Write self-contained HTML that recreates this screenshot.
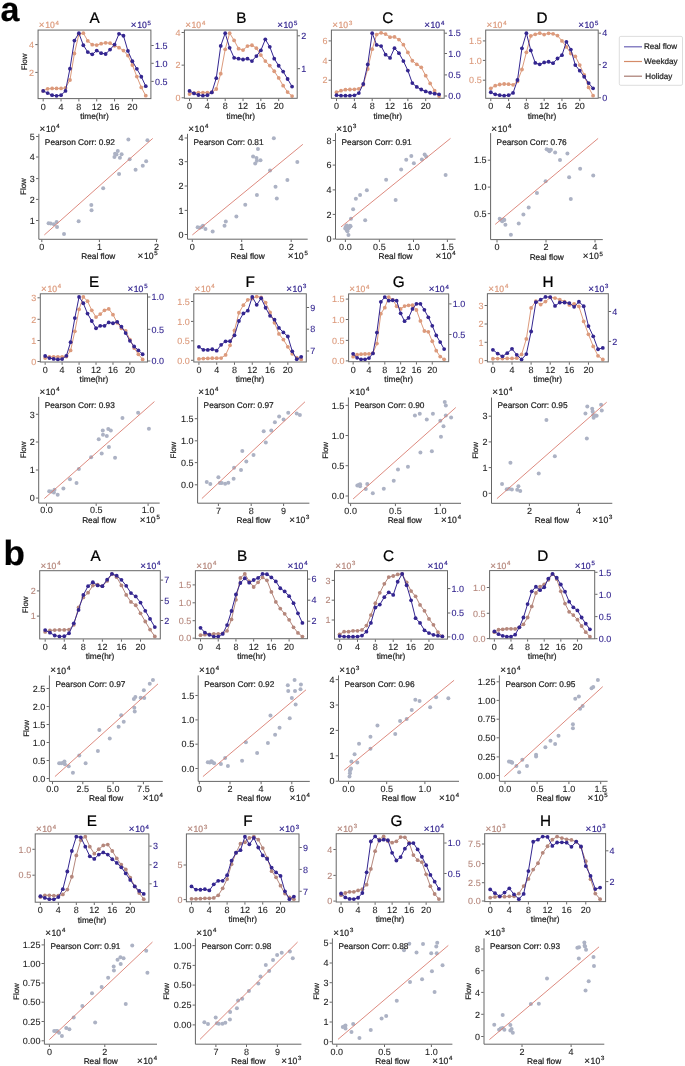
<!DOCTYPE html>
<html><head><meta charset="utf-8"><title>Figure</title><style>
html,body{margin:0;padding:0;background:#fff;}
svg{display:block;font-family:"Liberation Sans", sans-serif;will-change:transform;text-rendering:geometricPrecision;filter:blur(0.25px);}
text{stroke:currentColor;stroke-width:0.22px;}
text.t{stroke-width:0.1px;}
</style></head><body>
<svg width="685" height="1066" viewBox="0 0 685 1066">
<rect width="685" height="1066" fill="#fff"/>
<g clip-path="none">
<polyline points="43.20,90.88 47.66,88.81 52.12,88.46 56.58,88.46 61.04,88.46 65.50,87.95 69.96,80.02 74.42,53.49 78.88,34.20 83.34,33.17 87.80,40.92 92.26,44.71 96.71,45.05 101.17,43.68 105.63,42.81 110.09,43.16 114.55,45.74 119.01,47.64 123.47,50.57 127.93,55.56 132.39,65.04 136.85,76.58 141.31,87.43 145.77,95.70" fill="none" stroke="#dc9a7c" stroke-width="1.0" stroke-linejoin="round"/>
<circle cx="43.20" cy="90.88" r="1.9" fill="#dc9a7c"/><circle cx="47.66" cy="88.81" r="1.9" fill="#dc9a7c"/><circle cx="52.12" cy="88.46" r="1.9" fill="#dc9a7c"/><circle cx="56.58" cy="88.46" r="1.9" fill="#dc9a7c"/><circle cx="61.04" cy="88.46" r="1.9" fill="#dc9a7c"/><circle cx="65.50" cy="87.95" r="1.9" fill="#dc9a7c"/><circle cx="69.96" cy="80.02" r="1.9" fill="#dc9a7c"/><circle cx="74.42" cy="53.49" r="1.9" fill="#dc9a7c"/><circle cx="78.88" cy="34.20" r="1.9" fill="#dc9a7c"/><circle cx="83.34" cy="33.17" r="1.9" fill="#dc9a7c"/><circle cx="87.80" cy="40.92" r="1.9" fill="#dc9a7c"/><circle cx="92.26" cy="44.71" r="1.9" fill="#dc9a7c"/><circle cx="96.71" cy="45.05" r="1.9" fill="#dc9a7c"/><circle cx="101.17" cy="43.68" r="1.9" fill="#dc9a7c"/><circle cx="105.63" cy="42.81" r="1.9" fill="#dc9a7c"/><circle cx="110.09" cy="43.16" r="1.9" fill="#dc9a7c"/><circle cx="114.55" cy="45.74" r="1.9" fill="#dc9a7c"/><circle cx="119.01" cy="47.64" r="1.9" fill="#dc9a7c"/><circle cx="123.47" cy="50.57" r="1.9" fill="#dc9a7c"/><circle cx="127.93" cy="55.56" r="1.9" fill="#dc9a7c"/><circle cx="132.39" cy="65.04" r="1.9" fill="#dc9a7c"/><circle cx="136.85" cy="76.58" r="1.9" fill="#dc9a7c"/><circle cx="141.31" cy="87.43" r="1.9" fill="#dc9a7c"/><circle cx="145.77" cy="95.70" r="1.9" fill="#dc9a7c"/>
<polyline points="43.20,90.88 47.66,93.12 52.12,95.18 56.58,95.87 61.04,95.18 65.50,90.88 69.96,68.65 74.42,40.58 78.88,33.17 83.34,45.23 87.80,52.12 92.26,54.36 96.71,50.57 101.17,53.15 105.63,54.01 110.09,49.53 114.55,44.54 119.01,33.86 123.47,35.75 127.93,50.91 132.39,61.25 136.85,68.83 141.31,76.75 145.77,86.22" fill="none" stroke="#342690" stroke-width="1.0" stroke-linejoin="round"/>
<circle cx="43.20" cy="90.88" r="1.9" fill="#342690"/><circle cx="47.66" cy="93.12" r="1.9" fill="#342690"/><circle cx="52.12" cy="95.18" r="1.9" fill="#342690"/><circle cx="56.58" cy="95.87" r="1.9" fill="#342690"/><circle cx="61.04" cy="95.18" r="1.9" fill="#342690"/><circle cx="65.50" cy="90.88" r="1.9" fill="#342690"/><circle cx="69.96" cy="68.65" r="1.9" fill="#342690"/><circle cx="74.42" cy="40.58" r="1.9" fill="#342690"/><circle cx="78.88" cy="33.17" r="1.9" fill="#342690"/><circle cx="83.34" cy="45.23" r="1.9" fill="#342690"/><circle cx="87.80" cy="52.12" r="1.9" fill="#342690"/><circle cx="92.26" cy="54.36" r="1.9" fill="#342690"/><circle cx="96.71" cy="50.57" r="1.9" fill="#342690"/><circle cx="101.17" cy="53.15" r="1.9" fill="#342690"/><circle cx="105.63" cy="54.01" r="1.9" fill="#342690"/><circle cx="110.09" cy="49.53" r="1.9" fill="#342690"/><circle cx="114.55" cy="44.54" r="1.9" fill="#342690"/><circle cx="119.01" cy="33.86" r="1.9" fill="#342690"/><circle cx="123.47" cy="35.75" r="1.9" fill="#342690"/><circle cx="127.93" cy="50.91" r="1.9" fill="#342690"/><circle cx="132.39" cy="61.25" r="1.9" fill="#342690"/><circle cx="136.85" cy="68.83" r="1.9" fill="#342690"/><circle cx="141.31" cy="76.75" r="1.9" fill="#342690"/><circle cx="145.77" cy="86.22" r="1.9" fill="#342690"/>
</g>
<rect x="38.07" y="30.07" width="112.83" height="68.53" fill="none" stroke="#666" stroke-width="1.0"/>
<line x1="43.20" y1="99.10" x2="43.20" y2="101.40" stroke="#333" stroke-width="0.75"/>
<text class="t" x="43.22" y="109.60" font-size="9.0" letter-spacing="0.05" text-anchor="middle" fill="#1f1f1f" color="#1f1f1f">0</text>
<line x1="61.04" y1="99.10" x2="61.04" y2="101.40" stroke="#333" stroke-width="0.75"/>
<text class="t" x="61.06" y="109.60" font-size="9.0" letter-spacing="0.05" text-anchor="middle" fill="#1f1f1f" color="#1f1f1f">4</text>
<line x1="78.88" y1="99.10" x2="78.88" y2="101.40" stroke="#333" stroke-width="0.75"/>
<text class="t" x="78.90" y="109.60" font-size="9.0" letter-spacing="0.05" text-anchor="middle" fill="#1f1f1f" color="#1f1f1f">8</text>
<line x1="96.71" y1="99.10" x2="96.71" y2="101.40" stroke="#333" stroke-width="0.75"/>
<text class="t" x="96.74" y="109.60" font-size="9.0" letter-spacing="0.05" text-anchor="middle" fill="#1f1f1f" color="#1f1f1f">12</text>
<line x1="114.55" y1="99.10" x2="114.55" y2="101.40" stroke="#333" stroke-width="0.75"/>
<text class="t" x="114.58" y="109.60" font-size="9.0" letter-spacing="0.05" text-anchor="middle" fill="#1f1f1f" color="#1f1f1f">16</text>
<line x1="132.39" y1="99.10" x2="132.39" y2="101.40" stroke="#333" stroke-width="0.75"/>
<text class="t" x="132.42" y="109.60" font-size="9.0" letter-spacing="0.05" text-anchor="middle" fill="#1f1f1f" color="#1f1f1f">20</text>
<text x="94.48" y="118.90" font-size="8.3" text-anchor="middle" fill="#1f1f1f" color="#1f1f1f">time(hr)</text>
<line x1="35.27" y1="44.60" x2="37.57" y2="44.60" stroke="#333" stroke-width="0.75"/>
<text class="t" x="34.12" y="47.80" font-size="9.0" letter-spacing="0.05" text-anchor="end" fill="#dc9a7c" color="#dc9a7c">4</text>
<line x1="35.27" y1="72.40" x2="37.57" y2="72.40" stroke="#333" stroke-width="0.75"/>
<text class="t" x="34.12" y="75.60" font-size="9.0" letter-spacing="0.05" text-anchor="end" fill="#dc9a7c" color="#dc9a7c">2</text>
<line x1="151.40" y1="45.50" x2="153.70" y2="45.50" stroke="#333" stroke-width="0.75"/>
<text class="t" x="154.90" y="48.70" font-size="9.0" letter-spacing="0.05" text-anchor="start" fill="#342690" color="#342690">1.5</text>
<line x1="151.40" y1="63.30" x2="153.70" y2="63.30" stroke="#333" stroke-width="0.75"/>
<text class="t" x="154.90" y="66.50" font-size="9.0" letter-spacing="0.05" text-anchor="start" fill="#342690" color="#342690">1.0</text>
<line x1="151.40" y1="81.40" x2="153.70" y2="81.40" stroke="#333" stroke-width="0.75"/>
<text class="t" x="154.90" y="84.60" font-size="9.0" letter-spacing="0.05" text-anchor="start" fill="#342690" color="#342690">0.5</text>
<g fill="#dc9a7c" color="#dc9a7c"><text x="41.67" y="28.17" font-size="9.8" text-anchor="middle">×</text><text x="45.17" y="28.27" font-size="9.0" textLength="9.6" lengthAdjust="spacingAndGlyphs">10</text><text x="55.57" y="24.67" font-size="6.0">4</text></g>
<g fill="#342690" color="#342690"><text x="133.70" y="28.17" font-size="9.8" text-anchor="middle">×</text><text x="137.20" y="28.27" font-size="9.0" textLength="9.6" lengthAdjust="spacingAndGlyphs">10</text><text x="147.60" y="24.67" font-size="6.0">5</text></g>
<text x="94.50" y="22.70" font-size="15.3" text-anchor="middle" fill="#000" color="#000">A</text>
<text x="0" y="0" font-size="7.9" text-anchor="middle" fill="#1f1f1f" color="#1f1f1f" transform="translate(26.70,61.90) rotate(-90)">Flow</text>
<g clip-path="none">
<polyline points="189.53,93.98 193.99,93.12 198.44,92.77 202.90,92.60 207.36,92.60 211.82,92.25 216.28,88.98 220.74,73.65 225.20,49.36 229.65,33.17 234.11,40.40 238.57,48.67 243.03,50.05 247.49,46.09 251.95,45.23 256.40,48.15 260.86,55.05 265.32,61.07 269.78,65.55 274.24,71.24 278.70,77.96 283.16,85.71 287.61,92.08 292.07,96.04" fill="none" stroke="#dc9a7c" stroke-width="1.0" stroke-linejoin="round"/>
<circle cx="189.53" cy="93.98" r="1.9" fill="#dc9a7c"/><circle cx="193.99" cy="93.12" r="1.9" fill="#dc9a7c"/><circle cx="198.44" cy="92.77" r="1.9" fill="#dc9a7c"/><circle cx="202.90" cy="92.60" r="1.9" fill="#dc9a7c"/><circle cx="207.36" cy="92.60" r="1.9" fill="#dc9a7c"/><circle cx="211.82" cy="92.25" r="1.9" fill="#dc9a7c"/><circle cx="216.28" cy="88.98" r="1.9" fill="#dc9a7c"/><circle cx="220.74" cy="73.65" r="1.9" fill="#dc9a7c"/><circle cx="225.20" cy="49.36" r="1.9" fill="#dc9a7c"/><circle cx="229.65" cy="33.17" r="1.9" fill="#dc9a7c"/><circle cx="234.11" cy="40.40" r="1.9" fill="#dc9a7c"/><circle cx="238.57" cy="48.67" r="1.9" fill="#dc9a7c"/><circle cx="243.03" cy="50.05" r="1.9" fill="#dc9a7c"/><circle cx="247.49" cy="46.09" r="1.9" fill="#dc9a7c"/><circle cx="251.95" cy="45.23" r="1.9" fill="#dc9a7c"/><circle cx="256.40" cy="48.15" r="1.9" fill="#dc9a7c"/><circle cx="260.86" cy="55.05" r="1.9" fill="#dc9a7c"/><circle cx="265.32" cy="61.07" r="1.9" fill="#dc9a7c"/><circle cx="269.78" cy="65.55" r="1.9" fill="#dc9a7c"/><circle cx="274.24" cy="71.24" r="1.9" fill="#dc9a7c"/><circle cx="278.70" cy="77.96" r="1.9" fill="#dc9a7c"/><circle cx="283.16" cy="85.71" r="1.9" fill="#dc9a7c"/><circle cx="287.61" cy="92.08" r="1.9" fill="#dc9a7c"/><circle cx="292.07" cy="96.04" r="1.9" fill="#dc9a7c"/>
<polyline points="189.53,90.88 193.99,93.46 198.44,95.01 202.90,95.70 207.36,95.18 211.82,92.43 216.28,78.13 220.74,45.92 225.20,33.17 229.65,47.81 234.11,57.80 238.57,58.66 243.03,59.52 247.49,58.66 251.95,61.07 256.40,56.08 260.86,50.39 265.32,39.37 269.78,46.78 274.24,58.66 278.70,65.73 283.16,71.58 287.61,78.99 292.07,86.57" fill="none" stroke="#342690" stroke-width="1.0" stroke-linejoin="round"/>
<circle cx="189.53" cy="90.88" r="1.9" fill="#342690"/><circle cx="193.99" cy="93.46" r="1.9" fill="#342690"/><circle cx="198.44" cy="95.01" r="1.9" fill="#342690"/><circle cx="202.90" cy="95.70" r="1.9" fill="#342690"/><circle cx="207.36" cy="95.18" r="1.9" fill="#342690"/><circle cx="211.82" cy="92.43" r="1.9" fill="#342690"/><circle cx="216.28" cy="78.13" r="1.9" fill="#342690"/><circle cx="220.74" cy="45.92" r="1.9" fill="#342690"/><circle cx="225.20" cy="33.17" r="1.9" fill="#342690"/><circle cx="229.65" cy="47.81" r="1.9" fill="#342690"/><circle cx="234.11" cy="57.80" r="1.9" fill="#342690"/><circle cx="238.57" cy="58.66" r="1.9" fill="#342690"/><circle cx="243.03" cy="59.52" r="1.9" fill="#342690"/><circle cx="247.49" cy="58.66" r="1.9" fill="#342690"/><circle cx="251.95" cy="61.07" r="1.9" fill="#342690"/><circle cx="256.40" cy="56.08" r="1.9" fill="#342690"/><circle cx="260.86" cy="50.39" r="1.9" fill="#342690"/><circle cx="265.32" cy="39.37" r="1.9" fill="#342690"/><circle cx="269.78" cy="46.78" r="1.9" fill="#342690"/><circle cx="274.24" cy="58.66" r="1.9" fill="#342690"/><circle cx="278.70" cy="65.73" r="1.9" fill="#342690"/><circle cx="283.16" cy="71.58" r="1.9" fill="#342690"/><circle cx="287.61" cy="78.99" r="1.9" fill="#342690"/><circle cx="292.07" cy="86.57" r="1.9" fill="#342690"/>
</g>
<rect x="184.40" y="30.07" width="112.80" height="68.23" fill="none" stroke="#666" stroke-width="1.0"/>
<line x1="189.53" y1="98.80" x2="189.53" y2="101.10" stroke="#333" stroke-width="0.75"/>
<text class="t" x="189.55" y="109.30" font-size="9.0" letter-spacing="0.05" text-anchor="middle" fill="#1f1f1f" color="#1f1f1f">0</text>
<line x1="207.36" y1="98.80" x2="207.36" y2="101.10" stroke="#333" stroke-width="0.75"/>
<text class="t" x="207.39" y="109.30" font-size="9.0" letter-spacing="0.05" text-anchor="middle" fill="#1f1f1f" color="#1f1f1f">4</text>
<line x1="225.20" y1="98.80" x2="225.20" y2="101.10" stroke="#333" stroke-width="0.75"/>
<text class="t" x="225.22" y="109.30" font-size="9.0" letter-spacing="0.05" text-anchor="middle" fill="#1f1f1f" color="#1f1f1f">8</text>
<line x1="243.03" y1="98.80" x2="243.03" y2="101.10" stroke="#333" stroke-width="0.75"/>
<text class="t" x="243.05" y="109.30" font-size="9.0" letter-spacing="0.05" text-anchor="middle" fill="#1f1f1f" color="#1f1f1f">12</text>
<line x1="260.86" y1="98.80" x2="260.86" y2="101.10" stroke="#333" stroke-width="0.75"/>
<text class="t" x="260.89" y="109.30" font-size="9.0" letter-spacing="0.05" text-anchor="middle" fill="#1f1f1f" color="#1f1f1f">16</text>
<line x1="278.70" y1="98.80" x2="278.70" y2="101.10" stroke="#333" stroke-width="0.75"/>
<text class="t" x="278.72" y="109.30" font-size="9.0" letter-spacing="0.05" text-anchor="middle" fill="#1f1f1f" color="#1f1f1f">20</text>
<text x="240.80" y="118.60" font-size="8.3" text-anchor="middle" fill="#1f1f1f" color="#1f1f1f">time(hr)</text>
<line x1="181.60" y1="32.50" x2="183.90" y2="32.50" stroke="#333" stroke-width="0.75"/>
<text class="t" x="180.45" y="35.70" font-size="9.0" letter-spacing="0.05" text-anchor="end" fill="#dc9a7c" color="#dc9a7c">4</text>
<line x1="181.60" y1="65.15" x2="183.90" y2="65.15" stroke="#333" stroke-width="0.75"/>
<text class="t" x="180.45" y="68.35" font-size="9.0" letter-spacing="0.05" text-anchor="end" fill="#dc9a7c" color="#dc9a7c">2</text>
<line x1="181.60" y1="97.80" x2="183.90" y2="97.80" stroke="#333" stroke-width="0.75"/>
<text class="t" x="180.45" y="101.00" font-size="9.0" letter-spacing="0.05" text-anchor="end" fill="#dc9a7c" color="#dc9a7c">0</text>
<line x1="297.70" y1="35.80" x2="300.00" y2="35.80" stroke="#333" stroke-width="0.75"/>
<text class="t" x="301.20" y="39.00" font-size="9.0" letter-spacing="0.05" text-anchor="start" fill="#342690" color="#342690">2</text>
<line x1="297.70" y1="68.70" x2="300.00" y2="68.70" stroke="#333" stroke-width="0.75"/>
<text class="t" x="301.20" y="71.90" font-size="9.0" letter-spacing="0.05" text-anchor="start" fill="#342690" color="#342690">1</text>
<g fill="#dc9a7c" color="#dc9a7c"><text x="188.00" y="28.17" font-size="9.8" text-anchor="middle">×</text><text x="191.50" y="28.27" font-size="9.0" textLength="9.6" lengthAdjust="spacingAndGlyphs">10</text><text x="201.90" y="24.67" font-size="6.0">4</text></g>
<g fill="#342690" color="#342690"><text x="280.00" y="28.17" font-size="9.8" text-anchor="middle">×</text><text x="283.50" y="28.27" font-size="9.0" textLength="9.6" lengthAdjust="spacingAndGlyphs">10</text><text x="293.90" y="24.67" font-size="6.0">5</text></g>
<text x="241.40" y="22.70" font-size="15.3" text-anchor="middle" fill="#000" color="#000">B</text>
<g clip-path="none">
<polyline points="336.53,92.25 340.99,90.70 345.44,89.67 349.90,89.50 354.36,89.33 358.82,88.81 363.28,84.85 367.74,69.00 372.20,49.19 376.65,34.55 381.11,32.82 385.57,34.03 390.03,37.13 394.49,36.96 398.95,39.54 403.40,44.71 407.86,52.46 412.32,60.73 416.78,64.35 421.24,67.28 425.70,75.72 430.16,83.47 434.61,90.70 439.07,96.04" fill="none" stroke="#dc9a7c" stroke-width="1.0" stroke-linejoin="round"/>
<circle cx="336.53" cy="92.25" r="1.9" fill="#dc9a7c"/><circle cx="340.99" cy="90.70" r="1.9" fill="#dc9a7c"/><circle cx="345.44" cy="89.67" r="1.9" fill="#dc9a7c"/><circle cx="349.90" cy="89.50" r="1.9" fill="#dc9a7c"/><circle cx="354.36" cy="89.33" r="1.9" fill="#dc9a7c"/><circle cx="358.82" cy="88.81" r="1.9" fill="#dc9a7c"/><circle cx="363.28" cy="84.85" r="1.9" fill="#dc9a7c"/><circle cx="367.74" cy="69.00" r="1.9" fill="#dc9a7c"/><circle cx="372.20" cy="49.19" r="1.9" fill="#dc9a7c"/><circle cx="376.65" cy="34.55" r="1.9" fill="#dc9a7c"/><circle cx="381.11" cy="32.82" r="1.9" fill="#dc9a7c"/><circle cx="385.57" cy="34.03" r="1.9" fill="#dc9a7c"/><circle cx="390.03" cy="37.13" r="1.9" fill="#dc9a7c"/><circle cx="394.49" cy="36.96" r="1.9" fill="#dc9a7c"/><circle cx="398.95" cy="39.54" r="1.9" fill="#dc9a7c"/><circle cx="403.40" cy="44.71" r="1.9" fill="#dc9a7c"/><circle cx="407.86" cy="52.46" r="1.9" fill="#dc9a7c"/><circle cx="412.32" cy="60.73" r="1.9" fill="#dc9a7c"/><circle cx="416.78" cy="64.35" r="1.9" fill="#dc9a7c"/><circle cx="421.24" cy="67.28" r="1.9" fill="#dc9a7c"/><circle cx="425.70" cy="75.72" r="1.9" fill="#dc9a7c"/><circle cx="430.16" cy="83.47" r="1.9" fill="#dc9a7c"/><circle cx="434.61" cy="90.70" r="1.9" fill="#dc9a7c"/><circle cx="439.07" cy="96.04" r="1.9" fill="#dc9a7c"/>
<polyline points="336.53,95.18 340.99,95.70 345.44,95.70 349.90,95.70 354.36,95.35 358.82,93.12 363.28,83.99 367.74,64.52 372.20,33.17 376.65,44.88 381.11,46.09 385.57,54.70 390.03,57.97 394.49,48.15 398.95,53.15 403.40,61.07 407.86,70.55 412.32,83.12 416.78,86.91 421.24,89.50 425.70,91.39 430.16,92.77 434.61,93.63 439.07,94.32" fill="none" stroke="#342690" stroke-width="1.0" stroke-linejoin="round"/>
<circle cx="336.53" cy="95.18" r="1.9" fill="#342690"/><circle cx="340.99" cy="95.70" r="1.9" fill="#342690"/><circle cx="345.44" cy="95.70" r="1.9" fill="#342690"/><circle cx="349.90" cy="95.70" r="1.9" fill="#342690"/><circle cx="354.36" cy="95.35" r="1.9" fill="#342690"/><circle cx="358.82" cy="93.12" r="1.9" fill="#342690"/><circle cx="363.28" cy="83.99" r="1.9" fill="#342690"/><circle cx="367.74" cy="64.52" r="1.9" fill="#342690"/><circle cx="372.20" cy="33.17" r="1.9" fill="#342690"/><circle cx="376.65" cy="44.88" r="1.9" fill="#342690"/><circle cx="381.11" cy="46.09" r="1.9" fill="#342690"/><circle cx="385.57" cy="54.70" r="1.9" fill="#342690"/><circle cx="390.03" cy="57.97" r="1.9" fill="#342690"/><circle cx="394.49" cy="48.15" r="1.9" fill="#342690"/><circle cx="398.95" cy="53.15" r="1.9" fill="#342690"/><circle cx="403.40" cy="61.07" r="1.9" fill="#342690"/><circle cx="407.86" cy="70.55" r="1.9" fill="#342690"/><circle cx="412.32" cy="83.12" r="1.9" fill="#342690"/><circle cx="416.78" cy="86.91" r="1.9" fill="#342690"/><circle cx="421.24" cy="89.50" r="1.9" fill="#342690"/><circle cx="425.70" cy="91.39" r="1.9" fill="#342690"/><circle cx="430.16" cy="92.77" r="1.9" fill="#342690"/><circle cx="434.61" cy="93.63" r="1.9" fill="#342690"/><circle cx="439.07" cy="94.32" r="1.9" fill="#342690"/>
</g>
<rect x="331.40" y="30.07" width="112.80" height="68.23" fill="none" stroke="#666" stroke-width="1.0"/>
<line x1="336.53" y1="98.80" x2="336.53" y2="101.10" stroke="#333" stroke-width="0.75"/>
<text class="t" x="336.55" y="109.30" font-size="9.0" letter-spacing="0.05" text-anchor="middle" fill="#1f1f1f" color="#1f1f1f">0</text>
<line x1="354.36" y1="98.80" x2="354.36" y2="101.10" stroke="#333" stroke-width="0.75"/>
<text class="t" x="354.39" y="109.30" font-size="9.0" letter-spacing="0.05" text-anchor="middle" fill="#1f1f1f" color="#1f1f1f">4</text>
<line x1="372.20" y1="98.80" x2="372.20" y2="101.10" stroke="#333" stroke-width="0.75"/>
<text class="t" x="372.22" y="109.30" font-size="9.0" letter-spacing="0.05" text-anchor="middle" fill="#1f1f1f" color="#1f1f1f">8</text>
<line x1="390.03" y1="98.80" x2="390.03" y2="101.10" stroke="#333" stroke-width="0.75"/>
<text class="t" x="390.05" y="109.30" font-size="9.0" letter-spacing="0.05" text-anchor="middle" fill="#1f1f1f" color="#1f1f1f">12</text>
<line x1="407.86" y1="98.80" x2="407.86" y2="101.10" stroke="#333" stroke-width="0.75"/>
<text class="t" x="407.89" y="109.30" font-size="9.0" letter-spacing="0.05" text-anchor="middle" fill="#1f1f1f" color="#1f1f1f">16</text>
<line x1="425.70" y1="98.80" x2="425.70" y2="101.10" stroke="#333" stroke-width="0.75"/>
<text class="t" x="425.72" y="109.30" font-size="9.0" letter-spacing="0.05" text-anchor="middle" fill="#1f1f1f" color="#1f1f1f">20</text>
<text x="387.80" y="118.60" font-size="8.3" text-anchor="middle" fill="#1f1f1f" color="#1f1f1f">time(hr)</text>
<line x1="328.60" y1="40.90" x2="330.90" y2="40.90" stroke="#333" stroke-width="0.75"/>
<text class="t" x="327.45" y="44.10" font-size="9.0" letter-spacing="0.05" text-anchor="end" fill="#dc9a7c" color="#dc9a7c">6</text>
<line x1="328.60" y1="60.40" x2="330.90" y2="60.40" stroke="#333" stroke-width="0.75"/>
<text class="t" x="327.45" y="63.60" font-size="9.0" letter-spacing="0.05" text-anchor="end" fill="#dc9a7c" color="#dc9a7c">4</text>
<line x1="328.60" y1="80.20" x2="330.90" y2="80.20" stroke="#333" stroke-width="0.75"/>
<text class="t" x="327.45" y="83.40" font-size="9.0" letter-spacing="0.05" text-anchor="end" fill="#dc9a7c" color="#dc9a7c">2</text>
<line x1="444.70" y1="33.20" x2="447.00" y2="33.20" stroke="#333" stroke-width="0.75"/>
<text class="t" x="448.20" y="36.40" font-size="9.0" letter-spacing="0.05" text-anchor="start" fill="#342690" color="#342690">1.5</text>
<line x1="444.70" y1="53.50" x2="447.00" y2="53.50" stroke="#333" stroke-width="0.75"/>
<text class="t" x="448.20" y="56.70" font-size="9.0" letter-spacing="0.05" text-anchor="start" fill="#342690" color="#342690">1.0</text>
<line x1="444.70" y1="74.90" x2="447.00" y2="74.90" stroke="#333" stroke-width="0.75"/>
<text class="t" x="448.20" y="78.10" font-size="9.0" letter-spacing="0.05" text-anchor="start" fill="#342690" color="#342690">0.5</text>
<line x1="444.70" y1="96.00" x2="447.00" y2="96.00" stroke="#333" stroke-width="0.75"/>
<text class="t" x="448.20" y="99.20" font-size="9.0" letter-spacing="0.05" text-anchor="start" fill="#342690" color="#342690">0.0</text>
<g fill="#dc9a7c" color="#dc9a7c"><text x="335.00" y="28.17" font-size="9.8" text-anchor="middle">×</text><text x="338.50" y="28.27" font-size="9.0" textLength="9.6" lengthAdjust="spacingAndGlyphs">10</text><text x="348.90" y="24.67" font-size="6.0">3</text></g>
<g fill="#342690" color="#342690"><text x="427.00" y="28.17" font-size="9.8" text-anchor="middle">×</text><text x="430.50" y="28.27" font-size="9.0" textLength="9.6" lengthAdjust="spacingAndGlyphs">10</text><text x="440.90" y="24.67" font-size="6.0">4</text></g>
<text x="387.70" y="22.70" font-size="15.3" text-anchor="middle" fill="#000" color="#000">C</text>
<g clip-path="none">
<polyline points="490.81,88.29 495.26,85.71 499.71,84.50 504.15,83.99 508.60,84.16 513.05,84.85 517.49,81.40 521.94,69.52 526.39,52.29 530.83,35.92 535.28,34.37 539.73,33.17 544.17,34.55 548.62,33.34 553.07,33.86 557.51,35.58 561.96,40.92 566.41,46.95 570.85,53.49 575.30,56.42 579.75,65.04 584.19,74.86 588.64,87.43 593.09,95.70" fill="none" stroke="#dc9a7c" stroke-width="1.0" stroke-linejoin="round"/>
<circle cx="490.81" cy="88.29" r="1.9" fill="#dc9a7c"/><circle cx="495.26" cy="85.71" r="1.9" fill="#dc9a7c"/><circle cx="499.71" cy="84.50" r="1.9" fill="#dc9a7c"/><circle cx="504.15" cy="83.99" r="1.9" fill="#dc9a7c"/><circle cx="508.60" cy="84.16" r="1.9" fill="#dc9a7c"/><circle cx="513.05" cy="84.85" r="1.9" fill="#dc9a7c"/><circle cx="517.49" cy="81.40" r="1.9" fill="#dc9a7c"/><circle cx="521.94" cy="69.52" r="1.9" fill="#dc9a7c"/><circle cx="526.39" cy="52.29" r="1.9" fill="#dc9a7c"/><circle cx="530.83" cy="35.92" r="1.9" fill="#dc9a7c"/><circle cx="535.28" cy="34.37" r="1.9" fill="#dc9a7c"/><circle cx="539.73" cy="33.17" r="1.9" fill="#dc9a7c"/><circle cx="544.17" cy="34.55" r="1.9" fill="#dc9a7c"/><circle cx="548.62" cy="33.34" r="1.9" fill="#dc9a7c"/><circle cx="553.07" cy="33.86" r="1.9" fill="#dc9a7c"/><circle cx="557.51" cy="35.58" r="1.9" fill="#dc9a7c"/><circle cx="561.96" cy="40.92" r="1.9" fill="#dc9a7c"/><circle cx="566.41" cy="46.95" r="1.9" fill="#dc9a7c"/><circle cx="570.85" cy="53.49" r="1.9" fill="#dc9a7c"/><circle cx="575.30" cy="56.42" r="1.9" fill="#dc9a7c"/><circle cx="579.75" cy="65.04" r="1.9" fill="#dc9a7c"/><circle cx="584.19" cy="74.86" r="1.9" fill="#dc9a7c"/><circle cx="588.64" cy="87.43" r="1.9" fill="#dc9a7c"/><circle cx="593.09" cy="95.70" r="1.9" fill="#dc9a7c"/>
<polyline points="490.81,92.25 495.26,94.32 499.71,95.18 504.15,95.70 508.60,95.18 513.05,92.94 517.49,80.02 521.94,48.33 526.39,33.17 530.83,50.39 535.28,62.97 539.73,64.35 544.17,62.45 548.62,61.76 553.07,63.14 557.51,58.49 561.96,55.22 566.41,41.78 570.85,49.53 575.30,65.04 579.75,70.72 584.19,76.75 588.64,83.12 593.09,88.29" fill="none" stroke="#342690" stroke-width="1.0" stroke-linejoin="round"/>
<circle cx="490.81" cy="92.25" r="1.9" fill="#342690"/><circle cx="495.26" cy="94.32" r="1.9" fill="#342690"/><circle cx="499.71" cy="95.18" r="1.9" fill="#342690"/><circle cx="504.15" cy="95.70" r="1.9" fill="#342690"/><circle cx="508.60" cy="95.18" r="1.9" fill="#342690"/><circle cx="513.05" cy="92.94" r="1.9" fill="#342690"/><circle cx="517.49" cy="80.02" r="1.9" fill="#342690"/><circle cx="521.94" cy="48.33" r="1.9" fill="#342690"/><circle cx="526.39" cy="33.17" r="1.9" fill="#342690"/><circle cx="530.83" cy="50.39" r="1.9" fill="#342690"/><circle cx="535.28" cy="62.97" r="1.9" fill="#342690"/><circle cx="539.73" cy="64.35" r="1.9" fill="#342690"/><circle cx="544.17" cy="62.45" r="1.9" fill="#342690"/><circle cx="548.62" cy="61.76" r="1.9" fill="#342690"/><circle cx="553.07" cy="63.14" r="1.9" fill="#342690"/><circle cx="557.51" cy="58.49" r="1.9" fill="#342690"/><circle cx="561.96" cy="55.22" r="1.9" fill="#342690"/><circle cx="566.41" cy="41.78" r="1.9" fill="#342690"/><circle cx="570.85" cy="49.53" r="1.9" fill="#342690"/><circle cx="575.30" cy="65.04" r="1.9" fill="#342690"/><circle cx="579.75" cy="70.72" r="1.9" fill="#342690"/><circle cx="584.19" cy="76.75" r="1.9" fill="#342690"/><circle cx="588.64" cy="83.12" r="1.9" fill="#342690"/><circle cx="593.09" cy="88.29" r="1.9" fill="#342690"/>
</g>
<rect x="485.70" y="30.07" width="112.50" height="68.23" fill="none" stroke="#666" stroke-width="1.0"/>
<line x1="490.81" y1="98.80" x2="490.81" y2="101.10" stroke="#333" stroke-width="0.75"/>
<text class="t" x="490.84" y="109.30" font-size="9.0" letter-spacing="0.05" text-anchor="middle" fill="#1f1f1f" color="#1f1f1f">0</text>
<line x1="508.60" y1="98.80" x2="508.60" y2="101.10" stroke="#333" stroke-width="0.75"/>
<text class="t" x="508.63" y="109.30" font-size="9.0" letter-spacing="0.05" text-anchor="middle" fill="#1f1f1f" color="#1f1f1f">4</text>
<line x1="526.39" y1="98.80" x2="526.39" y2="101.10" stroke="#333" stroke-width="0.75"/>
<text class="t" x="526.41" y="109.30" font-size="9.0" letter-spacing="0.05" text-anchor="middle" fill="#1f1f1f" color="#1f1f1f">8</text>
<line x1="544.17" y1="98.80" x2="544.17" y2="101.10" stroke="#333" stroke-width="0.75"/>
<text class="t" x="544.20" y="109.30" font-size="9.0" letter-spacing="0.05" text-anchor="middle" fill="#1f1f1f" color="#1f1f1f">12</text>
<line x1="561.96" y1="98.80" x2="561.96" y2="101.10" stroke="#333" stroke-width="0.75"/>
<text class="t" x="561.98" y="109.30" font-size="9.0" letter-spacing="0.05" text-anchor="middle" fill="#1f1f1f" color="#1f1f1f">16</text>
<line x1="579.75" y1="98.80" x2="579.75" y2="101.10" stroke="#333" stroke-width="0.75"/>
<text class="t" x="579.77" y="109.30" font-size="9.0" letter-spacing="0.05" text-anchor="middle" fill="#1f1f1f" color="#1f1f1f">20</text>
<text x="541.95" y="118.60" font-size="8.3" text-anchor="middle" fill="#1f1f1f" color="#1f1f1f">time(hr)</text>
<line x1="482.90" y1="40.90" x2="485.20" y2="40.90" stroke="#333" stroke-width="0.75"/>
<text class="t" x="481.75" y="44.10" font-size="9.0" letter-spacing="0.05" text-anchor="end" fill="#dc9a7c" color="#dc9a7c">1.5</text>
<line x1="482.90" y1="60.40" x2="485.20" y2="60.40" stroke="#333" stroke-width="0.75"/>
<text class="t" x="481.75" y="63.60" font-size="9.0" letter-spacing="0.05" text-anchor="end" fill="#dc9a7c" color="#dc9a7c">1.0</text>
<line x1="482.90" y1="80.20" x2="485.20" y2="80.20" stroke="#333" stroke-width="0.75"/>
<text class="t" x="481.75" y="83.40" font-size="9.0" letter-spacing="0.05" text-anchor="end" fill="#dc9a7c" color="#dc9a7c">0.5</text>
<line x1="598.70" y1="33.20" x2="601.00" y2="33.20" stroke="#333" stroke-width="0.75"/>
<text class="t" x="602.20" y="36.40" font-size="9.0" letter-spacing="0.05" text-anchor="start" fill="#342690" color="#342690">4</text>
<line x1="598.70" y1="64.70" x2="601.00" y2="64.70" stroke="#333" stroke-width="0.75"/>
<text class="t" x="602.20" y="67.90" font-size="9.0" letter-spacing="0.05" text-anchor="start" fill="#342690" color="#342690">2</text>
<line x1="598.70" y1="97.80" x2="601.00" y2="97.80" stroke="#333" stroke-width="0.75"/>
<text class="t" x="602.20" y="101.00" font-size="9.0" letter-spacing="0.05" text-anchor="start" fill="#342690" color="#342690">0</text>
<g fill="#dc9a7c" color="#dc9a7c"><text x="489.30" y="28.17" font-size="9.8" text-anchor="middle">×</text><text x="492.80" y="28.27" font-size="9.0" textLength="9.6" lengthAdjust="spacingAndGlyphs">10</text><text x="503.20" y="24.67" font-size="6.0">4</text></g>
<g fill="#342690" color="#342690"><text x="581.00" y="28.17" font-size="9.8" text-anchor="middle">×</text><text x="584.50" y="28.27" font-size="9.0" textLength="9.6" lengthAdjust="spacingAndGlyphs">10</text><text x="594.90" y="24.67" font-size="6.0">5</text></g>
<text x="542.00" y="22.70" font-size="15.3" text-anchor="middle" fill="#000" color="#000">D</text>
<g clip-path="none">
<polyline points="45.17,358.04 49.41,356.84 53.65,356.84 57.88,356.84 62.12,356.84 66.36,356.49 70.60,350.46 74.83,331.34 79.07,309.29 83.31,296.89 87.54,301.20 91.78,310.33 96.02,317.05 100.26,314.12 104.49,310.33 108.73,308.95 112.97,314.63 117.20,322.73 121.44,328.24 125.68,330.83 129.92,339.61 134.15,348.05 138.39,354.25 142.63,359.42" fill="none" stroke="#dc9a7c" stroke-width="1.0" stroke-linejoin="round"/>
<circle cx="45.17" cy="358.04" r="1.9" fill="#dc9a7c"/><circle cx="49.41" cy="356.84" r="1.9" fill="#dc9a7c"/><circle cx="53.65" cy="356.84" r="1.9" fill="#dc9a7c"/><circle cx="57.88" cy="356.84" r="1.9" fill="#dc9a7c"/><circle cx="62.12" cy="356.84" r="1.9" fill="#dc9a7c"/><circle cx="66.36" cy="356.49" r="1.9" fill="#dc9a7c"/><circle cx="70.60" cy="350.46" r="1.9" fill="#dc9a7c"/><circle cx="74.83" cy="331.34" r="1.9" fill="#dc9a7c"/><circle cx="79.07" cy="309.29" r="1.9" fill="#dc9a7c"/><circle cx="83.31" cy="296.89" r="1.9" fill="#dc9a7c"/><circle cx="87.54" cy="301.20" r="1.9" fill="#dc9a7c"/><circle cx="91.78" cy="310.33" r="1.9" fill="#dc9a7c"/><circle cx="96.02" cy="317.05" r="1.9" fill="#dc9a7c"/><circle cx="100.26" cy="314.12" r="1.9" fill="#dc9a7c"/><circle cx="104.49" cy="310.33" r="1.9" fill="#dc9a7c"/><circle cx="108.73" cy="308.95" r="1.9" fill="#dc9a7c"/><circle cx="112.97" cy="314.63" r="1.9" fill="#dc9a7c"/><circle cx="117.20" cy="322.73" r="1.9" fill="#dc9a7c"/><circle cx="121.44" cy="328.24" r="1.9" fill="#dc9a7c"/><circle cx="125.68" cy="330.83" r="1.9" fill="#dc9a7c"/><circle cx="129.92" cy="339.61" r="1.9" fill="#dc9a7c"/><circle cx="134.15" cy="348.05" r="1.9" fill="#dc9a7c"/><circle cx="138.39" cy="354.25" r="1.9" fill="#dc9a7c"/><circle cx="142.63" cy="359.42" r="1.9" fill="#dc9a7c"/>
<polyline points="45.17,355.98 49.41,358.04 53.65,358.91 57.88,359.42 62.12,359.08 66.36,355.80 70.60,342.20 74.83,318.08 79.07,296.89 83.31,303.26 87.54,313.60 91.78,321.01 96.02,328.24 100.26,325.83 104.49,325.83 108.73,322.39 112.97,323.25 117.20,321.87 121.44,326.69 125.68,333.07 129.92,340.82 134.15,346.50 138.39,350.29 142.63,354.25" fill="none" stroke="#342690" stroke-width="1.0" stroke-linejoin="round"/>
<circle cx="45.17" cy="355.98" r="1.9" fill="#342690"/><circle cx="49.41" cy="358.04" r="1.9" fill="#342690"/><circle cx="53.65" cy="358.91" r="1.9" fill="#342690"/><circle cx="57.88" cy="359.42" r="1.9" fill="#342690"/><circle cx="62.12" cy="359.08" r="1.9" fill="#342690"/><circle cx="66.36" cy="355.80" r="1.9" fill="#342690"/><circle cx="70.60" cy="342.20" r="1.9" fill="#342690"/><circle cx="74.83" cy="318.08" r="1.9" fill="#342690"/><circle cx="79.07" cy="296.89" r="1.9" fill="#342690"/><circle cx="83.31" cy="303.26" r="1.9" fill="#342690"/><circle cx="87.54" cy="313.60" r="1.9" fill="#342690"/><circle cx="91.78" cy="321.01" r="1.9" fill="#342690"/><circle cx="96.02" cy="328.24" r="1.9" fill="#342690"/><circle cx="100.26" cy="325.83" r="1.9" fill="#342690"/><circle cx="104.49" cy="325.83" r="1.9" fill="#342690"/><circle cx="108.73" cy="322.39" r="1.9" fill="#342690"/><circle cx="112.97" cy="323.25" r="1.9" fill="#342690"/><circle cx="117.20" cy="321.87" r="1.9" fill="#342690"/><circle cx="121.44" cy="326.69" r="1.9" fill="#342690"/><circle cx="125.68" cy="333.07" r="1.9" fill="#342690"/><circle cx="129.92" cy="340.82" r="1.9" fill="#342690"/><circle cx="134.15" cy="346.50" r="1.9" fill="#342690"/><circle cx="138.39" cy="350.29" r="1.9" fill="#342690"/><circle cx="142.63" cy="354.25" r="1.9" fill="#342690"/>
</g>
<rect x="40.30" y="293.80" width="107.20" height="68.20" fill="none" stroke="#666" stroke-width="1.0"/>
<line x1="45.17" y1="362.50" x2="45.17" y2="364.80" stroke="#333" stroke-width="0.75"/>
<text class="t" x="45.20" y="373.00" font-size="9.0" letter-spacing="0.05" text-anchor="middle" fill="#1f1f1f" color="#1f1f1f">0</text>
<line x1="62.12" y1="362.50" x2="62.12" y2="364.80" stroke="#333" stroke-width="0.75"/>
<text class="t" x="62.15" y="373.00" font-size="9.0" letter-spacing="0.05" text-anchor="middle" fill="#1f1f1f" color="#1f1f1f">4</text>
<line x1="79.07" y1="362.50" x2="79.07" y2="364.80" stroke="#333" stroke-width="0.75"/>
<text class="t" x="79.09" y="373.00" font-size="9.0" letter-spacing="0.05" text-anchor="middle" fill="#1f1f1f" color="#1f1f1f">8</text>
<line x1="96.02" y1="362.50" x2="96.02" y2="364.80" stroke="#333" stroke-width="0.75"/>
<text class="t" x="96.04" y="373.00" font-size="9.0" letter-spacing="0.05" text-anchor="middle" fill="#1f1f1f" color="#1f1f1f">12</text>
<line x1="112.97" y1="362.50" x2="112.97" y2="364.80" stroke="#333" stroke-width="0.75"/>
<text class="t" x="112.99" y="373.00" font-size="9.0" letter-spacing="0.05" text-anchor="middle" fill="#1f1f1f" color="#1f1f1f">16</text>
<line x1="129.92" y1="362.50" x2="129.92" y2="364.80" stroke="#333" stroke-width="0.75"/>
<text class="t" x="129.94" y="373.00" font-size="9.0" letter-spacing="0.05" text-anchor="middle" fill="#1f1f1f" color="#1f1f1f">20</text>
<text x="93.90" y="382.30" font-size="8.3" text-anchor="middle" fill="#1f1f1f" color="#1f1f1f">time(hr)</text>
<line x1="37.50" y1="297.80" x2="39.80" y2="297.80" stroke="#333" stroke-width="0.75"/>
<text class="t" x="36.35" y="301.00" font-size="9.0" letter-spacing="0.05" text-anchor="end" fill="#dc9a7c" color="#dc9a7c">3</text>
<line x1="37.50" y1="319.30" x2="39.80" y2="319.30" stroke="#333" stroke-width="0.75"/>
<text class="t" x="36.35" y="322.50" font-size="9.0" letter-spacing="0.05" text-anchor="end" fill="#dc9a7c" color="#dc9a7c">2</text>
<line x1="37.50" y1="340.50" x2="39.80" y2="340.50" stroke="#333" stroke-width="0.75"/>
<text class="t" x="36.35" y="343.70" font-size="9.0" letter-spacing="0.05" text-anchor="end" fill="#dc9a7c" color="#dc9a7c">1</text>
<line x1="37.50" y1="361.50" x2="39.80" y2="361.50" stroke="#333" stroke-width="0.75"/>
<text class="t" x="36.35" y="364.70" font-size="9.0" letter-spacing="0.05" text-anchor="end" fill="#dc9a7c" color="#dc9a7c">0</text>
<line x1="148.00" y1="297.00" x2="150.30" y2="297.00" stroke="#333" stroke-width="0.75"/>
<text class="t" x="151.50" y="300.20" font-size="9.0" letter-spacing="0.05" text-anchor="start" fill="#342690" color="#342690">1.0</text>
<line x1="148.00" y1="329.30" x2="150.30" y2="329.30" stroke="#333" stroke-width="0.75"/>
<text class="t" x="151.50" y="332.50" font-size="9.0" letter-spacing="0.05" text-anchor="start" fill="#342690" color="#342690">0.5</text>
<line x1="148.00" y1="361.00" x2="150.30" y2="361.00" stroke="#333" stroke-width="0.75"/>
<text class="t" x="151.50" y="364.20" font-size="9.0" letter-spacing="0.05" text-anchor="start" fill="#342690" color="#342690">0.0</text>
<g fill="#dc9a7c" color="#dc9a7c"><text x="43.90" y="291.90" font-size="9.8" text-anchor="middle">×</text><text x="47.40" y="292.00" font-size="9.0" textLength="9.6" lengthAdjust="spacingAndGlyphs">10</text><text x="57.80" y="288.40" font-size="6.0">4</text></g>
<g fill="#342690" color="#342690"><text x="130.30" y="291.90" font-size="9.8" text-anchor="middle">×</text><text x="133.80" y="292.00" font-size="9.0" textLength="9.6" lengthAdjust="spacingAndGlyphs">10</text><text x="144.20" y="288.40" font-size="6.0">5</text></g>
<text x="94.20" y="286.50" font-size="15.3" text-anchor="middle" fill="#000" color="#000">E</text>
<g clip-path="none">
<polyline points="198.91,358.91 203.36,358.56 207.81,358.39 212.25,358.22 216.70,358.22 221.15,358.04 225.59,354.94 230.04,345.30 234.49,330.48 238.93,312.74 243.38,305.16 247.83,299.82 252.27,298.61 256.72,296.55 261.17,297.41 265.61,302.58 270.06,312.39 274.51,322.73 278.95,333.93 283.40,339.61 287.85,346.85 292.29,353.74 296.74,357.70 301.19,359.42" fill="none" stroke="#dc9a7c" stroke-width="1.0" stroke-linejoin="round"/>
<circle cx="198.91" cy="358.91" r="1.9" fill="#dc9a7c"/><circle cx="203.36" cy="358.56" r="1.9" fill="#dc9a7c"/><circle cx="207.81" cy="358.39" r="1.9" fill="#dc9a7c"/><circle cx="212.25" cy="358.22" r="1.9" fill="#dc9a7c"/><circle cx="216.70" cy="358.22" r="1.9" fill="#dc9a7c"/><circle cx="221.15" cy="358.04" r="1.9" fill="#dc9a7c"/><circle cx="225.59" cy="354.94" r="1.9" fill="#dc9a7c"/><circle cx="230.04" cy="345.30" r="1.9" fill="#dc9a7c"/><circle cx="234.49" cy="330.48" r="1.9" fill="#dc9a7c"/><circle cx="238.93" cy="312.74" r="1.9" fill="#dc9a7c"/><circle cx="243.38" cy="305.16" r="1.9" fill="#dc9a7c"/><circle cx="247.83" cy="299.82" r="1.9" fill="#dc9a7c"/><circle cx="252.27" cy="298.61" r="1.9" fill="#dc9a7c"/><circle cx="256.72" cy="296.55" r="1.9" fill="#dc9a7c"/><circle cx="261.17" cy="297.41" r="1.9" fill="#dc9a7c"/><circle cx="265.61" cy="302.58" r="1.9" fill="#dc9a7c"/><circle cx="270.06" cy="312.39" r="1.9" fill="#dc9a7c"/><circle cx="274.51" cy="322.73" r="1.9" fill="#dc9a7c"/><circle cx="278.95" cy="333.93" r="1.9" fill="#dc9a7c"/><circle cx="283.40" cy="339.61" r="1.9" fill="#dc9a7c"/><circle cx="287.85" cy="346.85" r="1.9" fill="#dc9a7c"/><circle cx="292.29" cy="353.74" r="1.9" fill="#dc9a7c"/><circle cx="296.74" cy="357.70" r="1.9" fill="#dc9a7c"/><circle cx="301.19" cy="359.42" r="1.9" fill="#dc9a7c"/>
<polyline points="198.91,346.85 203.36,349.78 207.81,349.95 212.25,349.26 216.70,350.64 221.15,344.78 225.59,341.33 230.04,341.16 234.49,335.31 238.93,321.01 243.38,313.43 247.83,310.67 252.27,296.89 256.72,304.81 261.17,298.27 265.61,307.74 270.06,315.84 274.51,319.63 278.95,327.90 283.40,332.38 287.85,336.51 292.29,351.33 296.74,359.25 301.19,356.84" fill="none" stroke="#342690" stroke-width="1.0" stroke-linejoin="round"/>
<circle cx="198.91" cy="346.85" r="1.9" fill="#342690"/><circle cx="203.36" cy="349.78" r="1.9" fill="#342690"/><circle cx="207.81" cy="349.95" r="1.9" fill="#342690"/><circle cx="212.25" cy="349.26" r="1.9" fill="#342690"/><circle cx="216.70" cy="350.64" r="1.9" fill="#342690"/><circle cx="221.15" cy="344.78" r="1.9" fill="#342690"/><circle cx="225.59" cy="341.33" r="1.9" fill="#342690"/><circle cx="230.04" cy="341.16" r="1.9" fill="#342690"/><circle cx="234.49" cy="335.31" r="1.9" fill="#342690"/><circle cx="238.93" cy="321.01" r="1.9" fill="#342690"/><circle cx="243.38" cy="313.43" r="1.9" fill="#342690"/><circle cx="247.83" cy="310.67" r="1.9" fill="#342690"/><circle cx="252.27" cy="296.89" r="1.9" fill="#342690"/><circle cx="256.72" cy="304.81" r="1.9" fill="#342690"/><circle cx="261.17" cy="298.27" r="1.9" fill="#342690"/><circle cx="265.61" cy="307.74" r="1.9" fill="#342690"/><circle cx="270.06" cy="315.84" r="1.9" fill="#342690"/><circle cx="274.51" cy="319.63" r="1.9" fill="#342690"/><circle cx="278.95" cy="327.90" r="1.9" fill="#342690"/><circle cx="283.40" cy="332.38" r="1.9" fill="#342690"/><circle cx="287.85" cy="336.51" r="1.9" fill="#342690"/><circle cx="292.29" cy="351.33" r="1.9" fill="#342690"/><circle cx="296.74" cy="359.25" r="1.9" fill="#342690"/><circle cx="301.19" cy="356.84" r="1.9" fill="#342690"/>
</g>
<rect x="193.80" y="293.80" width="112.50" height="68.20" fill="none" stroke="#666" stroke-width="1.0"/>
<line x1="198.91" y1="362.50" x2="198.91" y2="364.80" stroke="#333" stroke-width="0.75"/>
<text class="t" x="198.94" y="373.00" font-size="9.0" letter-spacing="0.05" text-anchor="middle" fill="#1f1f1f" color="#1f1f1f">0</text>
<line x1="216.70" y1="362.50" x2="216.70" y2="364.80" stroke="#333" stroke-width="0.75"/>
<text class="t" x="216.73" y="373.00" font-size="9.0" letter-spacing="0.05" text-anchor="middle" fill="#1f1f1f" color="#1f1f1f">4</text>
<line x1="234.49" y1="362.50" x2="234.49" y2="364.80" stroke="#333" stroke-width="0.75"/>
<text class="t" x="234.51" y="373.00" font-size="9.0" letter-spacing="0.05" text-anchor="middle" fill="#1f1f1f" color="#1f1f1f">8</text>
<line x1="252.27" y1="362.50" x2="252.27" y2="364.80" stroke="#333" stroke-width="0.75"/>
<text class="t" x="252.30" y="373.00" font-size="9.0" letter-spacing="0.05" text-anchor="middle" fill="#1f1f1f" color="#1f1f1f">12</text>
<line x1="270.06" y1="362.50" x2="270.06" y2="364.80" stroke="#333" stroke-width="0.75"/>
<text class="t" x="270.08" y="373.00" font-size="9.0" letter-spacing="0.05" text-anchor="middle" fill="#1f1f1f" color="#1f1f1f">16</text>
<line x1="287.85" y1="362.50" x2="287.85" y2="364.80" stroke="#333" stroke-width="0.75"/>
<text class="t" x="287.87" y="373.00" font-size="9.0" letter-spacing="0.05" text-anchor="middle" fill="#1f1f1f" color="#1f1f1f">20</text>
<text x="250.05" y="382.30" font-size="8.3" text-anchor="middle" fill="#1f1f1f" color="#1f1f1f">time(hr)</text>
<line x1="191.00" y1="301.50" x2="193.30" y2="301.50" stroke="#333" stroke-width="0.75"/>
<text class="t" x="189.85" y="304.70" font-size="9.0" letter-spacing="0.05" text-anchor="end" fill="#dc9a7c" color="#dc9a7c">1.5</text>
<line x1="191.00" y1="321.40" x2="193.30" y2="321.40" stroke="#333" stroke-width="0.75"/>
<text class="t" x="189.85" y="324.60" font-size="9.0" letter-spacing="0.05" text-anchor="end" fill="#dc9a7c" color="#dc9a7c">1.0</text>
<line x1="191.00" y1="340.80" x2="193.30" y2="340.80" stroke="#333" stroke-width="0.75"/>
<text class="t" x="189.85" y="344.00" font-size="9.0" letter-spacing="0.05" text-anchor="end" fill="#dc9a7c" color="#dc9a7c">0.5</text>
<line x1="191.00" y1="360.30" x2="193.30" y2="360.30" stroke="#333" stroke-width="0.75"/>
<text class="t" x="189.85" y="363.50" font-size="9.0" letter-spacing="0.05" text-anchor="end" fill="#dc9a7c" color="#dc9a7c">0.0</text>
<line x1="306.80" y1="307.50" x2="309.10" y2="307.50" stroke="#333" stroke-width="0.75"/>
<text class="t" x="310.30" y="310.70" font-size="9.0" letter-spacing="0.05" text-anchor="start" fill="#342690" color="#342690">9</text>
<line x1="306.80" y1="329.20" x2="309.10" y2="329.20" stroke="#333" stroke-width="0.75"/>
<text class="t" x="310.30" y="332.40" font-size="9.0" letter-spacing="0.05" text-anchor="start" fill="#342690" color="#342690">8</text>
<line x1="306.80" y1="351.00" x2="309.10" y2="351.00" stroke="#333" stroke-width="0.75"/>
<text class="t" x="310.30" y="354.20" font-size="9.0" letter-spacing="0.05" text-anchor="start" fill="#342690" color="#342690">7</text>
<g fill="#dc9a7c" color="#dc9a7c"><text x="197.40" y="291.90" font-size="9.8" text-anchor="middle">×</text><text x="200.90" y="292.00" font-size="9.0" textLength="9.6" lengthAdjust="spacingAndGlyphs">10</text><text x="211.30" y="288.40" font-size="6.0">4</text></g>
<g fill="#342690" color="#342690"><text x="289.10" y="291.90" font-size="9.8" text-anchor="middle">×</text><text x="292.60" y="292.00" font-size="9.0" textLength="9.6" lengthAdjust="spacingAndGlyphs">10</text><text x="303.00" y="288.40" font-size="6.0">3</text></g>
<text x="250.20" y="286.50" font-size="15.3" text-anchor="middle" fill="#000" color="#000">F</text>
<g clip-path="none">
<polyline points="353.15,356.69 357.11,354.64 361.06,354.17 365.02,354.01 368.98,353.85 372.93,353.07 376.89,343.61 380.85,313.65 384.80,307.66 388.76,297.09 392.72,299.78 396.67,306.24 400.63,308.92 404.58,306.08 408.54,305.29 412.50,305.14 416.45,310.02 420.41,320.90 424.37,330.99 428.32,331.78 432.28,341.24 436.24,350.70 440.19,356.53 444.15,359.37" fill="none" stroke="#dc9a7c" stroke-width="1.0" stroke-linejoin="round"/>
<circle cx="353.15" cy="356.69" r="1.9" fill="#dc9a7c"/><circle cx="357.11" cy="354.64" r="1.9" fill="#dc9a7c"/><circle cx="361.06" cy="354.17" r="1.9" fill="#dc9a7c"/><circle cx="365.02" cy="354.01" r="1.9" fill="#dc9a7c"/><circle cx="368.98" cy="353.85" r="1.9" fill="#dc9a7c"/><circle cx="372.93" cy="353.07" r="1.9" fill="#dc9a7c"/><circle cx="376.89" cy="343.61" r="1.9" fill="#dc9a7c"/><circle cx="380.85" cy="313.65" r="1.9" fill="#dc9a7c"/><circle cx="384.80" cy="307.66" r="1.9" fill="#dc9a7c"/><circle cx="388.76" cy="297.09" r="1.9" fill="#dc9a7c"/><circle cx="392.72" cy="299.78" r="1.9" fill="#dc9a7c"/><circle cx="396.67" cy="306.24" r="1.9" fill="#dc9a7c"/><circle cx="400.63" cy="308.92" r="1.9" fill="#dc9a7c"/><circle cx="404.58" cy="306.08" r="1.9" fill="#dc9a7c"/><circle cx="408.54" cy="305.29" r="1.9" fill="#dc9a7c"/><circle cx="412.50" cy="305.14" r="1.9" fill="#dc9a7c"/><circle cx="416.45" cy="310.02" r="1.9" fill="#dc9a7c"/><circle cx="420.41" cy="320.90" r="1.9" fill="#dc9a7c"/><circle cx="424.37" cy="330.99" r="1.9" fill="#dc9a7c"/><circle cx="428.32" cy="331.78" r="1.9" fill="#dc9a7c"/><circle cx="432.28" cy="341.24" r="1.9" fill="#dc9a7c"/><circle cx="436.24" cy="350.70" r="1.9" fill="#dc9a7c"/><circle cx="440.19" cy="356.53" r="1.9" fill="#dc9a7c"/><circle cx="444.15" cy="359.37" r="1.9" fill="#dc9a7c"/>
<polyline points="353.15,353.85 357.11,357.80 361.06,359.37 365.02,359.37 368.98,358.11 372.93,353.38 376.89,332.57 380.85,301.82 384.80,297.09 388.76,300.72 392.72,300.25 396.67,300.72 400.63,313.33 404.58,321.22 408.54,317.91 412.50,308.92 416.45,303.87 420.41,303.87 424.37,309.87 428.32,317.28 432.28,325.79 436.24,335.41 440.19,342.03 444.15,349.12" fill="none" stroke="#342690" stroke-width="1.0" stroke-linejoin="round"/>
<circle cx="353.15" cy="353.85" r="1.9" fill="#342690"/><circle cx="357.11" cy="357.80" r="1.9" fill="#342690"/><circle cx="361.06" cy="359.37" r="1.9" fill="#342690"/><circle cx="365.02" cy="359.37" r="1.9" fill="#342690"/><circle cx="368.98" cy="358.11" r="1.9" fill="#342690"/><circle cx="372.93" cy="353.38" r="1.9" fill="#342690"/><circle cx="376.89" cy="332.57" r="1.9" fill="#342690"/><circle cx="380.85" cy="301.82" r="1.9" fill="#342690"/><circle cx="384.80" cy="297.09" r="1.9" fill="#342690"/><circle cx="388.76" cy="300.72" r="1.9" fill="#342690"/><circle cx="392.72" cy="300.25" r="1.9" fill="#342690"/><circle cx="396.67" cy="300.72" r="1.9" fill="#342690"/><circle cx="400.63" cy="313.33" r="1.9" fill="#342690"/><circle cx="404.58" cy="321.22" r="1.9" fill="#342690"/><circle cx="408.54" cy="317.91" r="1.9" fill="#342690"/><circle cx="412.50" cy="308.92" r="1.9" fill="#342690"/><circle cx="416.45" cy="303.87" r="1.9" fill="#342690"/><circle cx="420.41" cy="303.87" r="1.9" fill="#342690"/><circle cx="424.37" cy="309.87" r="1.9" fill="#342690"/><circle cx="428.32" cy="317.28" r="1.9" fill="#342690"/><circle cx="432.28" cy="325.79" r="1.9" fill="#342690"/><circle cx="436.24" cy="335.41" r="1.9" fill="#342690"/><circle cx="440.19" cy="342.03" r="1.9" fill="#342690"/><circle cx="444.15" cy="349.12" r="1.9" fill="#342690"/>
</g>
<rect x="348.60" y="293.90" width="100.10" height="67.80" fill="none" stroke="#666" stroke-width="1.0"/>
<line x1="353.15" y1="362.20" x2="353.15" y2="364.50" stroke="#333" stroke-width="0.75"/>
<text class="t" x="353.18" y="372.70" font-size="9.0" letter-spacing="0.05" text-anchor="middle" fill="#1f1f1f" color="#1f1f1f">0</text>
<line x1="368.98" y1="362.20" x2="368.98" y2="364.50" stroke="#333" stroke-width="0.75"/>
<text class="t" x="369.00" y="372.70" font-size="9.0" letter-spacing="0.05" text-anchor="middle" fill="#1f1f1f" color="#1f1f1f">4</text>
<line x1="384.80" y1="362.20" x2="384.80" y2="364.50" stroke="#333" stroke-width="0.75"/>
<text class="t" x="384.83" y="372.70" font-size="9.0" letter-spacing="0.05" text-anchor="middle" fill="#1f1f1f" color="#1f1f1f">8</text>
<line x1="400.63" y1="362.20" x2="400.63" y2="364.50" stroke="#333" stroke-width="0.75"/>
<text class="t" x="400.65" y="372.70" font-size="9.0" letter-spacing="0.05" text-anchor="middle" fill="#1f1f1f" color="#1f1f1f">12</text>
<line x1="416.45" y1="362.20" x2="416.45" y2="364.50" stroke="#333" stroke-width="0.75"/>
<text class="t" x="416.48" y="372.70" font-size="9.0" letter-spacing="0.05" text-anchor="middle" fill="#1f1f1f" color="#1f1f1f">16</text>
<line x1="432.28" y1="362.20" x2="432.28" y2="364.50" stroke="#333" stroke-width="0.75"/>
<text class="t" x="432.31" y="372.70" font-size="9.0" letter-spacing="0.05" text-anchor="middle" fill="#1f1f1f" color="#1f1f1f">20</text>
<text x="398.65" y="382.00" font-size="8.3" text-anchor="middle" fill="#1f1f1f" color="#1f1f1f">time(hr)</text>
<line x1="345.80" y1="299.10" x2="348.10" y2="299.10" stroke="#333" stroke-width="0.75"/>
<text class="t" x="344.65" y="302.30" font-size="9.0" letter-spacing="0.05" text-anchor="end" fill="#dc9a7c" color="#dc9a7c">1.5</text>
<line x1="345.80" y1="319.50" x2="348.10" y2="319.50" stroke="#333" stroke-width="0.75"/>
<text class="t" x="344.65" y="322.70" font-size="9.0" letter-spacing="0.05" text-anchor="end" fill="#dc9a7c" color="#dc9a7c">1.0</text>
<line x1="345.80" y1="340.40" x2="348.10" y2="340.40" stroke="#333" stroke-width="0.75"/>
<text class="t" x="344.65" y="343.60" font-size="9.0" letter-spacing="0.05" text-anchor="end" fill="#dc9a7c" color="#dc9a7c">0.5</text>
<line x1="345.80" y1="360.90" x2="348.10" y2="360.90" stroke="#333" stroke-width="0.75"/>
<text class="t" x="344.65" y="364.10" font-size="9.0" letter-spacing="0.05" text-anchor="end" fill="#dc9a7c" color="#dc9a7c">0.0</text>
<line x1="449.20" y1="303.90" x2="451.50" y2="303.90" stroke="#333" stroke-width="0.75"/>
<text class="t" x="452.70" y="307.10" font-size="9.0" letter-spacing="0.05" text-anchor="start" fill="#342690" color="#342690">1.0</text>
<line x1="449.20" y1="334.50" x2="451.50" y2="334.50" stroke="#333" stroke-width="0.75"/>
<text class="t" x="452.70" y="337.70" font-size="9.0" letter-spacing="0.05" text-anchor="start" fill="#342690" color="#342690">0.5</text>
<g fill="#dc9a7c" color="#dc9a7c"><text x="352.20" y="292.00" font-size="9.8" text-anchor="middle">×</text><text x="355.70" y="292.10" font-size="9.0" textLength="9.6" lengthAdjust="spacingAndGlyphs">10</text><text x="366.10" y="288.50" font-size="6.0">4</text></g>
<g fill="#342690" color="#342690"><text x="431.50" y="292.00" font-size="9.8" text-anchor="middle">×</text><text x="435.00" y="292.10" font-size="9.0" textLength="9.6" lengthAdjust="spacingAndGlyphs">10</text><text x="445.40" y="288.50" font-size="6.0">4</text></g>
<text x="398.60" y="286.50" font-size="15.3" text-anchor="middle" fill="#000" color="#000">G</text>
<g clip-path="none">
<polyline points="492.90,358.76 497.67,358.58 502.45,358.58 507.23,358.39 512.01,358.39 516.79,358.20 521.57,354.47 526.35,338.96 531.12,307.94 535.90,301.21 540.68,304.58 545.46,301.59 550.24,297.47 555.02,298.04 559.80,299.72 564.58,301.59 569.35,304.95 574.13,303.83 578.91,306.44 583.69,321.39 588.47,334.29 593.25,346.43 598.03,355.78 602.80,359.51" fill="none" stroke="#dc9a7c" stroke-width="1.0" stroke-linejoin="round"/>
<circle cx="492.90" cy="358.76" r="1.9" fill="#dc9a7c"/><circle cx="497.67" cy="358.58" r="1.9" fill="#dc9a7c"/><circle cx="502.45" cy="358.58" r="1.9" fill="#dc9a7c"/><circle cx="507.23" cy="358.39" r="1.9" fill="#dc9a7c"/><circle cx="512.01" cy="358.39" r="1.9" fill="#dc9a7c"/><circle cx="516.79" cy="358.20" r="1.9" fill="#dc9a7c"/><circle cx="521.57" cy="354.47" r="1.9" fill="#dc9a7c"/><circle cx="526.35" cy="338.96" r="1.9" fill="#dc9a7c"/><circle cx="531.12" cy="307.94" r="1.9" fill="#dc9a7c"/><circle cx="535.90" cy="301.21" r="1.9" fill="#dc9a7c"/><circle cx="540.68" cy="304.58" r="1.9" fill="#dc9a7c"/><circle cx="545.46" cy="301.59" r="1.9" fill="#dc9a7c"/><circle cx="550.24" cy="297.47" r="1.9" fill="#dc9a7c"/><circle cx="555.02" cy="298.04" r="1.9" fill="#dc9a7c"/><circle cx="559.80" cy="299.72" r="1.9" fill="#dc9a7c"/><circle cx="564.58" cy="301.59" r="1.9" fill="#dc9a7c"/><circle cx="569.35" cy="304.95" r="1.9" fill="#dc9a7c"/><circle cx="574.13" cy="303.83" r="1.9" fill="#dc9a7c"/><circle cx="578.91" cy="306.44" r="1.9" fill="#dc9a7c"/><circle cx="583.69" cy="321.39" r="1.9" fill="#dc9a7c"/><circle cx="588.47" cy="334.29" r="1.9" fill="#dc9a7c"/><circle cx="593.25" cy="346.43" r="1.9" fill="#dc9a7c"/><circle cx="598.03" cy="355.78" r="1.9" fill="#dc9a7c"/><circle cx="602.80" cy="359.51" r="1.9" fill="#dc9a7c"/>
<polyline points="492.90,349.80 497.67,353.53 502.45,356.34 507.23,353.16 512.01,348.86 516.79,354.84 521.57,359.51 526.35,354.09 531.12,331.48 535.90,302.15 540.68,299.72 545.46,296.91 550.24,297.10 555.02,305.88 559.80,302.52 564.58,302.52 569.35,303.08 574.13,306.82 578.91,301.77 583.69,306.26 588.47,326.06 593.25,336.34 598.03,349.24 602.80,347.93" fill="none" stroke="#342690" stroke-width="1.0" stroke-linejoin="round"/>
<circle cx="492.90" cy="349.80" r="1.9" fill="#342690"/><circle cx="497.67" cy="353.53" r="1.9" fill="#342690"/><circle cx="502.45" cy="356.34" r="1.9" fill="#342690"/><circle cx="507.23" cy="353.16" r="1.9" fill="#342690"/><circle cx="512.01" cy="348.86" r="1.9" fill="#342690"/><circle cx="516.79" cy="354.84" r="1.9" fill="#342690"/><circle cx="521.57" cy="359.51" r="1.9" fill="#342690"/><circle cx="526.35" cy="354.09" r="1.9" fill="#342690"/><circle cx="531.12" cy="331.48" r="1.9" fill="#342690"/><circle cx="535.90" cy="302.15" r="1.9" fill="#342690"/><circle cx="540.68" cy="299.72" r="1.9" fill="#342690"/><circle cx="545.46" cy="296.91" r="1.9" fill="#342690"/><circle cx="550.24" cy="297.10" r="1.9" fill="#342690"/><circle cx="555.02" cy="305.88" r="1.9" fill="#342690"/><circle cx="559.80" cy="302.52" r="1.9" fill="#342690"/><circle cx="564.58" cy="302.52" r="1.9" fill="#342690"/><circle cx="569.35" cy="303.08" r="1.9" fill="#342690"/><circle cx="574.13" cy="306.82" r="1.9" fill="#342690"/><circle cx="578.91" cy="301.77" r="1.9" fill="#342690"/><circle cx="583.69" cy="306.26" r="1.9" fill="#342690"/><circle cx="588.47" cy="326.06" r="1.9" fill="#342690"/><circle cx="593.25" cy="336.34" r="1.9" fill="#342690"/><circle cx="598.03" cy="349.24" r="1.9" fill="#342690"/><circle cx="602.80" cy="347.93" r="1.9" fill="#342690"/>
</g>
<rect x="487.40" y="293.70" width="120.90" height="68.20" fill="none" stroke="#666" stroke-width="1.0"/>
<line x1="492.90" y1="362.40" x2="492.90" y2="364.70" stroke="#333" stroke-width="0.75"/>
<text class="t" x="492.92" y="372.90" font-size="9.0" letter-spacing="0.05" text-anchor="middle" fill="#1f1f1f" color="#1f1f1f">0</text>
<line x1="512.01" y1="362.40" x2="512.01" y2="364.70" stroke="#333" stroke-width="0.75"/>
<text class="t" x="512.04" y="372.90" font-size="9.0" letter-spacing="0.05" text-anchor="middle" fill="#1f1f1f" color="#1f1f1f">4</text>
<line x1="531.12" y1="362.40" x2="531.12" y2="364.70" stroke="#333" stroke-width="0.75"/>
<text class="t" x="531.15" y="372.90" font-size="9.0" letter-spacing="0.05" text-anchor="middle" fill="#1f1f1f" color="#1f1f1f">8</text>
<line x1="550.24" y1="362.40" x2="550.24" y2="364.70" stroke="#333" stroke-width="0.75"/>
<text class="t" x="550.26" y="372.90" font-size="9.0" letter-spacing="0.05" text-anchor="middle" fill="#1f1f1f" color="#1f1f1f">12</text>
<line x1="569.35" y1="362.40" x2="569.35" y2="364.70" stroke="#333" stroke-width="0.75"/>
<text class="t" x="569.38" y="372.90" font-size="9.0" letter-spacing="0.05" text-anchor="middle" fill="#1f1f1f" color="#1f1f1f">16</text>
<line x1="588.47" y1="362.40" x2="588.47" y2="364.70" stroke="#333" stroke-width="0.75"/>
<text class="t" x="588.49" y="372.90" font-size="9.0" letter-spacing="0.05" text-anchor="middle" fill="#1f1f1f" color="#1f1f1f">20</text>
<text x="547.85" y="382.20" font-size="8.3" text-anchor="middle" fill="#1f1f1f" color="#1f1f1f">time(hr)</text>
<line x1="484.60" y1="305.50" x2="486.90" y2="305.50" stroke="#333" stroke-width="0.75"/>
<text class="t" x="483.45" y="308.70" font-size="9.0" letter-spacing="0.05" text-anchor="end" fill="#dc9a7c" color="#dc9a7c">3</text>
<line x1="484.60" y1="324.00" x2="486.90" y2="324.00" stroke="#333" stroke-width="0.75"/>
<text class="t" x="483.45" y="327.20" font-size="9.0" letter-spacing="0.05" text-anchor="end" fill="#dc9a7c" color="#dc9a7c">2</text>
<line x1="484.60" y1="342.30" x2="486.90" y2="342.30" stroke="#333" stroke-width="0.75"/>
<text class="t" x="483.45" y="345.50" font-size="9.0" letter-spacing="0.05" text-anchor="end" fill="#dc9a7c" color="#dc9a7c">1</text>
<line x1="484.60" y1="360.60" x2="486.90" y2="360.60" stroke="#333" stroke-width="0.75"/>
<text class="t" x="483.45" y="363.80" font-size="9.0" letter-spacing="0.05" text-anchor="end" fill="#dc9a7c" color="#dc9a7c">0</text>
<line x1="608.80" y1="311.50" x2="611.10" y2="311.50" stroke="#333" stroke-width="0.75"/>
<text class="t" x="612.30" y="314.70" font-size="9.0" letter-spacing="0.05" text-anchor="start" fill="#342690" color="#342690">4</text>
<line x1="608.80" y1="341.40" x2="611.10" y2="341.40" stroke="#333" stroke-width="0.75"/>
<text class="t" x="612.30" y="344.60" font-size="9.0" letter-spacing="0.05" text-anchor="start" fill="#342690" color="#342690">2</text>
<g fill="#dc9a7c" color="#dc9a7c"><text x="491.00" y="291.80" font-size="9.8" text-anchor="middle">×</text><text x="494.50" y="291.90" font-size="9.0" textLength="9.6" lengthAdjust="spacingAndGlyphs">10</text><text x="504.90" y="288.30" font-size="6.0">4</text></g>
<g fill="#342690" color="#342690"><text x="591.10" y="291.80" font-size="9.8" text-anchor="middle">×</text><text x="594.60" y="291.90" font-size="9.0" textLength="9.6" lengthAdjust="spacingAndGlyphs">10</text><text x="605.00" y="288.30" font-size="6.0">3</text></g>
<text x="548.00" y="286.50" font-size="15.3" text-anchor="middle" fill="#000" color="#000">H</text>
<g clip-path="none">
<polyline points="45.18,631.96 49.95,630.47 54.72,630.09 59.48,629.91 64.25,629.91 69.02,629.53 73.78,624.86 78.55,607.48 83.32,597.39 88.08,592.72 92.85,585.62 97.62,584.69 102.38,586.18 107.15,580.95 111.92,574.04 116.68,577.21 121.45,585.43 126.22,594.96 130.98,601.88 135.75,605.24 140.52,613.28 145.28,621.50 150.05,629.53 154.82,636.45" fill="none" stroke="#b5877c" stroke-width="1.0" stroke-linejoin="round"/>
<circle cx="45.18" cy="631.96" r="1.9" fill="#b5877c"/><circle cx="49.95" cy="630.47" r="1.9" fill="#b5877c"/><circle cx="54.72" cy="630.09" r="1.9" fill="#b5877c"/><circle cx="59.48" cy="629.91" r="1.9" fill="#b5877c"/><circle cx="64.25" cy="629.91" r="1.9" fill="#b5877c"/><circle cx="69.02" cy="629.53" r="1.9" fill="#b5877c"/><circle cx="73.78" cy="624.86" r="1.9" fill="#b5877c"/><circle cx="78.55" cy="607.48" r="1.9" fill="#b5877c"/><circle cx="83.32" cy="597.39" r="1.9" fill="#b5877c"/><circle cx="88.08" cy="592.72" r="1.9" fill="#b5877c"/><circle cx="92.85" cy="585.62" r="1.9" fill="#b5877c"/><circle cx="97.62" cy="584.69" r="1.9" fill="#b5877c"/><circle cx="102.38" cy="586.18" r="1.9" fill="#b5877c"/><circle cx="107.15" cy="580.95" r="1.9" fill="#b5877c"/><circle cx="111.92" cy="574.04" r="1.9" fill="#b5877c"/><circle cx="116.68" cy="577.21" r="1.9" fill="#b5877c"/><circle cx="121.45" cy="585.43" r="1.9" fill="#b5877c"/><circle cx="126.22" cy="594.96" r="1.9" fill="#b5877c"/><circle cx="130.98" cy="601.88" r="1.9" fill="#b5877c"/><circle cx="135.75" cy="605.24" r="1.9" fill="#b5877c"/><circle cx="140.52" cy="613.28" r="1.9" fill="#b5877c"/><circle cx="145.28" cy="621.50" r="1.9" fill="#b5877c"/><circle cx="150.05" cy="629.53" r="1.9" fill="#b5877c"/><circle cx="154.82" cy="636.45" r="1.9" fill="#b5877c"/>
<polyline points="45.18,630.09 49.95,632.71 54.72,635.51 59.48,636.45 64.25,636.26 69.02,633.27 73.78,623.37 78.55,609.91 83.32,594.96 88.08,586.18 92.85,582.26 97.62,585.43 102.38,586.18 107.15,579.64 111.92,573.85 116.68,575.72 121.45,579.83 126.22,585.81 130.98,593.09 135.75,596.46 140.52,602.62 145.28,610.85 150.05,618.88 154.82,627.10" fill="none" stroke="#342690" stroke-width="1.0" stroke-linejoin="round"/>
<circle cx="45.18" cy="630.09" r="1.9" fill="#342690"/><circle cx="49.95" cy="632.71" r="1.9" fill="#342690"/><circle cx="54.72" cy="635.51" r="1.9" fill="#342690"/><circle cx="59.48" cy="636.45" r="1.9" fill="#342690"/><circle cx="64.25" cy="636.26" r="1.9" fill="#342690"/><circle cx="69.02" cy="633.27" r="1.9" fill="#342690"/><circle cx="73.78" cy="623.37" r="1.9" fill="#342690"/><circle cx="78.55" cy="609.91" r="1.9" fill="#342690"/><circle cx="83.32" cy="594.96" r="1.9" fill="#342690"/><circle cx="88.08" cy="586.18" r="1.9" fill="#342690"/><circle cx="92.85" cy="582.26" r="1.9" fill="#342690"/><circle cx="97.62" cy="585.43" r="1.9" fill="#342690"/><circle cx="102.38" cy="586.18" r="1.9" fill="#342690"/><circle cx="107.15" cy="579.64" r="1.9" fill="#342690"/><circle cx="111.92" cy="573.85" r="1.9" fill="#342690"/><circle cx="116.68" cy="575.72" r="1.9" fill="#342690"/><circle cx="121.45" cy="579.83" r="1.9" fill="#342690"/><circle cx="126.22" cy="585.81" r="1.9" fill="#342690"/><circle cx="130.98" cy="593.09" r="1.9" fill="#342690"/><circle cx="135.75" cy="596.46" r="1.9" fill="#342690"/><circle cx="140.52" cy="602.62" r="1.9" fill="#342690"/><circle cx="145.28" cy="610.85" r="1.9" fill="#342690"/><circle cx="150.05" cy="618.88" r="1.9" fill="#342690"/><circle cx="154.82" cy="627.10" r="1.9" fill="#342690"/>
</g>
<rect x="39.70" y="570.70" width="120.60" height="68.20" fill="none" stroke="#666" stroke-width="1.0"/>
<line x1="45.18" y1="639.40" x2="45.18" y2="641.70" stroke="#333" stroke-width="0.75"/>
<text class="t" x="45.21" y="649.90" font-size="9.0" letter-spacing="0.05" text-anchor="middle" fill="#1f1f1f" color="#1f1f1f">0</text>
<line x1="64.25" y1="639.40" x2="64.25" y2="641.70" stroke="#333" stroke-width="0.75"/>
<text class="t" x="64.27" y="649.90" font-size="9.0" letter-spacing="0.05" text-anchor="middle" fill="#1f1f1f" color="#1f1f1f">4</text>
<line x1="83.32" y1="639.40" x2="83.32" y2="641.70" stroke="#333" stroke-width="0.75"/>
<text class="t" x="83.34" y="649.90" font-size="9.0" letter-spacing="0.05" text-anchor="middle" fill="#1f1f1f" color="#1f1f1f">8</text>
<line x1="102.38" y1="639.40" x2="102.38" y2="641.70" stroke="#333" stroke-width="0.75"/>
<text class="t" x="102.41" y="649.90" font-size="9.0" letter-spacing="0.05" text-anchor="middle" fill="#1f1f1f" color="#1f1f1f">12</text>
<line x1="121.45" y1="639.40" x2="121.45" y2="641.70" stroke="#333" stroke-width="0.75"/>
<text class="t" x="121.48" y="649.90" font-size="9.0" letter-spacing="0.05" text-anchor="middle" fill="#1f1f1f" color="#1f1f1f">16</text>
<line x1="140.52" y1="639.40" x2="140.52" y2="641.70" stroke="#333" stroke-width="0.75"/>
<text class="t" x="140.54" y="649.90" font-size="9.0" letter-spacing="0.05" text-anchor="middle" fill="#1f1f1f" color="#1f1f1f">20</text>
<text x="100.00" y="659.20" font-size="8.3" text-anchor="middle" fill="#1f1f1f" color="#1f1f1f">time(hr)</text>
<line x1="36.90" y1="590.90" x2="39.20" y2="590.90" stroke="#333" stroke-width="0.75"/>
<text class="t" x="35.75" y="594.10" font-size="9.0" letter-spacing="0.05" text-anchor="end" fill="#b5877c" color="#b5877c">2</text>
<line x1="36.90" y1="616.10" x2="39.20" y2="616.10" stroke="#333" stroke-width="0.75"/>
<text class="t" x="35.75" y="619.30" font-size="9.0" letter-spacing="0.05" text-anchor="end" fill="#b5877c" color="#b5877c">1</text>
<line x1="160.80" y1="580.10" x2="163.10" y2="580.10" stroke="#333" stroke-width="0.75"/>
<text class="t" x="164.30" y="583.30" font-size="9.0" letter-spacing="0.05" text-anchor="start" fill="#342690" color="#342690">7</text>
<line x1="160.80" y1="600.40" x2="163.10" y2="600.40" stroke="#333" stroke-width="0.75"/>
<text class="t" x="164.30" y="603.60" font-size="9.0" letter-spacing="0.05" text-anchor="start" fill="#342690" color="#342690">5</text>
<line x1="160.80" y1="620.50" x2="163.10" y2="620.50" stroke="#333" stroke-width="0.75"/>
<text class="t" x="164.30" y="623.70" font-size="9.0" letter-spacing="0.05" text-anchor="start" fill="#342690" color="#342690">2</text>
<g fill="#b5877c" color="#b5877c"><text x="43.30" y="568.80" font-size="9.8" text-anchor="middle">×</text><text x="46.80" y="568.90" font-size="9.0" textLength="9.6" lengthAdjust="spacingAndGlyphs">10</text><text x="57.20" y="565.30" font-size="6.0">4</text></g>
<g fill="#342690" color="#342690"><text x="143.10" y="568.80" font-size="9.8" text-anchor="middle">×</text><text x="146.60" y="568.90" font-size="9.0" textLength="9.6" lengthAdjust="spacingAndGlyphs">10</text><text x="157.00" y="565.30" font-size="6.0">4</text></g>
<text x="95.50" y="561.30" font-size="15.3" text-anchor="middle" fill="#000" color="#000">A</text>
<text x="0" y="0" font-size="7.9" text-anchor="middle" fill="#1f1f1f" color="#1f1f1f" transform="translate(28.00,604.80) rotate(-90)">Flow</text>
<g clip-path="none">
<polyline points="200.50,635.20 204.93,634.67 209.36,634.32 213.79,633.80 218.22,633.80 222.65,633.45 227.08,630.82 231.51,619.43 235.94,599.81 240.37,577.91 244.80,573.88 249.23,581.42 253.67,587.02 258.10,582.29 262.53,577.39 266.96,580.36 271.39,591.93 275.82,601.91 280.25,608.57 284.68,613.82 289.11,619.78 293.54,627.31 297.97,632.92 302.40,636.60" fill="none" stroke="#b5877c" stroke-width="1.0" stroke-linejoin="round"/>
<circle cx="200.50" cy="635.20" r="1.9" fill="#b5877c"/><circle cx="204.93" cy="634.67" r="1.9" fill="#b5877c"/><circle cx="209.36" cy="634.32" r="1.9" fill="#b5877c"/><circle cx="213.79" cy="633.80" r="1.9" fill="#b5877c"/><circle cx="218.22" cy="633.80" r="1.9" fill="#b5877c"/><circle cx="222.65" cy="633.45" r="1.9" fill="#b5877c"/><circle cx="227.08" cy="630.82" r="1.9" fill="#b5877c"/><circle cx="231.51" cy="619.43" r="1.9" fill="#b5877c"/><circle cx="235.94" cy="599.81" r="1.9" fill="#b5877c"/><circle cx="240.37" cy="577.91" r="1.9" fill="#b5877c"/><circle cx="244.80" cy="573.88" r="1.9" fill="#b5877c"/><circle cx="249.23" cy="581.42" r="1.9" fill="#b5877c"/><circle cx="253.67" cy="587.02" r="1.9" fill="#b5877c"/><circle cx="258.10" cy="582.29" r="1.9" fill="#b5877c"/><circle cx="262.53" cy="577.39" r="1.9" fill="#b5877c"/><circle cx="266.96" cy="580.36" r="1.9" fill="#b5877c"/><circle cx="271.39" cy="591.93" r="1.9" fill="#b5877c"/><circle cx="275.82" cy="601.91" r="1.9" fill="#b5877c"/><circle cx="280.25" cy="608.57" r="1.9" fill="#b5877c"/><circle cx="284.68" cy="613.82" r="1.9" fill="#b5877c"/><circle cx="289.11" cy="619.78" r="1.9" fill="#b5877c"/><circle cx="293.54" cy="627.31" r="1.9" fill="#b5877c"/><circle cx="297.97" cy="632.92" r="1.9" fill="#b5877c"/><circle cx="302.40" cy="636.60" r="1.9" fill="#b5877c"/>
<polyline points="200.50,627.84 204.93,632.57 209.36,634.85 213.79,636.60 218.22,636.60 222.65,633.97 227.08,625.04 231.51,611.02 235.94,594.38 240.37,582.99 244.80,578.26 249.23,582.64 253.67,580.01 258.10,577.91 262.53,573.88 266.96,574.23 271.39,577.39 275.82,581.42 280.25,588.25 284.68,591.40 289.11,596.13 293.54,603.14 297.97,613.30 302.40,622.93" fill="none" stroke="#342690" stroke-width="1.0" stroke-linejoin="round"/>
<circle cx="200.50" cy="627.84" r="1.9" fill="#342690"/><circle cx="204.93" cy="632.57" r="1.9" fill="#342690"/><circle cx="209.36" cy="634.85" r="1.9" fill="#342690"/><circle cx="213.79" cy="636.60" r="1.9" fill="#342690"/><circle cx="218.22" cy="636.60" r="1.9" fill="#342690"/><circle cx="222.65" cy="633.97" r="1.9" fill="#342690"/><circle cx="227.08" cy="625.04" r="1.9" fill="#342690"/><circle cx="231.51" cy="611.02" r="1.9" fill="#342690"/><circle cx="235.94" cy="594.38" r="1.9" fill="#342690"/><circle cx="240.37" cy="582.99" r="1.9" fill="#342690"/><circle cx="244.80" cy="578.26" r="1.9" fill="#342690"/><circle cx="249.23" cy="582.64" r="1.9" fill="#342690"/><circle cx="253.67" cy="580.01" r="1.9" fill="#342690"/><circle cx="258.10" cy="577.91" r="1.9" fill="#342690"/><circle cx="262.53" cy="573.88" r="1.9" fill="#342690"/><circle cx="266.96" cy="574.23" r="1.9" fill="#342690"/><circle cx="271.39" cy="577.39" r="1.9" fill="#342690"/><circle cx="275.82" cy="581.42" r="1.9" fill="#342690"/><circle cx="280.25" cy="588.25" r="1.9" fill="#342690"/><circle cx="284.68" cy="591.40" r="1.9" fill="#342690"/><circle cx="289.11" cy="596.13" r="1.9" fill="#342690"/><circle cx="293.54" cy="603.14" r="1.9" fill="#342690"/><circle cx="297.97" cy="613.30" r="1.9" fill="#342690"/><circle cx="302.40" cy="622.93" r="1.9" fill="#342690"/>
</g>
<rect x="195.40" y="570.70" width="112.10" height="68.00" fill="none" stroke="#666" stroke-width="1.0"/>
<line x1="200.50" y1="639.20" x2="200.50" y2="641.50" stroke="#333" stroke-width="0.75"/>
<text class="t" x="200.52" y="649.70" font-size="9.0" letter-spacing="0.05" text-anchor="middle" fill="#1f1f1f" color="#1f1f1f">0</text>
<line x1="218.22" y1="639.20" x2="218.22" y2="641.50" stroke="#333" stroke-width="0.75"/>
<text class="t" x="218.24" y="649.70" font-size="9.0" letter-spacing="0.05" text-anchor="middle" fill="#1f1f1f" color="#1f1f1f">4</text>
<line x1="235.94" y1="639.20" x2="235.94" y2="641.50" stroke="#333" stroke-width="0.75"/>
<text class="t" x="235.97" y="649.70" font-size="9.0" letter-spacing="0.05" text-anchor="middle" fill="#1f1f1f" color="#1f1f1f">8</text>
<line x1="253.67" y1="639.20" x2="253.67" y2="641.50" stroke="#333" stroke-width="0.75"/>
<text class="t" x="253.69" y="649.70" font-size="9.0" letter-spacing="0.05" text-anchor="middle" fill="#1f1f1f" color="#1f1f1f">12</text>
<line x1="271.39" y1="639.20" x2="271.39" y2="641.50" stroke="#333" stroke-width="0.75"/>
<text class="t" x="271.41" y="649.70" font-size="9.0" letter-spacing="0.05" text-anchor="middle" fill="#1f1f1f" color="#1f1f1f">16</text>
<line x1="289.11" y1="639.20" x2="289.11" y2="641.50" stroke="#333" stroke-width="0.75"/>
<text class="t" x="289.14" y="649.70" font-size="9.0" letter-spacing="0.05" text-anchor="middle" fill="#1f1f1f" color="#1f1f1f">20</text>
<text x="251.45" y="659.00" font-size="8.3" text-anchor="middle" fill="#1f1f1f" color="#1f1f1f">time(hr)</text>
<line x1="192.60" y1="584.90" x2="194.90" y2="584.90" stroke="#333" stroke-width="0.75"/>
<text class="t" x="191.45" y="588.10" font-size="9.0" letter-spacing="0.05" text-anchor="end" fill="#b5877c" color="#b5877c">1.5</text>
<line x1="192.60" y1="602.80" x2="194.90" y2="602.80" stroke="#333" stroke-width="0.75"/>
<text class="t" x="191.45" y="606.00" font-size="9.0" letter-spacing="0.05" text-anchor="end" fill="#b5877c" color="#b5877c">1.0</text>
<line x1="192.60" y1="620.70" x2="194.90" y2="620.70" stroke="#333" stroke-width="0.75"/>
<text class="t" x="191.45" y="623.90" font-size="9.0" letter-spacing="0.05" text-anchor="end" fill="#b5877c" color="#b5877c">0.5</text>
<line x1="192.60" y1="638.20" x2="194.90" y2="638.20" stroke="#333" stroke-width="0.75"/>
<text class="t" x="191.45" y="641.40" font-size="9.0" letter-spacing="0.05" text-anchor="end" fill="#b5877c" color="#b5877c">0.0</text>
<line x1="308.00" y1="579.10" x2="310.30" y2="579.10" stroke="#333" stroke-width="0.75"/>
<text class="t" x="311.50" y="582.30" font-size="9.0" letter-spacing="0.05" text-anchor="start" fill="#342690" color="#342690">6</text>
<line x1="308.00" y1="600.20" x2="310.30" y2="600.20" stroke="#333" stroke-width="0.75"/>
<text class="t" x="311.50" y="603.40" font-size="9.0" letter-spacing="0.05" text-anchor="start" fill="#342690" color="#342690">4</text>
<line x1="308.00" y1="621.20" x2="310.30" y2="621.20" stroke="#333" stroke-width="0.75"/>
<text class="t" x="311.50" y="624.40" font-size="9.0" letter-spacing="0.05" text-anchor="start" fill="#342690" color="#342690">2</text>
<g fill="#b5877c" color="#b5877c"><text x="199.00" y="568.80" font-size="9.8" text-anchor="middle">×</text><text x="202.50" y="568.90" font-size="9.0" textLength="9.6" lengthAdjust="spacingAndGlyphs">10</text><text x="212.90" y="565.30" font-size="6.0">4</text></g>
<g fill="#342690" color="#342690"><text x="290.30" y="568.80" font-size="9.8" text-anchor="middle">×</text><text x="293.80" y="568.90" font-size="9.0" textLength="9.6" lengthAdjust="spacingAndGlyphs">10</text><text x="304.20" y="565.30" font-size="6.0">4</text></g>
<text x="242.10" y="561.30" font-size="15.3" text-anchor="middle" fill="#000" color="#000">B</text>
<g clip-path="none">
<polyline points="339.64,634.32 344.10,631.69 348.57,631.69 353.04,630.82 357.50,630.82 361.97,629.94 366.43,625.56 370.90,615.05 375.37,603.14 379.83,592.80 384.30,583.87 388.77,577.04 393.23,575.99 397.70,574.41 402.17,573.88 406.63,582.29 411.10,591.05 415.57,596.31 420.03,604.89 424.50,610.85 428.96,618.91 433.43,624.86 437.90,632.04 442.36,636.42" fill="none" stroke="#b5877c" stroke-width="1.0" stroke-linejoin="round"/>
<circle cx="339.64" cy="634.32" r="1.9" fill="#b5877c"/><circle cx="344.10" cy="631.69" r="1.9" fill="#b5877c"/><circle cx="348.57" cy="631.69" r="1.9" fill="#b5877c"/><circle cx="353.04" cy="630.82" r="1.9" fill="#b5877c"/><circle cx="357.50" cy="630.82" r="1.9" fill="#b5877c"/><circle cx="361.97" cy="629.94" r="1.9" fill="#b5877c"/><circle cx="366.43" cy="625.56" r="1.9" fill="#b5877c"/><circle cx="370.90" cy="615.05" r="1.9" fill="#b5877c"/><circle cx="375.37" cy="603.14" r="1.9" fill="#b5877c"/><circle cx="379.83" cy="592.80" r="1.9" fill="#b5877c"/><circle cx="384.30" cy="583.87" r="1.9" fill="#b5877c"/><circle cx="388.77" cy="577.04" r="1.9" fill="#b5877c"/><circle cx="393.23" cy="575.99" r="1.9" fill="#b5877c"/><circle cx="397.70" cy="574.41" r="1.9" fill="#b5877c"/><circle cx="402.17" cy="573.88" r="1.9" fill="#b5877c"/><circle cx="406.63" cy="582.29" r="1.9" fill="#b5877c"/><circle cx="411.10" cy="591.05" r="1.9" fill="#b5877c"/><circle cx="415.57" cy="596.31" r="1.9" fill="#b5877c"/><circle cx="420.03" cy="604.89" r="1.9" fill="#b5877c"/><circle cx="424.50" cy="610.85" r="1.9" fill="#b5877c"/><circle cx="428.96" cy="618.91" r="1.9" fill="#b5877c"/><circle cx="433.43" cy="624.86" r="1.9" fill="#b5877c"/><circle cx="437.90" cy="632.04" r="1.9" fill="#b5877c"/><circle cx="442.36" cy="636.42" r="1.9" fill="#b5877c"/>
<polyline points="339.64,636.07 344.10,636.60 348.57,636.77 353.04,636.77 357.50,636.60 361.97,635.55 366.43,631.69 370.90,622.93 375.37,607.52 379.83,604.54 384.30,597.18 388.77,592.28 393.23,594.91 397.70,581.77 402.17,573.88 406.63,585.27 411.10,600.34 415.57,618.20 420.03,622.93 424.50,630.29 428.96,633.09 433.43,634.85 437.90,635.72 442.36,636.42" fill="none" stroke="#342690" stroke-width="1.0" stroke-linejoin="round"/>
<circle cx="339.64" cy="636.07" r="1.9" fill="#342690"/><circle cx="344.10" cy="636.60" r="1.9" fill="#342690"/><circle cx="348.57" cy="636.77" r="1.9" fill="#342690"/><circle cx="353.04" cy="636.77" r="1.9" fill="#342690"/><circle cx="357.50" cy="636.60" r="1.9" fill="#342690"/><circle cx="361.97" cy="635.55" r="1.9" fill="#342690"/><circle cx="366.43" cy="631.69" r="1.9" fill="#342690"/><circle cx="370.90" cy="622.93" r="1.9" fill="#342690"/><circle cx="375.37" cy="607.52" r="1.9" fill="#342690"/><circle cx="379.83" cy="604.54" r="1.9" fill="#342690"/><circle cx="384.30" cy="597.18" r="1.9" fill="#342690"/><circle cx="388.77" cy="592.28" r="1.9" fill="#342690"/><circle cx="393.23" cy="594.91" r="1.9" fill="#342690"/><circle cx="397.70" cy="581.77" r="1.9" fill="#342690"/><circle cx="402.17" cy="573.88" r="1.9" fill="#342690"/><circle cx="406.63" cy="585.27" r="1.9" fill="#342690"/><circle cx="411.10" cy="600.34" r="1.9" fill="#342690"/><circle cx="415.57" cy="618.20" r="1.9" fill="#342690"/><circle cx="420.03" cy="622.93" r="1.9" fill="#342690"/><circle cx="424.50" cy="630.29" r="1.9" fill="#342690"/><circle cx="428.96" cy="633.09" r="1.9" fill="#342690"/><circle cx="433.43" cy="634.85" r="1.9" fill="#342690"/><circle cx="437.90" cy="635.72" r="1.9" fill="#342690"/><circle cx="442.36" cy="636.42" r="1.9" fill="#342690"/>
</g>
<rect x="334.50" y="570.70" width="113.00" height="68.40" fill="none" stroke="#666" stroke-width="1.0"/>
<line x1="339.64" y1="639.60" x2="339.64" y2="641.90" stroke="#333" stroke-width="0.75"/>
<text class="t" x="339.66" y="650.10" font-size="9.0" letter-spacing="0.05" text-anchor="middle" fill="#1f1f1f" color="#1f1f1f">0</text>
<line x1="357.50" y1="639.60" x2="357.50" y2="641.90" stroke="#333" stroke-width="0.75"/>
<text class="t" x="357.53" y="650.10" font-size="9.0" letter-spacing="0.05" text-anchor="middle" fill="#1f1f1f" color="#1f1f1f">4</text>
<line x1="375.37" y1="639.60" x2="375.37" y2="641.90" stroke="#333" stroke-width="0.75"/>
<text class="t" x="375.39" y="650.10" font-size="9.0" letter-spacing="0.05" text-anchor="middle" fill="#1f1f1f" color="#1f1f1f">8</text>
<line x1="393.23" y1="639.60" x2="393.23" y2="641.90" stroke="#333" stroke-width="0.75"/>
<text class="t" x="393.26" y="650.10" font-size="9.0" letter-spacing="0.05" text-anchor="middle" fill="#1f1f1f" color="#1f1f1f">12</text>
<line x1="411.10" y1="639.60" x2="411.10" y2="641.90" stroke="#333" stroke-width="0.75"/>
<text class="t" x="411.12" y="650.10" font-size="9.0" letter-spacing="0.05" text-anchor="middle" fill="#1f1f1f" color="#1f1f1f">16</text>
<line x1="428.96" y1="639.60" x2="428.96" y2="641.90" stroke="#333" stroke-width="0.75"/>
<text class="t" x="428.99" y="650.10" font-size="9.0" letter-spacing="0.05" text-anchor="middle" fill="#1f1f1f" color="#1f1f1f">20</text>
<text x="391.00" y="659.40" font-size="8.3" text-anchor="middle" fill="#1f1f1f" color="#1f1f1f">time(hr)</text>
<line x1="331.70" y1="580.40" x2="334.00" y2="580.40" stroke="#333" stroke-width="0.75"/>
<text class="t" x="330.55" y="583.60" font-size="9.0" letter-spacing="0.05" text-anchor="end" fill="#b5877c" color="#b5877c">3</text>
<line x1="331.70" y1="600.20" x2="334.00" y2="600.20" stroke="#333" stroke-width="0.75"/>
<text class="t" x="330.55" y="603.40" font-size="9.0" letter-spacing="0.05" text-anchor="end" fill="#b5877c" color="#b5877c">2</text>
<line x1="331.70" y1="620.00" x2="334.00" y2="620.00" stroke="#333" stroke-width="0.75"/>
<text class="t" x="330.55" y="623.20" font-size="9.0" letter-spacing="0.05" text-anchor="end" fill="#b5877c" color="#b5877c">1</text>
<line x1="448.00" y1="588.60" x2="450.30" y2="588.60" stroke="#333" stroke-width="0.75"/>
<text class="t" x="451.50" y="591.80" font-size="9.0" letter-spacing="0.05" text-anchor="start" fill="#342690" color="#342690">1.0</text>
<line x1="448.00" y1="613.00" x2="450.30" y2="613.00" stroke="#333" stroke-width="0.75"/>
<text class="t" x="451.50" y="616.20" font-size="9.0" letter-spacing="0.05" text-anchor="start" fill="#342690" color="#342690">0.5</text>
<line x1="448.00" y1="636.90" x2="450.30" y2="636.90" stroke="#333" stroke-width="0.75"/>
<text class="t" x="451.50" y="640.10" font-size="9.0" letter-spacing="0.05" text-anchor="start" fill="#342690" color="#342690">0.0</text>
<g fill="#b5877c" color="#b5877c"><text x="338.10" y="568.80" font-size="9.8" text-anchor="middle">×</text><text x="341.60" y="568.90" font-size="9.0" textLength="9.6" lengthAdjust="spacingAndGlyphs">10</text><text x="352.00" y="565.30" font-size="6.0">3</text></g>
<g fill="#342690" color="#342690"><text x="430.30" y="568.80" font-size="9.8" text-anchor="middle">×</text><text x="433.80" y="568.90" font-size="9.0" textLength="9.6" lengthAdjust="spacingAndGlyphs">10</text><text x="444.20" y="565.30" font-size="6.0">4</text></g>
<text x="388.60" y="561.30" font-size="15.3" text-anchor="middle" fill="#000" color="#000">C</text>
<g clip-path="none">
<polyline points="494.38,632.22 498.53,629.77 502.69,629.28 506.84,628.79 510.99,628.79 515.15,628.95 519.30,627.31 523.46,624.37 527.61,617.50 531.76,606.39 535.92,592.98 540.07,586.76 544.23,584.31 548.38,579.73 552.54,574.18 556.69,579.08 560.84,591.34 565.00,603.61 569.15,611.78 573.31,615.05 577.46,619.63 581.61,626.01 585.77,632.22 589.92,636.63" fill="none" stroke="#b5877c" stroke-width="1.0" stroke-linejoin="round"/>
<circle cx="494.38" cy="632.22" r="1.9" fill="#b5877c"/><circle cx="498.53" cy="629.77" r="1.9" fill="#b5877c"/><circle cx="502.69" cy="629.28" r="1.9" fill="#b5877c"/><circle cx="506.84" cy="628.79" r="1.9" fill="#b5877c"/><circle cx="510.99" cy="628.79" r="1.9" fill="#b5877c"/><circle cx="515.15" cy="628.95" r="1.9" fill="#b5877c"/><circle cx="519.30" cy="627.31" r="1.9" fill="#b5877c"/><circle cx="523.46" cy="624.37" r="1.9" fill="#b5877c"/><circle cx="527.61" cy="617.50" r="1.9" fill="#b5877c"/><circle cx="531.76" cy="606.39" r="1.9" fill="#b5877c"/><circle cx="535.92" cy="592.98" r="1.9" fill="#b5877c"/><circle cx="540.07" cy="586.76" r="1.9" fill="#b5877c"/><circle cx="544.23" cy="584.31" r="1.9" fill="#b5877c"/><circle cx="548.38" cy="579.73" r="1.9" fill="#b5877c"/><circle cx="552.54" cy="574.18" r="1.9" fill="#b5877c"/><circle cx="556.69" cy="579.08" r="1.9" fill="#b5877c"/><circle cx="560.84" cy="591.34" r="1.9" fill="#b5877c"/><circle cx="565.00" cy="603.61" r="1.9" fill="#b5877c"/><circle cx="569.15" cy="611.78" r="1.9" fill="#b5877c"/><circle cx="573.31" cy="615.05" r="1.9" fill="#b5877c"/><circle cx="577.46" cy="619.63" r="1.9" fill="#b5877c"/><circle cx="581.61" cy="626.01" r="1.9" fill="#b5877c"/><circle cx="585.77" cy="632.22" r="1.9" fill="#b5877c"/><circle cx="589.92" cy="636.63" r="1.9" fill="#b5877c"/>
<polyline points="494.38,631.40 498.53,634.18 502.69,635.82 506.84,636.63 510.99,636.63 515.15,634.67 519.30,627.31 523.46,617.50 527.61,604.10 531.76,591.34 535.92,586.76 540.07,590.20 544.23,587.26 548.38,578.59 552.54,573.85 556.69,577.77 560.84,584.48 565.00,591.67 569.15,601.64 573.31,607.37 577.46,610.47 581.61,617.50 585.77,623.72 589.92,629.28" fill="none" stroke="#342690" stroke-width="1.0" stroke-linejoin="round"/>
<circle cx="494.38" cy="631.40" r="1.9" fill="#342690"/><circle cx="498.53" cy="634.18" r="1.9" fill="#342690"/><circle cx="502.69" cy="635.82" r="1.9" fill="#342690"/><circle cx="506.84" cy="636.63" r="1.9" fill="#342690"/><circle cx="510.99" cy="636.63" r="1.9" fill="#342690"/><circle cx="515.15" cy="634.67" r="1.9" fill="#342690"/><circle cx="519.30" cy="627.31" r="1.9" fill="#342690"/><circle cx="523.46" cy="617.50" r="1.9" fill="#342690"/><circle cx="527.61" cy="604.10" r="1.9" fill="#342690"/><circle cx="531.76" cy="591.34" r="1.9" fill="#342690"/><circle cx="535.92" cy="586.76" r="1.9" fill="#342690"/><circle cx="540.07" cy="590.20" r="1.9" fill="#342690"/><circle cx="544.23" cy="587.26" r="1.9" fill="#342690"/><circle cx="548.38" cy="578.59" r="1.9" fill="#342690"/><circle cx="552.54" cy="573.85" r="1.9" fill="#342690"/><circle cx="556.69" cy="577.77" r="1.9" fill="#342690"/><circle cx="560.84" cy="584.48" r="1.9" fill="#342690"/><circle cx="565.00" cy="591.67" r="1.9" fill="#342690"/><circle cx="569.15" cy="601.64" r="1.9" fill="#342690"/><circle cx="573.31" cy="607.37" r="1.9" fill="#342690"/><circle cx="577.46" cy="610.47" r="1.9" fill="#342690"/><circle cx="581.61" cy="617.50" r="1.9" fill="#342690"/><circle cx="585.77" cy="623.72" r="1.9" fill="#342690"/><circle cx="589.92" cy="629.28" r="1.9" fill="#342690"/>
</g>
<rect x="489.60" y="570.60" width="105.10" height="68.20" fill="none" stroke="#666" stroke-width="1.0"/>
<line x1="494.38" y1="639.30" x2="494.38" y2="641.60" stroke="#333" stroke-width="0.75"/>
<text class="t" x="494.40" y="649.80" font-size="9.0" letter-spacing="0.05" text-anchor="middle" fill="#1f1f1f" color="#1f1f1f">0</text>
<line x1="510.99" y1="639.30" x2="510.99" y2="641.60" stroke="#333" stroke-width="0.75"/>
<text class="t" x="511.02" y="649.80" font-size="9.0" letter-spacing="0.05" text-anchor="middle" fill="#1f1f1f" color="#1f1f1f">4</text>
<line x1="527.61" y1="639.30" x2="527.61" y2="641.60" stroke="#333" stroke-width="0.75"/>
<text class="t" x="527.64" y="649.80" font-size="9.0" letter-spacing="0.05" text-anchor="middle" fill="#1f1f1f" color="#1f1f1f">8</text>
<line x1="544.23" y1="639.30" x2="544.23" y2="641.60" stroke="#333" stroke-width="0.75"/>
<text class="t" x="544.25" y="649.80" font-size="9.0" letter-spacing="0.05" text-anchor="middle" fill="#1f1f1f" color="#1f1f1f">12</text>
<line x1="560.84" y1="639.30" x2="560.84" y2="641.60" stroke="#333" stroke-width="0.75"/>
<text class="t" x="560.87" y="649.80" font-size="9.0" letter-spacing="0.05" text-anchor="middle" fill="#1f1f1f" color="#1f1f1f">16</text>
<line x1="577.46" y1="639.30" x2="577.46" y2="641.60" stroke="#333" stroke-width="0.75"/>
<text class="t" x="577.49" y="649.80" font-size="9.0" letter-spacing="0.05" text-anchor="middle" fill="#1f1f1f" color="#1f1f1f">20</text>
<text x="542.15" y="659.10" font-size="8.3" text-anchor="middle" fill="#1f1f1f" color="#1f1f1f">time(hr)</text>
<line x1="486.80" y1="587.50" x2="489.10" y2="587.50" stroke="#333" stroke-width="0.75"/>
<text class="t" x="485.65" y="590.70" font-size="9.0" letter-spacing="0.05" text-anchor="end" fill="#b5877c" color="#b5877c">1.0</text>
<line x1="486.80" y1="613.30" x2="489.10" y2="613.30" stroke="#333" stroke-width="0.75"/>
<text class="t" x="485.65" y="616.50" font-size="9.0" letter-spacing="0.05" text-anchor="end" fill="#b5877c" color="#b5877c">0.5</text>
<line x1="486.80" y1="638.60" x2="489.10" y2="638.60" stroke="#333" stroke-width="0.75"/>
<text class="t" x="485.65" y="641.80" font-size="9.0" letter-spacing="0.05" text-anchor="end" fill="#b5877c" color="#b5877c">0.0</text>
<line x1="595.20" y1="572.30" x2="597.50" y2="572.30" stroke="#333" stroke-width="0.75"/>
<text class="t" x="598.70" y="575.50" font-size="9.0" letter-spacing="0.05" text-anchor="start" fill="#342690" color="#342690">1.5</text>
<line x1="595.20" y1="594.30" x2="597.50" y2="594.30" stroke="#333" stroke-width="0.75"/>
<text class="t" x="598.70" y="597.50" font-size="9.0" letter-spacing="0.05" text-anchor="start" fill="#342690" color="#342690">1.0</text>
<line x1="595.20" y1="616.60" x2="597.50" y2="616.60" stroke="#333" stroke-width="0.75"/>
<text class="t" x="598.70" y="619.80" font-size="9.0" letter-spacing="0.05" text-anchor="start" fill="#342690" color="#342690">0.5</text>
<line x1="595.20" y1="638.70" x2="597.50" y2="638.70" stroke="#333" stroke-width="0.75"/>
<text class="t" x="598.70" y="641.90" font-size="9.0" letter-spacing="0.05" text-anchor="start" fill="#342690" color="#342690">0.0</text>
<g fill="#b5877c" color="#b5877c"><text x="493.20" y="568.70" font-size="9.8" text-anchor="middle">×</text><text x="496.70" y="568.80" font-size="9.0" textLength="9.6" lengthAdjust="spacingAndGlyphs">10</text><text x="507.10" y="565.20" font-size="6.0">4</text></g>
<g fill="#342690" color="#342690"><text x="577.50" y="568.70" font-size="9.8" text-anchor="middle">×</text><text x="581.00" y="568.80" font-size="9.0" textLength="9.6" lengthAdjust="spacingAndGlyphs">10</text><text x="591.40" y="565.20" font-size="6.0">5</text></g>
<text x="542.80" y="561.30" font-size="15.3" text-anchor="middle" fill="#000" color="#000">D</text>
<g clip-path="none">
<polyline points="40.37,897.09 44.86,895.34 49.36,895.34 53.85,895.69 58.34,895.69 62.84,894.47 67.33,889.56 71.83,876.77 76.32,855.40 80.81,840.16 85.31,836.66 89.80,846.64 94.30,853.65 98.79,849.27 103.29,845.42 107.78,844.54 112.27,851.02 116.77,858.38 121.26,864.69 125.76,869.42 130.25,877.65 134.74,886.41 139.24,893.07 143.73,899.20" fill="none" stroke="#b5877c" stroke-width="1.0" stroke-linejoin="round"/>
<circle cx="40.37" cy="897.09" r="1.9" fill="#b5877c"/><circle cx="44.86" cy="895.34" r="1.9" fill="#b5877c"/><circle cx="49.36" cy="895.34" r="1.9" fill="#b5877c"/><circle cx="53.85" cy="895.69" r="1.9" fill="#b5877c"/><circle cx="58.34" cy="895.69" r="1.9" fill="#b5877c"/><circle cx="62.84" cy="894.47" r="1.9" fill="#b5877c"/><circle cx="67.33" cy="889.56" r="1.9" fill="#b5877c"/><circle cx="71.83" cy="876.77" r="1.9" fill="#b5877c"/><circle cx="76.32" cy="855.40" r="1.9" fill="#b5877c"/><circle cx="80.81" cy="840.16" r="1.9" fill="#b5877c"/><circle cx="85.31" cy="836.66" r="1.9" fill="#b5877c"/><circle cx="89.80" cy="846.64" r="1.9" fill="#b5877c"/><circle cx="94.30" cy="853.65" r="1.9" fill="#b5877c"/><circle cx="98.79" cy="849.27" r="1.9" fill="#b5877c"/><circle cx="103.29" cy="845.42" r="1.9" fill="#b5877c"/><circle cx="107.78" cy="844.54" r="1.9" fill="#b5877c"/><circle cx="112.27" cy="851.02" r="1.9" fill="#b5877c"/><circle cx="116.77" cy="858.38" r="1.9" fill="#b5877c"/><circle cx="121.26" cy="864.69" r="1.9" fill="#b5877c"/><circle cx="125.76" cy="869.42" r="1.9" fill="#b5877c"/><circle cx="130.25" cy="877.65" r="1.9" fill="#b5877c"/><circle cx="134.74" cy="886.41" r="1.9" fill="#b5877c"/><circle cx="139.24" cy="893.07" r="1.9" fill="#b5877c"/><circle cx="143.73" cy="899.20" r="1.9" fill="#b5877c"/>
<polyline points="40.37,896.22 44.86,897.97 49.36,899.20 53.85,899.37 58.34,897.09 62.84,889.21 67.33,871.52 71.83,851.02 76.32,836.66 80.81,837.36 85.31,846.64 89.80,856.28 94.30,858.91 98.79,854.53 103.29,852.42 107.78,854.53 112.27,859.26 116.77,862.93 121.26,867.31 125.76,873.45 130.25,879.93 134.74,886.41 139.24,890.96 143.73,893.94" fill="none" stroke="#342690" stroke-width="1.0" stroke-linejoin="round"/>
<circle cx="40.37" cy="896.22" r="1.9" fill="#342690"/><circle cx="44.86" cy="897.97" r="1.9" fill="#342690"/><circle cx="49.36" cy="899.20" r="1.9" fill="#342690"/><circle cx="53.85" cy="899.37" r="1.9" fill="#342690"/><circle cx="58.34" cy="897.09" r="1.9" fill="#342690"/><circle cx="62.84" cy="889.21" r="1.9" fill="#342690"/><circle cx="67.33" cy="871.52" r="1.9" fill="#342690"/><circle cx="71.83" cy="851.02" r="1.9" fill="#342690"/><circle cx="76.32" cy="836.66" r="1.9" fill="#342690"/><circle cx="80.81" cy="837.36" r="1.9" fill="#342690"/><circle cx="85.31" cy="846.64" r="1.9" fill="#342690"/><circle cx="89.80" cy="856.28" r="1.9" fill="#342690"/><circle cx="94.30" cy="858.91" r="1.9" fill="#342690"/><circle cx="98.79" cy="854.53" r="1.9" fill="#342690"/><circle cx="103.29" cy="852.42" r="1.9" fill="#342690"/><circle cx="107.78" cy="854.53" r="1.9" fill="#342690"/><circle cx="112.27" cy="859.26" r="1.9" fill="#342690"/><circle cx="116.77" cy="862.93" r="1.9" fill="#342690"/><circle cx="121.26" cy="867.31" r="1.9" fill="#342690"/><circle cx="125.76" cy="873.45" r="1.9" fill="#342690"/><circle cx="130.25" cy="879.93" r="1.9" fill="#342690"/><circle cx="134.74" cy="886.41" r="1.9" fill="#342690"/><circle cx="139.24" cy="890.96" r="1.9" fill="#342690"/><circle cx="143.73" cy="893.94" r="1.9" fill="#342690"/>
</g>
<rect x="35.20" y="833.90" width="113.70" height="68.30" fill="none" stroke="#666" stroke-width="1.0"/>
<line x1="40.37" y1="902.70" x2="40.37" y2="905.00" stroke="#333" stroke-width="0.75"/>
<text class="t" x="40.39" y="913.20" font-size="9.0" letter-spacing="0.05" text-anchor="middle" fill="#1f1f1f" color="#1f1f1f">0</text>
<line x1="58.34" y1="902.70" x2="58.34" y2="905.00" stroke="#333" stroke-width="0.75"/>
<text class="t" x="58.37" y="913.20" font-size="9.0" letter-spacing="0.05" text-anchor="middle" fill="#1f1f1f" color="#1f1f1f">4</text>
<line x1="76.32" y1="902.70" x2="76.32" y2="905.00" stroke="#333" stroke-width="0.75"/>
<text class="t" x="76.35" y="913.20" font-size="9.0" letter-spacing="0.05" text-anchor="middle" fill="#1f1f1f" color="#1f1f1f">8</text>
<line x1="94.30" y1="902.70" x2="94.30" y2="905.00" stroke="#333" stroke-width="0.75"/>
<text class="t" x="94.32" y="913.20" font-size="9.0" letter-spacing="0.05" text-anchor="middle" fill="#1f1f1f" color="#1f1f1f">12</text>
<line x1="112.27" y1="902.70" x2="112.27" y2="905.00" stroke="#333" stroke-width="0.75"/>
<text class="t" x="112.30" y="913.20" font-size="9.0" letter-spacing="0.05" text-anchor="middle" fill="#1f1f1f" color="#1f1f1f">16</text>
<line x1="130.25" y1="902.70" x2="130.25" y2="905.00" stroke="#333" stroke-width="0.75"/>
<text class="t" x="130.27" y="913.20" font-size="9.0" letter-spacing="0.05" text-anchor="middle" fill="#1f1f1f" color="#1f1f1f">20</text>
<text x="92.05" y="922.50" font-size="8.3" text-anchor="middle" fill="#1f1f1f" color="#1f1f1f">time(hr)</text>
<line x1="32.40" y1="849.30" x2="34.70" y2="849.30" stroke="#333" stroke-width="0.75"/>
<text class="t" x="31.25" y="852.50" font-size="9.0" letter-spacing="0.05" text-anchor="end" fill="#b5877c" color="#b5877c">1.0</text>
<line x1="32.40" y1="875.20" x2="34.70" y2="875.20" stroke="#333" stroke-width="0.75"/>
<text class="t" x="31.25" y="878.40" font-size="9.0" letter-spacing="0.05" text-anchor="end" fill="#b5877c" color="#b5877c">0.5</text>
<line x1="149.40" y1="846.10" x2="151.70" y2="846.10" stroke="#333" stroke-width="0.75"/>
<text class="t" x="152.90" y="849.30" font-size="9.0" letter-spacing="0.05" text-anchor="start" fill="#342690" color="#342690">3</text>
<line x1="149.40" y1="864.80" x2="151.70" y2="864.80" stroke="#333" stroke-width="0.75"/>
<text class="t" x="152.90" y="868.00" font-size="9.0" letter-spacing="0.05" text-anchor="start" fill="#342690" color="#342690">2</text>
<line x1="149.40" y1="883.80" x2="151.70" y2="883.80" stroke="#333" stroke-width="0.75"/>
<text class="t" x="152.90" y="887.00" font-size="9.0" letter-spacing="0.05" text-anchor="start" fill="#342690" color="#342690">1</text>
<g fill="#b5877c" color="#b5877c"><text x="38.80" y="832.00" font-size="9.8" text-anchor="middle">×</text><text x="42.30" y="832.10" font-size="9.0" textLength="9.6" lengthAdjust="spacingAndGlyphs">10</text><text x="52.70" y="828.50" font-size="6.0">4</text></g>
<g fill="#342690" color="#342690"><text x="131.70" y="832.00" font-size="9.8" text-anchor="middle">×</text><text x="135.20" y="832.10" font-size="9.0" textLength="9.6" lengthAdjust="spacingAndGlyphs">10</text><text x="145.60" y="828.50" font-size="6.0">4</text></g>
<text x="91.80" y="825.50" font-size="15.3" text-anchor="middle" fill="#000" color="#000">E</text>
<g clip-path="none">
<polyline points="191.52,898.85 195.97,898.85 200.42,898.67 204.87,898.32 209.32,898.32 213.77,897.97 218.22,895.34 222.67,888.34 227.12,879.05 231.57,864.16 236.02,852.77 240.47,843.66 244.93,842.26 249.38,837.88 253.83,836.66 258.28,839.64 262.73,848.04 267.18,858.03 271.63,871.17 276.08,877.30 280.53,885.71 284.98,893.59 289.43,897.45 293.88,899.20" fill="none" stroke="#b5877c" stroke-width="1.0" stroke-linejoin="round"/>
<circle cx="191.52" cy="898.85" r="1.9" fill="#b5877c"/><circle cx="195.97" cy="898.85" r="1.9" fill="#b5877c"/><circle cx="200.42" cy="898.67" r="1.9" fill="#b5877c"/><circle cx="204.87" cy="898.32" r="1.9" fill="#b5877c"/><circle cx="209.32" cy="898.32" r="1.9" fill="#b5877c"/><circle cx="213.77" cy="897.97" r="1.9" fill="#b5877c"/><circle cx="218.22" cy="895.34" r="1.9" fill="#b5877c"/><circle cx="222.67" cy="888.34" r="1.9" fill="#b5877c"/><circle cx="227.12" cy="879.05" r="1.9" fill="#b5877c"/><circle cx="231.57" cy="864.16" r="1.9" fill="#b5877c"/><circle cx="236.02" cy="852.77" r="1.9" fill="#b5877c"/><circle cx="240.47" cy="843.66" r="1.9" fill="#b5877c"/><circle cx="244.93" cy="842.26" r="1.9" fill="#b5877c"/><circle cx="249.38" cy="837.88" r="1.9" fill="#b5877c"/><circle cx="253.83" cy="836.66" r="1.9" fill="#b5877c"/><circle cx="258.28" cy="839.64" r="1.9" fill="#b5877c"/><circle cx="262.73" cy="848.04" r="1.9" fill="#b5877c"/><circle cx="267.18" cy="858.03" r="1.9" fill="#b5877c"/><circle cx="271.63" cy="871.17" r="1.9" fill="#b5877c"/><circle cx="276.08" cy="877.30" r="1.9" fill="#b5877c"/><circle cx="280.53" cy="885.71" r="1.9" fill="#b5877c"/><circle cx="284.98" cy="893.59" r="1.9" fill="#b5877c"/><circle cx="289.43" cy="897.45" r="1.9" fill="#b5877c"/><circle cx="293.88" cy="899.20" r="1.9" fill="#b5877c"/>
<polyline points="191.52,886.41 195.97,889.56 200.42,889.74 204.87,889.21 209.32,890.44 213.77,884.31 218.22,880.80 222.67,880.80 227.12,875.20 231.57,860.66 236.02,852.77 240.47,850.15 244.93,836.66 249.38,844.36 253.83,837.88 258.28,847.52 262.73,855.40 267.18,858.91 271.63,867.66 276.08,872.39 280.53,875.90 284.98,891.31 289.43,899.20 293.88,896.57" fill="none" stroke="#342690" stroke-width="1.0" stroke-linejoin="round"/>
<circle cx="191.52" cy="886.41" r="1.9" fill="#342690"/><circle cx="195.97" cy="889.56" r="1.9" fill="#342690"/><circle cx="200.42" cy="889.74" r="1.9" fill="#342690"/><circle cx="204.87" cy="889.21" r="1.9" fill="#342690"/><circle cx="209.32" cy="890.44" r="1.9" fill="#342690"/><circle cx="213.77" cy="884.31" r="1.9" fill="#342690"/><circle cx="218.22" cy="880.80" r="1.9" fill="#342690"/><circle cx="222.67" cy="880.80" r="1.9" fill="#342690"/><circle cx="227.12" cy="875.20" r="1.9" fill="#342690"/><circle cx="231.57" cy="860.66" r="1.9" fill="#342690"/><circle cx="236.02" cy="852.77" r="1.9" fill="#342690"/><circle cx="240.47" cy="850.15" r="1.9" fill="#342690"/><circle cx="244.93" cy="836.66" r="1.9" fill="#342690"/><circle cx="249.38" cy="844.36" r="1.9" fill="#342690"/><circle cx="253.83" cy="837.88" r="1.9" fill="#342690"/><circle cx="258.28" cy="847.52" r="1.9" fill="#342690"/><circle cx="262.73" cy="855.40" r="1.9" fill="#342690"/><circle cx="267.18" cy="858.91" r="1.9" fill="#342690"/><circle cx="271.63" cy="867.66" r="1.9" fill="#342690"/><circle cx="276.08" cy="872.39" r="1.9" fill="#342690"/><circle cx="280.53" cy="875.90" r="1.9" fill="#342690"/><circle cx="284.98" cy="891.31" r="1.9" fill="#342690"/><circle cx="289.43" cy="899.20" r="1.9" fill="#342690"/><circle cx="293.88" cy="896.57" r="1.9" fill="#342690"/>
</g>
<rect x="186.40" y="833.90" width="112.60" height="67.90" fill="none" stroke="#666" stroke-width="1.0"/>
<line x1="191.52" y1="902.30" x2="191.52" y2="904.60" stroke="#333" stroke-width="0.75"/>
<text class="t" x="191.54" y="912.80" font-size="9.0" letter-spacing="0.05" text-anchor="middle" fill="#1f1f1f" color="#1f1f1f">0</text>
<line x1="209.32" y1="902.30" x2="209.32" y2="904.60" stroke="#333" stroke-width="0.75"/>
<text class="t" x="209.35" y="912.80" font-size="9.0" letter-spacing="0.05" text-anchor="middle" fill="#1f1f1f" color="#1f1f1f">4</text>
<line x1="227.12" y1="902.30" x2="227.12" y2="904.60" stroke="#333" stroke-width="0.75"/>
<text class="t" x="227.15" y="912.80" font-size="9.0" letter-spacing="0.05" text-anchor="middle" fill="#1f1f1f" color="#1f1f1f">8</text>
<line x1="244.93" y1="902.30" x2="244.93" y2="904.60" stroke="#333" stroke-width="0.75"/>
<text class="t" x="244.95" y="912.80" font-size="9.0" letter-spacing="0.05" text-anchor="middle" fill="#1f1f1f" color="#1f1f1f">12</text>
<line x1="262.73" y1="902.30" x2="262.73" y2="904.60" stroke="#333" stroke-width="0.75"/>
<text class="t" x="262.75" y="912.80" font-size="9.0" letter-spacing="0.05" text-anchor="middle" fill="#1f1f1f" color="#1f1f1f">16</text>
<line x1="280.53" y1="902.30" x2="280.53" y2="904.60" stroke="#333" stroke-width="0.75"/>
<text class="t" x="280.56" y="912.80" font-size="9.0" letter-spacing="0.05" text-anchor="middle" fill="#1f1f1f" color="#1f1f1f">20</text>
<text x="242.70" y="922.10" font-size="8.3" text-anchor="middle" fill="#1f1f1f" color="#1f1f1f">time(hr)</text>
<line x1="183.60" y1="865.00" x2="185.90" y2="865.00" stroke="#333" stroke-width="0.75"/>
<text class="t" x="182.45" y="868.20" font-size="9.0" letter-spacing="0.05" text-anchor="end" fill="#b5877c" color="#b5877c">5</text>
<line x1="183.60" y1="899.60" x2="185.90" y2="899.60" stroke="#333" stroke-width="0.75"/>
<text class="t" x="182.45" y="902.80" font-size="9.0" letter-spacing="0.05" text-anchor="end" fill="#b5877c" color="#b5877c">0</text>
<line x1="299.50" y1="847.50" x2="301.80" y2="847.50" stroke="#333" stroke-width="0.75"/>
<text class="t" x="303.00" y="850.70" font-size="9.0" letter-spacing="0.05" text-anchor="start" fill="#342690" color="#342690">9</text>
<line x1="299.50" y1="869.40" x2="301.80" y2="869.40" stroke="#333" stroke-width="0.75"/>
<text class="t" x="303.00" y="872.60" font-size="9.0" letter-spacing="0.05" text-anchor="start" fill="#342690" color="#342690">8</text>
<line x1="299.50" y1="891.30" x2="301.80" y2="891.30" stroke="#333" stroke-width="0.75"/>
<text class="t" x="303.00" y="894.50" font-size="9.0" letter-spacing="0.05" text-anchor="start" fill="#342690" color="#342690">7</text>
<g fill="#b5877c" color="#b5877c"><text x="190.00" y="832.00" font-size="9.8" text-anchor="middle">×</text><text x="193.50" y="832.10" font-size="9.0" textLength="9.6" lengthAdjust="spacingAndGlyphs">10</text><text x="203.90" y="828.50" font-size="6.0">3</text></g>
<g fill="#342690" color="#342690"><text x="281.80" y="832.00" font-size="9.8" text-anchor="middle">×</text><text x="285.30" y="832.10" font-size="9.0" textLength="9.6" lengthAdjust="spacingAndGlyphs">10</text><text x="295.70" y="828.50" font-size="6.0">3</text></g>
<text x="247.90" y="825.50" font-size="15.3" text-anchor="middle" fill="#000" color="#000">F</text>
<g clip-path="none">
<polyline points="341.09,895.20 345.34,893.00 349.60,891.81 353.85,891.81 358.10,890.46 362.36,889.27 366.61,884.70 370.86,868.95 375.11,851.17 379.37,839.31 383.62,836.44 387.87,841.01 392.13,842.70 396.38,841.35 400.63,837.11 404.89,837.28 409.14,842.70 413.39,855.06 417.64,860.14 421.90,862.18 426.15,874.37 430.40,886.22 434.66,894.01 438.91,899.09" fill="none" stroke="#b5877c" stroke-width="1.0" stroke-linejoin="round"/>
<circle cx="341.09" cy="895.20" r="1.9" fill="#b5877c"/><circle cx="345.34" cy="893.00" r="1.9" fill="#b5877c"/><circle cx="349.60" cy="891.81" r="1.9" fill="#b5877c"/><circle cx="353.85" cy="891.81" r="1.9" fill="#b5877c"/><circle cx="358.10" cy="890.46" r="1.9" fill="#b5877c"/><circle cx="362.36" cy="889.27" r="1.9" fill="#b5877c"/><circle cx="366.61" cy="884.70" r="1.9" fill="#b5877c"/><circle cx="370.86" cy="868.95" r="1.9" fill="#b5877c"/><circle cx="375.11" cy="851.17" r="1.9" fill="#b5877c"/><circle cx="379.37" cy="839.31" r="1.9" fill="#b5877c"/><circle cx="383.62" cy="836.44" r="1.9" fill="#b5877c"/><circle cx="387.87" cy="841.01" r="1.9" fill="#b5877c"/><circle cx="392.13" cy="842.70" r="1.9" fill="#b5877c"/><circle cx="396.38" cy="841.35" r="1.9" fill="#b5877c"/><circle cx="400.63" cy="837.11" r="1.9" fill="#b5877c"/><circle cx="404.89" cy="837.28" r="1.9" fill="#b5877c"/><circle cx="409.14" cy="842.70" r="1.9" fill="#b5877c"/><circle cx="413.39" cy="855.06" r="1.9" fill="#b5877c"/><circle cx="417.64" cy="860.14" r="1.9" fill="#b5877c"/><circle cx="421.90" cy="862.18" r="1.9" fill="#b5877c"/><circle cx="426.15" cy="874.37" r="1.9" fill="#b5877c"/><circle cx="430.40" cy="886.22" r="1.9" fill="#b5877c"/><circle cx="434.66" cy="894.01" r="1.9" fill="#b5877c"/><circle cx="438.91" cy="899.09" r="1.9" fill="#b5877c"/>
<polyline points="341.09,893.50 345.34,897.40 349.60,898.92 353.85,899.09 358.10,897.74 362.36,893.00 366.61,872.34 370.86,841.52 375.11,836.44 379.37,840.50 383.62,839.65 387.87,840.16 392.13,852.86 396.38,860.48 400.63,857.09 404.89,848.63 409.14,843.55 413.39,843.04 417.64,849.47 421.90,856.76 426.15,865.22 430.40,874.88 434.66,881.65 438.91,888.93" fill="none" stroke="#342690" stroke-width="1.0" stroke-linejoin="round"/>
<circle cx="341.09" cy="893.50" r="1.9" fill="#342690"/><circle cx="345.34" cy="897.40" r="1.9" fill="#342690"/><circle cx="349.60" cy="898.92" r="1.9" fill="#342690"/><circle cx="353.85" cy="899.09" r="1.9" fill="#342690"/><circle cx="358.10" cy="897.74" r="1.9" fill="#342690"/><circle cx="362.36" cy="893.00" r="1.9" fill="#342690"/><circle cx="366.61" cy="872.34" r="1.9" fill="#342690"/><circle cx="370.86" cy="841.52" r="1.9" fill="#342690"/><circle cx="375.11" cy="836.44" r="1.9" fill="#342690"/><circle cx="379.37" cy="840.50" r="1.9" fill="#342690"/><circle cx="383.62" cy="839.65" r="1.9" fill="#342690"/><circle cx="387.87" cy="840.16" r="1.9" fill="#342690"/><circle cx="392.13" cy="852.86" r="1.9" fill="#342690"/><circle cx="396.38" cy="860.48" r="1.9" fill="#342690"/><circle cx="400.63" cy="857.09" r="1.9" fill="#342690"/><circle cx="404.89" cy="848.63" r="1.9" fill="#342690"/><circle cx="409.14" cy="843.55" r="1.9" fill="#342690"/><circle cx="413.39" cy="843.04" r="1.9" fill="#342690"/><circle cx="417.64" cy="849.47" r="1.9" fill="#342690"/><circle cx="421.90" cy="856.76" r="1.9" fill="#342690"/><circle cx="426.15" cy="865.22" r="1.9" fill="#342690"/><circle cx="430.40" cy="874.88" r="1.9" fill="#342690"/><circle cx="434.66" cy="881.65" r="1.9" fill="#342690"/><circle cx="438.91" cy="888.93" r="1.9" fill="#342690"/>
</g>
<rect x="336.20" y="833.70" width="107.60" height="68.30" fill="none" stroke="#666" stroke-width="1.0"/>
<line x1="341.09" y1="902.50" x2="341.09" y2="904.80" stroke="#333" stroke-width="0.75"/>
<text class="t" x="341.12" y="913.00" font-size="9.0" letter-spacing="0.05" text-anchor="middle" fill="#1f1f1f" color="#1f1f1f">0</text>
<line x1="358.10" y1="902.50" x2="358.10" y2="904.80" stroke="#333" stroke-width="0.75"/>
<text class="t" x="358.13" y="913.00" font-size="9.0" letter-spacing="0.05" text-anchor="middle" fill="#1f1f1f" color="#1f1f1f">4</text>
<line x1="375.11" y1="902.50" x2="375.11" y2="904.80" stroke="#333" stroke-width="0.75"/>
<text class="t" x="375.14" y="913.00" font-size="9.0" letter-spacing="0.05" text-anchor="middle" fill="#1f1f1f" color="#1f1f1f">8</text>
<line x1="392.13" y1="902.50" x2="392.13" y2="904.80" stroke="#333" stroke-width="0.75"/>
<text class="t" x="392.15" y="913.00" font-size="9.0" letter-spacing="0.05" text-anchor="middle" fill="#1f1f1f" color="#1f1f1f">12</text>
<line x1="409.14" y1="902.50" x2="409.14" y2="904.80" stroke="#333" stroke-width="0.75"/>
<text class="t" x="409.16" y="913.00" font-size="9.0" letter-spacing="0.05" text-anchor="middle" fill="#1f1f1f" color="#1f1f1f">16</text>
<line x1="426.15" y1="902.50" x2="426.15" y2="904.80" stroke="#333" stroke-width="0.75"/>
<text class="t" x="426.18" y="913.00" font-size="9.0" letter-spacing="0.05" text-anchor="middle" fill="#1f1f1f" color="#1f1f1f">20</text>
<text x="390.00" y="922.30" font-size="8.3" text-anchor="middle" fill="#1f1f1f" color="#1f1f1f">time(hr)</text>
<line x1="333.40" y1="849.50" x2="335.70" y2="849.50" stroke="#333" stroke-width="0.75"/>
<text class="t" x="332.25" y="852.70" font-size="9.0" letter-spacing="0.05" text-anchor="end" fill="#b5877c" color="#b5877c">4</text>
<line x1="333.40" y1="875.40" x2="335.70" y2="875.40" stroke="#333" stroke-width="0.75"/>
<text class="t" x="332.25" y="878.60" font-size="9.0" letter-spacing="0.05" text-anchor="end" fill="#b5877c" color="#b5877c">2</text>
<line x1="333.40" y1="901.10" x2="335.70" y2="901.10" stroke="#333" stroke-width="0.75"/>
<text class="t" x="332.25" y="904.30" font-size="9.0" letter-spacing="0.05" text-anchor="end" fill="#b5877c" color="#b5877c">0</text>
<line x1="444.30" y1="843.00" x2="446.60" y2="843.00" stroke="#333" stroke-width="0.75"/>
<text class="t" x="447.80" y="846.20" font-size="9.0" letter-spacing="0.05" text-anchor="start" fill="#342690" color="#342690">1.0</text>
<line x1="444.30" y1="873.50" x2="446.60" y2="873.50" stroke="#333" stroke-width="0.75"/>
<text class="t" x="447.80" y="876.70" font-size="9.0" letter-spacing="0.05" text-anchor="start" fill="#342690" color="#342690">0.5</text>
<g fill="#b5877c" color="#b5877c"><text x="339.80" y="831.80" font-size="9.8" text-anchor="middle">×</text><text x="343.30" y="831.90" font-size="9.0" textLength="9.6" lengthAdjust="spacingAndGlyphs">10</text><text x="353.70" y="828.30" font-size="6.0">3</text></g>
<g fill="#342690" color="#342690"><text x="426.60" y="831.80" font-size="9.8" text-anchor="middle">×</text><text x="430.10" y="831.90" font-size="9.0" textLength="9.6" lengthAdjust="spacingAndGlyphs">10</text><text x="440.50" y="828.30" font-size="6.0">4</text></g>
<text x="396.40" y="825.50" font-size="15.3" text-anchor="middle" fill="#000" color="#000">G</text>
<g clip-path="none">
<polyline points="490.20,897.64 494.97,896.90 499.75,896.71 504.53,896.71 509.31,896.34 514.09,896.34 518.87,893.53 523.65,886.06 528.42,878.96 533.20,869.61 537.98,863.26 542.76,852.80 547.54,846.26 552.32,839.72 557.10,836.54 561.88,838.04 566.65,839.34 571.43,839.90 576.21,841.77 580.99,847.19 585.77,861.21 590.55,879.14 595.33,893.53 600.10,899.14" fill="none" stroke="#b5877c" stroke-width="1.0" stroke-linejoin="round"/>
<circle cx="490.20" cy="897.64" r="1.9" fill="#b5877c"/><circle cx="494.97" cy="896.90" r="1.9" fill="#b5877c"/><circle cx="499.75" cy="896.71" r="1.9" fill="#b5877c"/><circle cx="504.53" cy="896.71" r="1.9" fill="#b5877c"/><circle cx="509.31" cy="896.34" r="1.9" fill="#b5877c"/><circle cx="514.09" cy="896.34" r="1.9" fill="#b5877c"/><circle cx="518.87" cy="893.53" r="1.9" fill="#b5877c"/><circle cx="523.65" cy="886.06" r="1.9" fill="#b5877c"/><circle cx="528.42" cy="878.96" r="1.9" fill="#b5877c"/><circle cx="533.20" cy="869.61" r="1.9" fill="#b5877c"/><circle cx="537.98" cy="863.26" r="1.9" fill="#b5877c"/><circle cx="542.76" cy="852.80" r="1.9" fill="#b5877c"/><circle cx="547.54" cy="846.26" r="1.9" fill="#b5877c"/><circle cx="552.32" cy="839.72" r="1.9" fill="#b5877c"/><circle cx="557.10" cy="836.54" r="1.9" fill="#b5877c"/><circle cx="561.88" cy="838.04" r="1.9" fill="#b5877c"/><circle cx="566.65" cy="839.34" r="1.9" fill="#b5877c"/><circle cx="571.43" cy="839.90" r="1.9" fill="#b5877c"/><circle cx="576.21" cy="841.77" r="1.9" fill="#b5877c"/><circle cx="580.99" cy="847.19" r="1.9" fill="#b5877c"/><circle cx="585.77" cy="861.21" r="1.9" fill="#b5877c"/><circle cx="590.55" cy="879.14" r="1.9" fill="#b5877c"/><circle cx="595.33" cy="893.53" r="1.9" fill="#b5877c"/><circle cx="600.10" cy="899.14" r="1.9" fill="#b5877c"/>
<polyline points="490.20,889.42 494.97,893.16 499.75,896.34 504.53,892.60 509.31,888.30 514.09,894.47 518.87,899.14 523.65,893.91 528.42,871.11 533.20,841.77 537.98,839.72 542.76,836.54 547.54,836.91 552.32,845.88 557.10,842.52 561.88,842.33 566.65,842.71 571.43,846.82 576.21,841.59 580.99,846.44 585.77,866.06 590.55,875.97 595.33,889.05 600.10,887.55" fill="none" stroke="#342690" stroke-width="1.0" stroke-linejoin="round"/>
<circle cx="490.20" cy="889.42" r="1.9" fill="#342690"/><circle cx="494.97" cy="893.16" r="1.9" fill="#342690"/><circle cx="499.75" cy="896.34" r="1.9" fill="#342690"/><circle cx="504.53" cy="892.60" r="1.9" fill="#342690"/><circle cx="509.31" cy="888.30" r="1.9" fill="#342690"/><circle cx="514.09" cy="894.47" r="1.9" fill="#342690"/><circle cx="518.87" cy="899.14" r="1.9" fill="#342690"/><circle cx="523.65" cy="893.91" r="1.9" fill="#342690"/><circle cx="528.42" cy="871.11" r="1.9" fill="#342690"/><circle cx="533.20" cy="841.77" r="1.9" fill="#342690"/><circle cx="537.98" cy="839.72" r="1.9" fill="#342690"/><circle cx="542.76" cy="836.54" r="1.9" fill="#342690"/><circle cx="547.54" cy="836.91" r="1.9" fill="#342690"/><circle cx="552.32" cy="845.88" r="1.9" fill="#342690"/><circle cx="557.10" cy="842.52" r="1.9" fill="#342690"/><circle cx="561.88" cy="842.33" r="1.9" fill="#342690"/><circle cx="566.65" cy="842.71" r="1.9" fill="#342690"/><circle cx="571.43" cy="846.82" r="1.9" fill="#342690"/><circle cx="576.21" cy="841.59" r="1.9" fill="#342690"/><circle cx="580.99" cy="846.44" r="1.9" fill="#342690"/><circle cx="585.77" cy="866.06" r="1.9" fill="#342690"/><circle cx="590.55" cy="875.97" r="1.9" fill="#342690"/><circle cx="595.33" cy="889.05" r="1.9" fill="#342690"/><circle cx="600.10" cy="887.55" r="1.9" fill="#342690"/>
</g>
<rect x="484.70" y="833.70" width="120.90" height="67.90" fill="none" stroke="#666" stroke-width="1.0"/>
<line x1="490.20" y1="902.10" x2="490.20" y2="904.40" stroke="#333" stroke-width="0.75"/>
<text class="t" x="490.22" y="912.60" font-size="9.0" letter-spacing="0.05" text-anchor="middle" fill="#1f1f1f" color="#1f1f1f">0</text>
<line x1="509.31" y1="902.10" x2="509.31" y2="904.40" stroke="#333" stroke-width="0.75"/>
<text class="t" x="509.34" y="912.60" font-size="9.0" letter-spacing="0.05" text-anchor="middle" fill="#1f1f1f" color="#1f1f1f">4</text>
<line x1="528.42" y1="902.10" x2="528.42" y2="904.40" stroke="#333" stroke-width="0.75"/>
<text class="t" x="528.45" y="912.60" font-size="9.0" letter-spacing="0.05" text-anchor="middle" fill="#1f1f1f" color="#1f1f1f">8</text>
<line x1="547.54" y1="902.10" x2="547.54" y2="904.40" stroke="#333" stroke-width="0.75"/>
<text class="t" x="547.56" y="912.60" font-size="9.0" letter-spacing="0.05" text-anchor="middle" fill="#1f1f1f" color="#1f1f1f">12</text>
<line x1="566.65" y1="902.10" x2="566.65" y2="904.40" stroke="#333" stroke-width="0.75"/>
<text class="t" x="566.68" y="912.60" font-size="9.0" letter-spacing="0.05" text-anchor="middle" fill="#1f1f1f" color="#1f1f1f">16</text>
<line x1="585.77" y1="902.10" x2="585.77" y2="904.40" stroke="#333" stroke-width="0.75"/>
<text class="t" x="585.79" y="912.60" font-size="9.0" letter-spacing="0.05" text-anchor="middle" fill="#1f1f1f" color="#1f1f1f">20</text>
<text x="545.15" y="921.90" font-size="8.3" text-anchor="middle" fill="#1f1f1f" color="#1f1f1f">time(hr)</text>
<line x1="481.90" y1="844.00" x2="484.20" y2="844.00" stroke="#333" stroke-width="0.75"/>
<text class="t" x="480.75" y="847.20" font-size="9.0" letter-spacing="0.05" text-anchor="end" fill="#b5877c" color="#b5877c">7.5</text>
<line x1="481.90" y1="863.60" x2="484.20" y2="863.60" stroke="#333" stroke-width="0.75"/>
<text class="t" x="480.75" y="866.80" font-size="9.0" letter-spacing="0.05" text-anchor="end" fill="#b5877c" color="#b5877c">5.0</text>
<line x1="481.90" y1="882.70" x2="484.20" y2="882.70" stroke="#333" stroke-width="0.75"/>
<text class="t" x="480.75" y="885.90" font-size="9.0" letter-spacing="0.05" text-anchor="end" fill="#b5877c" color="#b5877c">2.5</text>
<line x1="481.90" y1="901.00" x2="484.20" y2="901.00" stroke="#333" stroke-width="0.75"/>
<text class="t" x="480.75" y="904.20" font-size="9.0" letter-spacing="0.05" text-anchor="end" fill="#b5877c" color="#b5877c">0.0</text>
<line x1="606.10" y1="850.80" x2="608.40" y2="850.80" stroke="#333" stroke-width="0.75"/>
<text class="t" x="609.60" y="854.00" font-size="9.0" letter-spacing="0.05" text-anchor="start" fill="#342690" color="#342690">4</text>
<line x1="606.10" y1="881.60" x2="608.40" y2="881.60" stroke="#333" stroke-width="0.75"/>
<text class="t" x="609.60" y="884.80" font-size="9.0" letter-spacing="0.05" text-anchor="start" fill="#342690" color="#342690">2</text>
<g fill="#b5877c" color="#b5877c"><text x="488.30" y="831.80" font-size="9.8" text-anchor="middle">×</text><text x="491.80" y="831.90" font-size="9.0" textLength="9.6" lengthAdjust="spacingAndGlyphs">10</text><text x="502.20" y="828.30" font-size="6.0">3</text></g>
<g fill="#342690" color="#342690"><text x="588.40" y="831.80" font-size="9.8" text-anchor="middle">×</text><text x="591.90" y="831.90" font-size="9.0" textLength="9.6" lengthAdjust="spacingAndGlyphs">10</text><text x="602.30" y="828.30" font-size="6.0">3</text></g>
<text x="545.60" y="825.50" font-size="15.3" text-anchor="middle" fill="#000" color="#000">H</text>
<circle cx="48.58" cy="223.30" r="2.0" fill="#acb2c4"/><circle cx="50.69" cy="223.51" r="2.0" fill="#acb2c4"/><circle cx="53.87" cy="224.15" r="2.0" fill="#acb2c4"/><circle cx="56.62" cy="222.03" r="2.0" fill="#acb2c4"/><circle cx="57.04" cy="226.90" r="2.0" fill="#acb2c4"/><circle cx="64.03" cy="234.09" r="2.0" fill="#acb2c4"/><circle cx="78.64" cy="221.18" r="2.0" fill="#acb2c4"/><circle cx="91.34" cy="205.09" r="2.0" fill="#acb2c4"/><circle cx="91.55" cy="210.18" r="2.0" fill="#acb2c4"/><circle cx="103.19" cy="188.16" r="2.0" fill="#acb2c4"/><circle cx="114.41" cy="157.04" r="2.0" fill="#acb2c4"/><circle cx="115.04" cy="153.87" r="2.0" fill="#acb2c4"/><circle cx="116.53" cy="154.50" r="2.0" fill="#acb2c4"/><circle cx="117.80" cy="150.91" r="2.0" fill="#acb2c4"/><circle cx="119.91" cy="157.68" r="2.0" fill="#acb2c4"/><circle cx="121.61" cy="154.29" r="2.0" fill="#acb2c4"/><circle cx="119.07" cy="173.98" r="2.0" fill="#acb2c4"/><circle cx="128.38" cy="139.47" r="2.0" fill="#acb2c4"/><circle cx="129.65" cy="159.37" r="2.0" fill="#acb2c4"/><circle cx="135.58" cy="169.74" r="2.0" fill="#acb2c4"/><circle cx="142.77" cy="165.72" r="2.0" fill="#acb2c4"/><circle cx="146.16" cy="161.28" r="2.0" fill="#acb2c4"/><circle cx="147.43" cy="140.32" r="2.0" fill="#acb2c4"/>
<line x1="44.34" y1="234.94" x2="152.72" y2="138.42" stroke="#d97d71" stroke-width="0.9"/>
<polyline points="38.85,133.80 38.85,239.30 157.60,239.30" fill="none" stroke="#666" stroke-width="1.0"/>
<line x1="36.05" y1="136.50" x2="38.35" y2="136.50" stroke="#333" stroke-width="0.75"/>
<text class="t" x="34.90" y="139.70" font-size="9.0" letter-spacing="0.05" text-anchor="end" fill="#1f1f1f" color="#1f1f1f">5</text>
<line x1="36.05" y1="157.00" x2="38.35" y2="157.00" stroke="#333" stroke-width="0.75"/>
<text class="t" x="34.90" y="160.20" font-size="9.0" letter-spacing="0.05" text-anchor="end" fill="#1f1f1f" color="#1f1f1f">4</text>
<line x1="36.05" y1="178.60" x2="38.35" y2="178.60" stroke="#333" stroke-width="0.75"/>
<text class="t" x="34.90" y="181.80" font-size="9.0" letter-spacing="0.05" text-anchor="end" fill="#1f1f1f" color="#1f1f1f">3</text>
<line x1="36.05" y1="199.40" x2="38.35" y2="199.40" stroke="#333" stroke-width="0.75"/>
<text class="t" x="34.90" y="202.60" font-size="9.0" letter-spacing="0.05" text-anchor="end" fill="#1f1f1f" color="#1f1f1f">2</text>
<line x1="36.05" y1="220.50" x2="38.35" y2="220.50" stroke="#333" stroke-width="0.75"/>
<text class="t" x="34.90" y="223.70" font-size="9.0" letter-spacing="0.05" text-anchor="end" fill="#1f1f1f" color="#1f1f1f">1</text>
<line x1="41.80" y1="239.80" x2="41.80" y2="242.10" stroke="#333" stroke-width="0.75"/>
<text class="t" x="41.82" y="249.60" font-size="9.0" letter-spacing="0.05" text-anchor="middle" fill="#1f1f1f" color="#1f1f1f">0</text>
<line x1="99.40" y1="239.80" x2="99.40" y2="242.10" stroke="#333" stroke-width="0.75"/>
<text class="t" x="99.43" y="249.60" font-size="9.0" letter-spacing="0.05" text-anchor="middle" fill="#1f1f1f" color="#1f1f1f">1</text>
<line x1="156.50" y1="239.80" x2="156.50" y2="242.10" stroke="#333" stroke-width="0.75"/>
<text class="t" x="156.53" y="249.60" font-size="9.0" letter-spacing="0.05" text-anchor="middle" fill="#1f1f1f" color="#1f1f1f">2</text>
<text x="98.22" y="259.30" font-size="8.3" text-anchor="middle" fill="#1f1f1f" color="#1f1f1f">Real flow</text>
<g fill="#1f1f1f" color="#1f1f1f"><text x="140.40" y="258.80" font-size="9.8" text-anchor="middle">×</text><text x="143.90" y="258.90" font-size="9.0" textLength="9.6" lengthAdjust="spacingAndGlyphs">10</text><text x="154.30" y="255.30" font-size="6.0">5</text></g>
<g fill="#1f1f1f" color="#1f1f1f"><text x="42.45" y="131.90" font-size="9.8" text-anchor="middle">×</text><text x="45.95" y="132.00" font-size="9.0" textLength="9.6" lengthAdjust="spacingAndGlyphs">10</text><text x="56.35" y="128.40" font-size="6.0">4</text></g>
<text x="44.85" y="144.80" font-size="8.3" text-anchor="start" fill="#1f1f1f" color="#1f1f1f">Pearson Corr: 0.92</text>
<text x="0" y="0" font-size="7.9" text-anchor="middle" fill="#1f1f1f" color="#1f1f1f" transform="translate(26.20,186.55) rotate(-90)">Flow</text>
<circle cx="197.64" cy="227.32" r="2.0" fill="#acb2c4"/><circle cx="199.75" cy="227.74" r="2.0" fill="#acb2c4"/><circle cx="201.87" cy="226.90" r="2.0" fill="#acb2c4"/><circle cx="202.93" cy="225.84" r="2.0" fill="#acb2c4"/><circle cx="205.47" cy="229.01" r="2.0" fill="#acb2c4"/><circle cx="212.66" cy="231.55" r="2.0" fill="#acb2c4"/><circle cx="224.52" cy="225.84" r="2.0" fill="#acb2c4"/><circle cx="225.79" cy="221.61" r="2.0" fill="#acb2c4"/><circle cx="236.37" cy="216.53" r="2.0" fill="#acb2c4"/><circle cx="245.26" cy="204.67" r="2.0" fill="#acb2c4"/><circle cx="253.09" cy="156.41" r="2.0" fill="#acb2c4"/><circle cx="255.21" cy="163.39" r="2.0" fill="#acb2c4"/><circle cx="256.48" cy="158.10" r="2.0" fill="#acb2c4"/><circle cx="256.91" cy="160.64" r="2.0" fill="#acb2c4"/><circle cx="256.91" cy="194.93" r="2.0" fill="#acb2c4"/><circle cx="257.96" cy="149.00" r="2.0" fill="#acb2c4"/><circle cx="260.50" cy="160.22" r="2.0" fill="#acb2c4"/><circle cx="270.03" cy="170.38" r="2.0" fill="#acb2c4"/><circle cx="273.84" cy="138.20" r="2.0" fill="#acb2c4"/><circle cx="275.53" cy="186.68" r="2.0" fill="#acb2c4"/><circle cx="276.80" cy="198.53" r="2.0" fill="#acb2c4"/><circle cx="287.39" cy="179.91" r="2.0" fill="#acb2c4"/><circle cx="297.34" cy="162.12" r="2.0" fill="#acb2c4"/>
<line x1="192.34" y1="234.94" x2="302.84" y2="144.34" stroke="#d97d71" stroke-width="0.9"/>
<polyline points="187.50,133.80 187.50,239.20 307.70,239.20" fill="none" stroke="#666" stroke-width="1.0"/>
<line x1="184.70" y1="138.00" x2="187.00" y2="138.00" stroke="#333" stroke-width="0.75"/>
<text class="t" x="183.55" y="141.20" font-size="9.0" letter-spacing="0.05" text-anchor="end" fill="#1f1f1f" color="#1f1f1f">4</text>
<line x1="184.70" y1="161.70" x2="187.00" y2="161.70" stroke="#333" stroke-width="0.75"/>
<text class="t" x="183.55" y="164.90" font-size="9.0" letter-spacing="0.05" text-anchor="end" fill="#1f1f1f" color="#1f1f1f">3</text>
<line x1="184.70" y1="186.00" x2="187.00" y2="186.00" stroke="#333" stroke-width="0.75"/>
<text class="t" x="183.55" y="189.20" font-size="9.0" letter-spacing="0.05" text-anchor="end" fill="#1f1f1f" color="#1f1f1f">2</text>
<line x1="184.70" y1="210.40" x2="187.00" y2="210.40" stroke="#333" stroke-width="0.75"/>
<text class="t" x="183.55" y="213.60" font-size="9.0" letter-spacing="0.05" text-anchor="end" fill="#1f1f1f" color="#1f1f1f">1</text>
<line x1="184.70" y1="234.50" x2="187.00" y2="234.50" stroke="#333" stroke-width="0.75"/>
<text class="t" x="183.55" y="237.70" font-size="9.0" letter-spacing="0.05" text-anchor="end" fill="#1f1f1f" color="#1f1f1f">0</text>
<line x1="192.30" y1="239.70" x2="192.30" y2="242.00" stroke="#333" stroke-width="0.75"/>
<text class="t" x="192.33" y="249.50" font-size="9.0" letter-spacing="0.05" text-anchor="middle" fill="#1f1f1f" color="#1f1f1f">0</text>
<line x1="241.70" y1="239.70" x2="241.70" y2="242.00" stroke="#333" stroke-width="0.75"/>
<text class="t" x="241.72" y="249.50" font-size="9.0" letter-spacing="0.05" text-anchor="middle" fill="#1f1f1f" color="#1f1f1f">1</text>
<line x1="291.20" y1="239.70" x2="291.20" y2="242.00" stroke="#333" stroke-width="0.75"/>
<text class="t" x="291.22" y="249.50" font-size="9.0" letter-spacing="0.05" text-anchor="middle" fill="#1f1f1f" color="#1f1f1f">2</text>
<text x="247.60" y="259.20" font-size="8.3" text-anchor="middle" fill="#1f1f1f" color="#1f1f1f">Real flow</text>
<g fill="#1f1f1f" color="#1f1f1f"><text x="290.50" y="258.70" font-size="9.8" text-anchor="middle">×</text><text x="294.00" y="258.80" font-size="9.0" textLength="9.6" lengthAdjust="spacingAndGlyphs">10</text><text x="304.40" y="255.20" font-size="6.0">5</text></g>
<g fill="#1f1f1f" color="#1f1f1f"><text x="191.10" y="131.90" font-size="9.8" text-anchor="middle">×</text><text x="194.60" y="132.00" font-size="9.0" textLength="9.6" lengthAdjust="spacingAndGlyphs">10</text><text x="205.00" y="128.40" font-size="6.0">4</text></g>
<text x="193.50" y="144.80" font-size="8.3" text-anchor="start" fill="#1f1f1f" color="#1f1f1f">Pearson Corr: 0.81</text>
<circle cx="345.69" cy="226.90" r="2.0" fill="#acb2c4"/><circle cx="346.33" cy="228.38" r="2.0" fill="#acb2c4"/><circle cx="346.75" cy="230.07" r="2.0" fill="#acb2c4"/><circle cx="347.39" cy="231.13" r="2.0" fill="#acb2c4"/><circle cx="348.45" cy="234.94" r="2.0" fill="#acb2c4"/><circle cx="348.87" cy="227.96" r="2.0" fill="#acb2c4"/><circle cx="349.93" cy="225.84" r="2.0" fill="#acb2c4"/><circle cx="345.27" cy="228.38" r="2.0" fill="#acb2c4"/><circle cx="346.75" cy="225.42" r="2.0" fill="#acb2c4"/><circle cx="347.81" cy="229.01" r="2.0" fill="#acb2c4"/><circle cx="349.50" cy="226.90" r="2.0" fill="#acb2c4"/><circle cx="350.56" cy="226.26" r="2.0" fill="#acb2c4"/><circle cx="350.99" cy="218.85" r="2.0" fill="#acb2c4"/><circle cx="353.10" cy="209.33" r="2.0" fill="#acb2c4"/><circle cx="355.85" cy="198.74" r="2.0" fill="#acb2c4"/><circle cx="360.09" cy="194.93" r="2.0" fill="#acb2c4"/><circle cx="365.17" cy="220.34" r="2.0" fill="#acb2c4"/><circle cx="366.86" cy="190.28" r="2.0" fill="#acb2c4"/><circle cx="386.12" cy="179.69" r="2.0" fill="#acb2c4"/><circle cx="395.65" cy="200.01" r="2.0" fill="#acb2c4"/><circle cx="401.15" cy="169.53" r="2.0" fill="#acb2c4"/><circle cx="406.23" cy="159.80" r="2.0" fill="#acb2c4"/><circle cx="411.31" cy="155.99" r="2.0" fill="#acb2c4"/><circle cx="413.85" cy="163.18" r="2.0" fill="#acb2c4"/><circle cx="421.90" cy="159.58" r="2.0" fill="#acb2c4"/><circle cx="424.65" cy="154.50" r="2.0" fill="#acb2c4"/><circle cx="426.13" cy="156.41" r="2.0" fill="#acb2c4"/><circle cx="445.61" cy="175.04" r="2.0" fill="#acb2c4"/>
<line x1="341.04" y1="226.90" x2="450.47" y2="138.42" stroke="#d97d71" stroke-width="0.9"/>
<polyline points="335.50,133.10 335.50,239.20 455.60,239.20" fill="none" stroke="#666" stroke-width="1.0"/>
<line x1="332.70" y1="140.50" x2="335.00" y2="140.50" stroke="#333" stroke-width="0.75"/>
<text class="t" x="331.55" y="143.70" font-size="9.0" letter-spacing="0.05" text-anchor="end" fill="#1f1f1f" color="#1f1f1f">8</text>
<line x1="332.70" y1="165.10" x2="335.00" y2="165.10" stroke="#333" stroke-width="0.75"/>
<text class="t" x="331.55" y="168.30" font-size="9.0" letter-spacing="0.05" text-anchor="end" fill="#1f1f1f" color="#1f1f1f">6</text>
<line x1="332.70" y1="189.90" x2="335.00" y2="189.90" stroke="#333" stroke-width="0.75"/>
<text class="t" x="331.55" y="193.10" font-size="9.0" letter-spacing="0.05" text-anchor="end" fill="#1f1f1f" color="#1f1f1f">4</text>
<line x1="332.70" y1="214.40" x2="335.00" y2="214.40" stroke="#333" stroke-width="0.75"/>
<text class="t" x="331.55" y="217.60" font-size="9.0" letter-spacing="0.05" text-anchor="end" fill="#1f1f1f" color="#1f1f1f">2</text>
<line x1="332.70" y1="239.00" x2="335.00" y2="239.00" stroke="#333" stroke-width="0.75"/>
<text class="t" x="331.55" y="242.20" font-size="9.0" letter-spacing="0.05" text-anchor="end" fill="#1f1f1f" color="#1f1f1f">0</text>
<line x1="345.40" y1="239.70" x2="345.40" y2="242.00" stroke="#333" stroke-width="0.75"/>
<text class="t" x="345.42" y="249.50" font-size="9.0" letter-spacing="0.05" text-anchor="middle" fill="#1f1f1f" color="#1f1f1f">0.0</text>
<line x1="379.40" y1="239.70" x2="379.40" y2="242.00" stroke="#333" stroke-width="0.75"/>
<text class="t" x="379.42" y="249.50" font-size="9.0" letter-spacing="0.05" text-anchor="middle" fill="#1f1f1f" color="#1f1f1f">0.5</text>
<line x1="413.50" y1="239.70" x2="413.50" y2="242.00" stroke="#333" stroke-width="0.75"/>
<text class="t" x="413.52" y="249.50" font-size="9.0" letter-spacing="0.05" text-anchor="middle" fill="#1f1f1f" color="#1f1f1f">1.0</text>
<line x1="447.40" y1="239.70" x2="447.40" y2="242.00" stroke="#333" stroke-width="0.75"/>
<text class="t" x="447.42" y="249.50" font-size="9.0" letter-spacing="0.05" text-anchor="middle" fill="#1f1f1f" color="#1f1f1f">1.5</text>
<text x="395.55" y="259.20" font-size="8.3" text-anchor="middle" fill="#1f1f1f" color="#1f1f1f">Real flow</text>
<g fill="#1f1f1f" color="#1f1f1f"><text x="438.40" y="258.70" font-size="9.8" text-anchor="middle">×</text><text x="441.90" y="258.80" font-size="9.0" textLength="9.6" lengthAdjust="spacingAndGlyphs">10</text><text x="452.30" y="255.20" font-size="6.0">4</text></g>
<g fill="#1f1f1f" color="#1f1f1f"><text x="339.10" y="131.90" font-size="9.8" text-anchor="middle">×</text><text x="342.60" y="132.00" font-size="9.0" textLength="9.6" lengthAdjust="spacingAndGlyphs">10</text><text x="353.00" y="128.40" font-size="6.0">3</text></g>
<text x="341.50" y="144.80" font-size="8.3" text-anchor="start" fill="#1f1f1f" color="#1f1f1f">Pearson Corr: 0.91</text>
<circle cx="499.68" cy="218.64" r="2.0" fill="#acb2c4"/><circle cx="501.16" cy="220.12" r="2.0" fill="#acb2c4"/><circle cx="502.22" cy="221.18" r="2.0" fill="#acb2c4"/><circle cx="503.70" cy="219.49" r="2.0" fill="#acb2c4"/><circle cx="504.34" cy="220.12" r="2.0" fill="#acb2c4"/><circle cx="505.39" cy="224.78" r="2.0" fill="#acb2c4"/><circle cx="510.90" cy="234.73" r="2.0" fill="#acb2c4"/><circle cx="518.73" cy="223.51" r="2.0" fill="#acb2c4"/><circle cx="523.39" cy="214.62" r="2.0" fill="#acb2c4"/><circle cx="528.68" cy="207.42" r="2.0" fill="#acb2c4"/><circle cx="536.93" cy="193.03" r="2.0" fill="#acb2c4"/><circle cx="545.61" cy="181.18" r="2.0" fill="#acb2c4"/><circle cx="546.67" cy="149.21" r="2.0" fill="#acb2c4"/><circle cx="548.36" cy="150.06" r="2.0" fill="#acb2c4"/><circle cx="549.42" cy="151.33" r="2.0" fill="#acb2c4"/><circle cx="550.91" cy="149.64" r="2.0" fill="#acb2c4"/><circle cx="555.14" cy="152.39" r="2.0" fill="#acb2c4"/><circle cx="560.01" cy="160.01" r="2.0" fill="#acb2c4"/><circle cx="567.42" cy="153.45" r="2.0" fill="#acb2c4"/><circle cx="569.11" cy="177.15" r="2.0" fill="#acb2c4"/><circle cx="570.80" cy="198.96" r="2.0" fill="#acb2c4"/><circle cx="580.12" cy="168.69" r="2.0" fill="#acb2c4"/><circle cx="593.24" cy="175.46" r="2.0" fill="#acb2c4"/>
<line x1="495.23" y1="224.36" x2="598.11" y2="138.42" stroke="#d97d71" stroke-width="0.9"/>
<polyline points="490.60,133.10 490.60,239.60 602.80,239.60" fill="none" stroke="#666" stroke-width="1.0"/>
<line x1="487.80" y1="160.20" x2="490.10" y2="160.20" stroke="#333" stroke-width="0.75"/>
<text class="t" x="486.65" y="163.40" font-size="9.0" letter-spacing="0.05" text-anchor="end" fill="#1f1f1f" color="#1f1f1f">1.5</text>
<line x1="487.80" y1="187.10" x2="490.10" y2="187.10" stroke="#333" stroke-width="0.75"/>
<text class="t" x="486.65" y="190.30" font-size="9.0" letter-spacing="0.05" text-anchor="end" fill="#1f1f1f" color="#1f1f1f">1.0</text>
<line x1="487.80" y1="213.60" x2="490.10" y2="213.60" stroke="#333" stroke-width="0.75"/>
<text class="t" x="486.65" y="216.80" font-size="9.0" letter-spacing="0.05" text-anchor="end" fill="#1f1f1f" color="#1f1f1f">0.5</text>
<line x1="497.00" y1="240.10" x2="497.00" y2="242.40" stroke="#333" stroke-width="0.75"/>
<text class="t" x="497.02" y="249.90" font-size="9.0" letter-spacing="0.05" text-anchor="middle" fill="#1f1f1f" color="#1f1f1f">0</text>
<line x1="546.00" y1="240.10" x2="546.00" y2="242.40" stroke="#333" stroke-width="0.75"/>
<text class="t" x="546.02" y="249.90" font-size="9.0" letter-spacing="0.05" text-anchor="middle" fill="#1f1f1f" color="#1f1f1f">2</text>
<line x1="595.00" y1="240.10" x2="595.00" y2="242.40" stroke="#333" stroke-width="0.75"/>
<text class="t" x="595.02" y="249.90" font-size="9.0" letter-spacing="0.05" text-anchor="middle" fill="#1f1f1f" color="#1f1f1f">4</text>
<text x="546.70" y="259.60" font-size="8.3" text-anchor="middle" fill="#1f1f1f" color="#1f1f1f">Real flow</text>
<g fill="#1f1f1f" color="#1f1f1f"><text x="585.60" y="259.10" font-size="9.8" text-anchor="middle">×</text><text x="589.10" y="259.20" font-size="9.0" textLength="9.6" lengthAdjust="spacingAndGlyphs">10</text><text x="599.50" y="255.60" font-size="6.0">5</text></g>
<g fill="#1f1f1f" color="#1f1f1f"><text x="494.20" y="131.90" font-size="9.8" text-anchor="middle">×</text><text x="497.70" y="132.00" font-size="9.0" textLength="9.6" lengthAdjust="spacingAndGlyphs">10</text><text x="508.10" y="128.40" font-size="6.0">4</text></g>
<text x="496.60" y="144.80" font-size="8.3" text-anchor="start" fill="#1f1f1f" color="#1f1f1f">Pearson Corr: 0.76</text>
<circle cx="49.21" cy="491.13" r="2.0" fill="#acb2c4"/><circle cx="51.33" cy="491.55" r="2.0" fill="#acb2c4"/><circle cx="53.87" cy="492.61" r="2.0" fill="#acb2c4"/><circle cx="54.50" cy="489.65" r="2.0" fill="#acb2c4"/><circle cx="57.68" cy="494.73" r="2.0" fill="#acb2c4"/><circle cx="63.39" cy="488.38" r="2.0" fill="#acb2c4"/><circle cx="69.96" cy="479.28" r="2.0" fill="#acb2c4"/><circle cx="76.52" cy="482.88" r="2.0" fill="#acb2c4"/><circle cx="78.85" cy="468.91" r="2.0" fill="#acb2c4"/><circle cx="91.12" cy="457.26" r="2.0" fill="#acb2c4"/><circle cx="98.74" cy="439.27" r="2.0" fill="#acb2c4"/><circle cx="101.71" cy="453.45" r="2.0" fill="#acb2c4"/><circle cx="102.77" cy="430.38" r="2.0" fill="#acb2c4"/><circle cx="102.98" cy="434.82" r="2.0" fill="#acb2c4"/><circle cx="106.79" cy="435.88" r="2.0" fill="#acb2c4"/><circle cx="108.27" cy="428.90" r="2.0" fill="#acb2c4"/><circle cx="108.91" cy="446.89" r="2.0" fill="#acb2c4"/><circle cx="110.81" cy="430.38" r="2.0" fill="#acb2c4"/><circle cx="115.04" cy="457.69" r="2.0" fill="#acb2c4"/><circle cx="122.45" cy="417.89" r="2.0" fill="#acb2c4"/><circle cx="138.12" cy="412.81" r="2.0" fill="#acb2c4"/><circle cx="148.91" cy="428.69" r="2.0" fill="#acb2c4"/>
<line x1="44.34" y1="498.54" x2="154.42" y2="401.59" stroke="#d97d71" stroke-width="0.9"/>
<polyline points="38.70,396.90 38.70,503.10 159.70,503.10" fill="none" stroke="#666" stroke-width="1.0"/>
<line x1="35.90" y1="414.30" x2="38.20" y2="414.30" stroke="#333" stroke-width="0.75"/>
<text class="t" x="34.75" y="417.50" font-size="9.0" letter-spacing="0.05" text-anchor="end" fill="#1f1f1f" color="#1f1f1f">3</text>
<line x1="35.90" y1="442.00" x2="38.20" y2="442.00" stroke="#333" stroke-width="0.75"/>
<text class="t" x="34.75" y="445.20" font-size="9.0" letter-spacing="0.05" text-anchor="end" fill="#1f1f1f" color="#1f1f1f">2</text>
<line x1="35.90" y1="470.00" x2="38.20" y2="470.00" stroke="#333" stroke-width="0.75"/>
<text class="t" x="34.75" y="473.20" font-size="9.0" letter-spacing="0.05" text-anchor="end" fill="#1f1f1f" color="#1f1f1f">1</text>
<line x1="35.90" y1="498.10" x2="38.20" y2="498.10" stroke="#333" stroke-width="0.75"/>
<text class="t" x="34.75" y="501.30" font-size="9.0" letter-spacing="0.05" text-anchor="end" fill="#1f1f1f" color="#1f1f1f">0</text>
<line x1="46.50" y1="503.60" x2="46.50" y2="505.90" stroke="#333" stroke-width="0.75"/>
<text class="t" x="46.52" y="513.40" font-size="9.0" letter-spacing="0.05" text-anchor="middle" fill="#1f1f1f" color="#1f1f1f">0.0</text>
<line x1="96.20" y1="503.60" x2="96.20" y2="505.90" stroke="#333" stroke-width="0.75"/>
<text class="t" x="96.23" y="513.40" font-size="9.0" letter-spacing="0.05" text-anchor="middle" fill="#1f1f1f" color="#1f1f1f">0.5</text>
<line x1="148.10" y1="503.60" x2="148.10" y2="505.90" stroke="#333" stroke-width="0.75"/>
<text class="t" x="148.12" y="513.40" font-size="9.0" letter-spacing="0.05" text-anchor="middle" fill="#1f1f1f" color="#1f1f1f">1.0</text>
<text x="99.20" y="523.10" font-size="8.3" text-anchor="middle" fill="#1f1f1f" color="#1f1f1f">Real flow</text>
<g fill="#1f1f1f" color="#1f1f1f"><text x="142.50" y="522.60" font-size="9.8" text-anchor="middle">×</text><text x="146.00" y="522.70" font-size="9.0" textLength="9.6" lengthAdjust="spacingAndGlyphs">10</text><text x="156.40" y="519.10" font-size="6.0">5</text></g>
<g fill="#1f1f1f" color="#1f1f1f"><text x="42.30" y="394.80" font-size="9.8" text-anchor="middle">×</text><text x="45.80" y="394.90" font-size="9.0" textLength="9.6" lengthAdjust="spacingAndGlyphs">10</text><text x="56.20" y="391.30" font-size="6.0">4</text></g>
<text x="44.70" y="408.00" font-size="8.3" text-anchor="start" fill="#1f1f1f" color="#1f1f1f">Pearson Corr: 0.93</text>
<text x="0" y="0" font-size="7.9" text-anchor="middle" fill="#1f1f1f" color="#1f1f1f" transform="translate(26.20,450.00) rotate(-90)">Flow</text>
<circle cx="206.74" cy="482.03" r="2.0" fill="#acb2c4"/><circle cx="210.34" cy="483.93" r="2.0" fill="#acb2c4"/><circle cx="218.38" cy="477.37" r="2.0" fill="#acb2c4"/><circle cx="219.86" cy="482.88" r="2.0" fill="#acb2c4"/><circle cx="221.77" cy="483.09" r="2.0" fill="#acb2c4"/><circle cx="225.15" cy="483.72" r="2.0" fill="#acb2c4"/><circle cx="228.33" cy="482.66" r="2.0" fill="#acb2c4"/><circle cx="233.62" cy="478.85" r="2.0" fill="#acb2c4"/><circle cx="234.04" cy="467.85" r="2.0" fill="#acb2c4"/><circle cx="241.03" cy="469.96" r="2.0" fill="#acb2c4"/><circle cx="242.30" cy="451.12" r="2.0" fill="#acb2c4"/><circle cx="246.32" cy="461.50" r="2.0" fill="#acb2c4"/><circle cx="253.52" cy="454.93" r="2.0" fill="#acb2c4"/><circle cx="263.68" cy="431.23" r="2.0" fill="#acb2c4"/><circle cx="265.80" cy="442.45" r="2.0" fill="#acb2c4"/><circle cx="271.30" cy="430.59" r="2.0" fill="#acb2c4"/><circle cx="274.90" cy="422.34" r="2.0" fill="#acb2c4"/><circle cx="279.13" cy="416.41" r="2.0" fill="#acb2c4"/><circle cx="283.58" cy="419.58" r="2.0" fill="#acb2c4"/><circle cx="288.23" cy="412.81" r="2.0" fill="#acb2c4"/><circle cx="296.70" cy="413.45" r="2.0" fill="#acb2c4"/><circle cx="299.88" cy="414.93" r="2.0" fill="#acb2c4"/>
<line x1="201.87" y1="498.54" x2="304.96" y2="401.80" stroke="#d97d71" stroke-width="0.9"/>
<polyline points="197.60,396.90 197.60,503.20 309.40,503.20" fill="none" stroke="#666" stroke-width="1.0"/>
<line x1="194.80" y1="418.70" x2="197.10" y2="418.70" stroke="#333" stroke-width="0.75"/>
<text class="t" x="193.65" y="421.90" font-size="9.0" letter-spacing="0.05" text-anchor="end" fill="#1f1f1f" color="#1f1f1f">1.5</text>
<line x1="194.80" y1="440.80" x2="197.10" y2="440.80" stroke="#333" stroke-width="0.75"/>
<text class="t" x="193.65" y="444.00" font-size="9.0" letter-spacing="0.05" text-anchor="end" fill="#1f1f1f" color="#1f1f1f">1.0</text>
<line x1="194.80" y1="462.60" x2="197.10" y2="462.60" stroke="#333" stroke-width="0.75"/>
<text class="t" x="193.65" y="465.80" font-size="9.0" letter-spacing="0.05" text-anchor="end" fill="#1f1f1f" color="#1f1f1f">0.5</text>
<line x1="194.80" y1="484.80" x2="197.10" y2="484.80" stroke="#333" stroke-width="0.75"/>
<text class="t" x="193.65" y="488.00" font-size="9.0" letter-spacing="0.05" text-anchor="end" fill="#1f1f1f" color="#1f1f1f">0.0</text>
<line x1="218.40" y1="503.70" x2="218.40" y2="506.00" stroke="#333" stroke-width="0.75"/>
<text class="t" x="218.43" y="513.50" font-size="9.0" letter-spacing="0.05" text-anchor="middle" fill="#1f1f1f" color="#1f1f1f">7</text>
<line x1="251.20" y1="503.70" x2="251.20" y2="506.00" stroke="#333" stroke-width="0.75"/>
<text class="t" x="251.22" y="513.50" font-size="9.0" letter-spacing="0.05" text-anchor="middle" fill="#1f1f1f" color="#1f1f1f">8</text>
<line x1="283.60" y1="503.70" x2="283.60" y2="506.00" stroke="#333" stroke-width="0.75"/>
<text class="t" x="283.62" y="513.50" font-size="9.0" letter-spacing="0.05" text-anchor="middle" fill="#1f1f1f" color="#1f1f1f">9</text>
<text x="253.50" y="523.20" font-size="8.3" text-anchor="middle" fill="#1f1f1f" color="#1f1f1f">Real flow</text>
<g fill="#1f1f1f" color="#1f1f1f"><text x="292.20" y="522.70" font-size="9.8" text-anchor="middle">×</text><text x="295.70" y="522.80" font-size="9.0" textLength="9.6" lengthAdjust="spacingAndGlyphs">10</text><text x="306.10" y="519.20" font-size="6.0">3</text></g>
<g fill="#1f1f1f" color="#1f1f1f"><text x="201.20" y="394.80" font-size="9.8" text-anchor="middle">×</text><text x="204.70" y="394.90" font-size="9.0" textLength="9.6" lengthAdjust="spacingAndGlyphs">10</text><text x="215.10" y="391.30" font-size="6.0">4</text></g>
<text x="203.60" y="408.00" font-size="8.3" text-anchor="start" fill="#1f1f1f" color="#1f1f1f">Pearson Corr: 0.97</text>
<text x="0" y="0" font-size="7.9" text-anchor="middle" fill="#1f1f1f" color="#1f1f1f" transform="translate(176.30,450.05) rotate(-90)">Flow</text>
<circle cx="357.34" cy="485.42" r="2.0" fill="#acb2c4"/><circle cx="358.82" cy="484.99" r="2.0" fill="#acb2c4"/><circle cx="360.09" cy="484.36" r="2.0" fill="#acb2c4"/><circle cx="360.09" cy="486.26" r="2.0" fill="#acb2c4"/><circle cx="365.80" cy="489.01" r="2.0" fill="#acb2c4"/><circle cx="367.28" cy="483.93" r="2.0" fill="#acb2c4"/><circle cx="372.79" cy="493.25" r="2.0" fill="#acb2c4"/><circle cx="383.80" cy="488.80" r="2.0" fill="#acb2c4"/><circle cx="393.74" cy="480.76" r="2.0" fill="#acb2c4"/><circle cx="397.98" cy="469.54" r="2.0" fill="#acb2c4"/><circle cx="407.93" cy="466.79" r="2.0" fill="#acb2c4"/><circle cx="414.91" cy="415.56" r="2.0" fill="#acb2c4"/><circle cx="419.78" cy="413.87" r="2.0" fill="#acb2c4"/><circle cx="420.42" cy="452.61" r="2.0" fill="#acb2c4"/><circle cx="426.77" cy="419.58" r="2.0" fill="#acb2c4"/><circle cx="431.85" cy="451.34" r="2.0" fill="#acb2c4"/><circle cx="432.91" cy="413.87" r="2.0" fill="#acb2c4"/><circle cx="440.95" cy="436.73" r="2.0" fill="#acb2c4"/><circle cx="440.31" cy="420.85" r="2.0" fill="#acb2c4"/><circle cx="443.49" cy="426.15" r="2.0" fill="#acb2c4"/><circle cx="444.76" cy="402.01" r="2.0" fill="#acb2c4"/><circle cx="445.82" cy="405.40" r="2.0" fill="#acb2c4"/><circle cx="445.82" cy="415.56" r="2.0" fill="#acb2c4"/><circle cx="451.11" cy="417.47" r="2.0" fill="#acb2c4"/>
<line x1="353.10" y1="498.96" x2="455.77" y2="407.52" stroke="#d97d71" stroke-width="0.9"/>
<polyline points="348.40,397.40 348.40,503.30 461.00,503.30" fill="none" stroke="#666" stroke-width="1.0"/>
<line x1="345.60" y1="405.40" x2="347.90" y2="405.40" stroke="#333" stroke-width="0.75"/>
<text class="t" x="344.45" y="408.60" font-size="9.0" letter-spacing="0.05" text-anchor="end" fill="#1f1f1f" color="#1f1f1f">1.5</text>
<line x1="345.60" y1="435.50" x2="347.90" y2="435.50" stroke="#333" stroke-width="0.75"/>
<text class="t" x="344.45" y="438.70" font-size="9.0" letter-spacing="0.05" text-anchor="end" fill="#1f1f1f" color="#1f1f1f">1.0</text>
<line x1="345.60" y1="465.70" x2="347.90" y2="465.70" stroke="#333" stroke-width="0.75"/>
<text class="t" x="344.45" y="468.90" font-size="9.0" letter-spacing="0.05" text-anchor="end" fill="#1f1f1f" color="#1f1f1f">0.5</text>
<line x1="345.60" y1="496.00" x2="347.90" y2="496.00" stroke="#333" stroke-width="0.75"/>
<text class="t" x="344.45" y="499.20" font-size="9.0" letter-spacing="0.05" text-anchor="end" fill="#1f1f1f" color="#1f1f1f">0.0</text>
<line x1="350.60" y1="503.80" x2="350.60" y2="506.10" stroke="#333" stroke-width="0.75"/>
<text class="t" x="350.62" y="513.60" font-size="9.0" letter-spacing="0.05" text-anchor="middle" fill="#1f1f1f" color="#1f1f1f">0.0</text>
<line x1="395.40" y1="503.80" x2="395.40" y2="506.10" stroke="#333" stroke-width="0.75"/>
<text class="t" x="395.42" y="513.60" font-size="9.0" letter-spacing="0.05" text-anchor="middle" fill="#1f1f1f" color="#1f1f1f">0.5</text>
<line x1="440.30" y1="503.80" x2="440.30" y2="506.10" stroke="#333" stroke-width="0.75"/>
<text class="t" x="440.32" y="513.60" font-size="9.0" letter-spacing="0.05" text-anchor="middle" fill="#1f1f1f" color="#1f1f1f">1.0</text>
<text x="404.70" y="523.30" font-size="8.3" text-anchor="middle" fill="#1f1f1f" color="#1f1f1f">Real flow</text>
<g fill="#1f1f1f" color="#1f1f1f"><text x="443.80" y="522.80" font-size="9.8" text-anchor="middle">×</text><text x="447.30" y="522.90" font-size="9.0" textLength="9.6" lengthAdjust="spacingAndGlyphs">10</text><text x="457.70" y="519.30" font-size="6.0">4</text></g>
<g fill="#1f1f1f" color="#1f1f1f"><text x="352.00" y="394.80" font-size="9.8" text-anchor="middle">×</text><text x="355.50" y="394.90" font-size="9.0" textLength="9.6" lengthAdjust="spacingAndGlyphs">10</text><text x="365.90" y="391.30" font-size="6.0">4</text></g>
<text x="354.40" y="408.00" font-size="8.3" text-anchor="start" fill="#1f1f1f" color="#1f1f1f">Pearson Corr: 0.90</text>
<text x="0" y="0" font-size="7.9" text-anchor="middle" fill="#1f1f1f" color="#1f1f1f" transform="translate(327.50,450.35) rotate(-90)">Flow</text>
<circle cx="502.04" cy="483.94" r="2.0" fill="#acb2c4"/><circle cx="506.72" cy="489.31" r="2.0" fill="#acb2c4"/><circle cx="509.05" cy="488.85" r="2.0" fill="#acb2c4"/><circle cx="510.45" cy="462.69" r="2.0" fill="#acb2c4"/><circle cx="511.85" cy="489.55" r="2.0" fill="#acb2c4"/><circle cx="517.23" cy="489.78" r="2.0" fill="#acb2c4"/><circle cx="518.39" cy="486.28" r="2.0" fill="#acb2c4"/><circle cx="520.26" cy="490.95" r="2.0" fill="#acb2c4"/><circle cx="538.72" cy="473.43" r="2.0" fill="#acb2c4"/><circle cx="546.42" cy="419.94" r="2.0" fill="#acb2c4"/><circle cx="554.83" cy="456.15" r="2.0" fill="#acb2c4"/><circle cx="585.43" cy="413.40" r="2.0" fill="#acb2c4"/><circle cx="586.83" cy="438.39" r="2.0" fill="#acb2c4"/><circle cx="587.30" cy="406.39" r="2.0" fill="#acb2c4"/><circle cx="592.20" cy="408.73" r="2.0" fill="#acb2c4"/><circle cx="592.67" cy="411.53" r="2.0" fill="#acb2c4"/><circle cx="593.14" cy="415.04" r="2.0" fill="#acb2c4"/><circle cx="593.61" cy="417.84" r="2.0" fill="#acb2c4"/><circle cx="595.47" cy="415.50" r="2.0" fill="#acb2c4"/><circle cx="596.64" cy="415.74" r="2.0" fill="#acb2c4"/><circle cx="601.08" cy="404.76" r="2.0" fill="#acb2c4"/><circle cx="601.78" cy="410.60" r="2.0" fill="#acb2c4"/>
<line x1="496.91" y1="498.66" x2="606.69" y2="402.19" stroke="#d97d71" stroke-width="0.9"/>
<polyline points="491.50,397.50 491.50,503.30 612.30,503.30" fill="none" stroke="#666" stroke-width="1.0"/>
<line x1="488.70" y1="416.20" x2="491.00" y2="416.20" stroke="#333" stroke-width="0.75"/>
<text class="t" x="487.55" y="419.40" font-size="9.0" letter-spacing="0.05" text-anchor="end" fill="#1f1f1f" color="#1f1f1f">3</text>
<line x1="488.70" y1="441.90" x2="491.00" y2="441.90" stroke="#333" stroke-width="0.75"/>
<text class="t" x="487.55" y="445.10" font-size="9.0" letter-spacing="0.05" text-anchor="end" fill="#1f1f1f" color="#1f1f1f">2</text>
<line x1="488.70" y1="467.60" x2="491.00" y2="467.60" stroke="#333" stroke-width="0.75"/>
<text class="t" x="487.55" y="470.80" font-size="9.0" letter-spacing="0.05" text-anchor="end" fill="#1f1f1f" color="#1f1f1f">1</text>
<line x1="488.70" y1="493.30" x2="491.00" y2="493.30" stroke="#333" stroke-width="0.75"/>
<text class="t" x="487.55" y="496.50" font-size="9.0" letter-spacing="0.05" text-anchor="end" fill="#1f1f1f" color="#1f1f1f">0</text>
<line x1="529.40" y1="503.80" x2="529.40" y2="506.10" stroke="#333" stroke-width="0.75"/>
<text class="t" x="529.42" y="513.60" font-size="9.0" letter-spacing="0.05" text-anchor="middle" fill="#1f1f1f" color="#1f1f1f">2</text>
<line x1="578.40" y1="503.80" x2="578.40" y2="506.10" stroke="#333" stroke-width="0.75"/>
<text class="t" x="578.42" y="513.60" font-size="9.0" letter-spacing="0.05" text-anchor="middle" fill="#1f1f1f" color="#1f1f1f">4</text>
<text x="551.90" y="523.30" font-size="8.3" text-anchor="middle" fill="#1f1f1f" color="#1f1f1f">Real flow</text>
<g fill="#1f1f1f" color="#1f1f1f"><text x="595.10" y="522.80" font-size="9.8" text-anchor="middle">×</text><text x="598.60" y="522.90" font-size="9.0" textLength="9.6" lengthAdjust="spacingAndGlyphs">10</text><text x="609.00" y="519.30" font-size="6.0">3</text></g>
<g fill="#1f1f1f" color="#1f1f1f"><text x="495.10" y="394.80" font-size="9.8" text-anchor="middle">×</text><text x="498.60" y="394.90" font-size="9.0" textLength="9.6" lengthAdjust="spacingAndGlyphs">10</text><text x="509.00" y="391.30" font-size="6.0">4</text></g>
<text x="497.50" y="408.00" font-size="8.3" text-anchor="start" fill="#1f1f1f" color="#1f1f1f">Pearson Corr: 0.95</text>
<text x="0" y="0" font-size="7.9" text-anchor="middle" fill="#1f1f1f" color="#1f1f1f" transform="translate(478.20,450.40) rotate(-90)">Flow</text>
<circle cx="59.16" cy="763.25" r="2.0" fill="#acb2c4"/><circle cx="61.28" cy="763.25" r="2.0" fill="#acb2c4"/><circle cx="63.39" cy="762.82" r="2.0" fill="#acb2c4"/><circle cx="64.45" cy="761.55" r="2.0" fill="#acb2c4"/><circle cx="64.88" cy="764.31" r="2.0" fill="#acb2c4"/><circle cx="68.69" cy="766.21" r="2.0" fill="#acb2c4"/><circle cx="72.92" cy="772.77" r="2.0" fill="#acb2c4"/><circle cx="79.27" cy="755.42" r="2.0" fill="#acb2c4"/><circle cx="85.62" cy="763.25" r="2.0" fill="#acb2c4"/><circle cx="97.90" cy="750.97" r="2.0" fill="#acb2c4"/><circle cx="99.38" cy="730.01" r="2.0" fill="#acb2c4"/><circle cx="109.75" cy="738.48" r="2.0" fill="#acb2c4"/><circle cx="118.64" cy="726.84" r="2.0" fill="#acb2c4"/><circle cx="121.18" cy="715.20" r="2.0" fill="#acb2c4"/><circle cx="123.72" cy="721.76" r="2.0" fill="#acb2c4"/><circle cx="133.88" cy="699.11" r="2.0" fill="#acb2c4"/><circle cx="134.31" cy="707.79" r="2.0" fill="#acb2c4"/><circle cx="134.73" cy="711.39" r="2.0" fill="#acb2c4"/><circle cx="135.36" cy="696.99" r="2.0" fill="#acb2c4"/><circle cx="140.66" cy="697.84" r="2.0" fill="#acb2c4"/><circle cx="143.83" cy="690.22" r="2.0" fill="#acb2c4"/><circle cx="144.26" cy="698.05" r="2.0" fill="#acb2c4"/><circle cx="149.76" cy="683.87" r="2.0" fill="#acb2c4"/><circle cx="152.93" cy="680.06" r="2.0" fill="#acb2c4"/>
<line x1="54.93" y1="776.58" x2="158.01" y2="683.87" stroke="#d97d71" stroke-width="0.9"/>
<polyline points="49.40,675.40 49.40,781.40 162.80,781.40" fill="none" stroke="#666" stroke-width="1.0"/>
<line x1="46.60" y1="688.50" x2="48.90" y2="688.50" stroke="#333" stroke-width="0.75"/>
<text class="t" x="45.45" y="691.70" font-size="9.0" letter-spacing="0.05" text-anchor="end" fill="#1f1f1f" color="#1f1f1f">2.5</text>
<line x1="46.60" y1="706.50" x2="48.90" y2="706.50" stroke="#333" stroke-width="0.75"/>
<text class="t" x="45.45" y="709.70" font-size="9.0" letter-spacing="0.05" text-anchor="end" fill="#1f1f1f" color="#1f1f1f">2.0</text>
<line x1="46.60" y1="724.50" x2="48.90" y2="724.50" stroke="#333" stroke-width="0.75"/>
<text class="t" x="45.45" y="727.70" font-size="9.0" letter-spacing="0.05" text-anchor="end" fill="#1f1f1f" color="#1f1f1f">1.5</text>
<line x1="46.60" y1="742.50" x2="48.90" y2="742.50" stroke="#333" stroke-width="0.75"/>
<text class="t" x="45.45" y="745.70" font-size="9.0" letter-spacing="0.05" text-anchor="end" fill="#1f1f1f" color="#1f1f1f">1.0</text>
<line x1="46.60" y1="760.50" x2="48.90" y2="760.50" stroke="#333" stroke-width="0.75"/>
<text class="t" x="45.45" y="763.70" font-size="9.0" letter-spacing="0.05" text-anchor="end" fill="#1f1f1f" color="#1f1f1f">0.5</text>
<line x1="46.60" y1="778.50" x2="48.90" y2="778.50" stroke="#333" stroke-width="0.75"/>
<text class="t" x="45.45" y="781.70" font-size="9.0" letter-spacing="0.05" text-anchor="end" fill="#1f1f1f" color="#1f1f1f">0.0</text>
<line x1="52.50" y1="781.90" x2="52.50" y2="784.20" stroke="#333" stroke-width="0.75"/>
<text class="t" x="52.52" y="791.70" font-size="9.0" letter-spacing="0.05" text-anchor="middle" fill="#1f1f1f" color="#1f1f1f">0.0</text>
<line x1="82.80" y1="781.90" x2="82.80" y2="784.20" stroke="#333" stroke-width="0.75"/>
<text class="t" x="82.83" y="791.70" font-size="9.0" letter-spacing="0.05" text-anchor="middle" fill="#1f1f1f" color="#1f1f1f">2.5</text>
<line x1="113.10" y1="781.90" x2="113.10" y2="784.20" stroke="#333" stroke-width="0.75"/>
<text class="t" x="113.12" y="791.70" font-size="9.0" letter-spacing="0.05" text-anchor="middle" fill="#1f1f1f" color="#1f1f1f">5.0</text>
<line x1="143.40" y1="781.90" x2="143.40" y2="784.20" stroke="#333" stroke-width="0.75"/>
<text class="t" x="143.43" y="791.70" font-size="9.0" letter-spacing="0.05" text-anchor="middle" fill="#1f1f1f" color="#1f1f1f">7.5</text>
<text x="106.10" y="801.40" font-size="8.3" text-anchor="middle" fill="#1f1f1f" color="#1f1f1f">Real flow</text>
<g fill="#1f1f1f" color="#1f1f1f"><text x="145.60" y="800.90" font-size="9.8" text-anchor="middle">×</text><text x="149.10" y="801.00" font-size="9.0" textLength="9.6" lengthAdjust="spacingAndGlyphs">10</text><text x="159.50" y="797.40" font-size="6.0">4</text></g>
<g fill="#1f1f1f" color="#1f1f1f"><text x="53.00" y="673.40" font-size="9.8" text-anchor="middle">×</text><text x="56.50" y="673.50" font-size="9.0" textLength="9.6" lengthAdjust="spacingAndGlyphs">10</text><text x="66.90" y="669.90" font-size="6.0">4</text></g>
<text x="55.40" y="686.60" font-size="8.3" text-anchor="start" fill="#1f1f1f" color="#1f1f1f">Pearson Corr: 0.97</text>
<text x="0" y="0" font-size="7.9" text-anchor="middle" fill="#1f1f1f" color="#1f1f1f" transform="translate(29.40,728.40) rotate(-90)">Flow</text>
<circle cx="207.80" cy="762.19" r="2.0" fill="#acb2c4"/><circle cx="209.70" cy="762.61" r="2.0" fill="#acb2c4"/><circle cx="211.39" cy="761.13" r="2.0" fill="#acb2c4"/><circle cx="212.45" cy="762.19" r="2.0" fill="#acb2c4"/><circle cx="214.15" cy="763.25" r="2.0" fill="#acb2c4"/><circle cx="220.92" cy="764.09" r="2.0" fill="#acb2c4"/><circle cx="225.15" cy="757.96" r="2.0" fill="#acb2c4"/><circle cx="227.91" cy="766.00" r="2.0" fill="#acb2c4"/><circle cx="242.09" cy="760.71" r="2.0" fill="#acb2c4"/><circle cx="245.90" cy="742.29" r="2.0" fill="#acb2c4"/><circle cx="257.12" cy="753.09" r="2.0" fill="#acb2c4"/><circle cx="267.91" cy="742.93" r="2.0" fill="#acb2c4"/><circle cx="270.45" cy="715.41" r="2.0" fill="#acb2c4"/><circle cx="275.11" cy="734.67" r="2.0" fill="#acb2c4"/><circle cx="279.55" cy="727.69" r="2.0" fill="#acb2c4"/><circle cx="287.81" cy="685.14" r="2.0" fill="#acb2c4"/><circle cx="288.23" cy="691.07" r="2.0" fill="#acb2c4"/><circle cx="289.72" cy="718.37" r="2.0" fill="#acb2c4"/><circle cx="291.83" cy="698.05" r="2.0" fill="#acb2c4"/><circle cx="294.58" cy="680.06" r="2.0" fill="#acb2c4"/><circle cx="295.01" cy="691.07" r="2.0" fill="#acb2c4"/><circle cx="295.64" cy="704.61" r="2.0" fill="#acb2c4"/><circle cx="300.51" cy="689.16" r="2.0" fill="#acb2c4"/><circle cx="300.93" cy="684.50" r="2.0" fill="#acb2c4"/>
<line x1="202.93" y1="776.58" x2="306.01" y2="689.80" stroke="#d97d71" stroke-width="0.9"/>
<polyline points="198.20,675.40 198.20,781.40 309.80,781.40" fill="none" stroke="#666" stroke-width="1.0"/>
<line x1="195.40" y1="695.50" x2="197.70" y2="695.50" stroke="#333" stroke-width="0.75"/>
<text class="t" x="194.25" y="698.70" font-size="9.0" letter-spacing="0.05" text-anchor="end" fill="#1f1f1f" color="#1f1f1f">1.5</text>
<line x1="195.40" y1="719.90" x2="197.70" y2="719.90" stroke="#333" stroke-width="0.75"/>
<text class="t" x="194.25" y="723.10" font-size="9.0" letter-spacing="0.05" text-anchor="end" fill="#1f1f1f" color="#1f1f1f">1.0</text>
<line x1="195.40" y1="744.20" x2="197.70" y2="744.20" stroke="#333" stroke-width="0.75"/>
<text class="t" x="194.25" y="747.40" font-size="9.0" letter-spacing="0.05" text-anchor="end" fill="#1f1f1f" color="#1f1f1f">0.5</text>
<line x1="195.40" y1="768.50" x2="197.70" y2="768.50" stroke="#333" stroke-width="0.75"/>
<text class="t" x="194.25" y="771.70" font-size="9.0" letter-spacing="0.05" text-anchor="end" fill="#1f1f1f" color="#1f1f1f">0.0</text>
<line x1="199.30" y1="781.90" x2="199.30" y2="784.20" stroke="#333" stroke-width="0.75"/>
<text class="t" x="199.33" y="791.70" font-size="9.0" letter-spacing="0.05" text-anchor="middle" fill="#1f1f1f" color="#1f1f1f">0</text>
<line x1="230.00" y1="781.90" x2="230.00" y2="784.20" stroke="#333" stroke-width="0.75"/>
<text class="t" x="230.03" y="791.70" font-size="9.0" letter-spacing="0.05" text-anchor="middle" fill="#1f1f1f" color="#1f1f1f">2</text>
<line x1="261.10" y1="781.90" x2="261.10" y2="784.20" stroke="#333" stroke-width="0.75"/>
<text class="t" x="261.12" y="791.70" font-size="9.0" letter-spacing="0.05" text-anchor="middle" fill="#1f1f1f" color="#1f1f1f">4</text>
<line x1="291.80" y1="781.90" x2="291.80" y2="784.20" stroke="#333" stroke-width="0.75"/>
<text class="t" x="291.82" y="791.70" font-size="9.0" letter-spacing="0.05" text-anchor="middle" fill="#1f1f1f" color="#1f1f1f">6</text>
<text x="254.00" y="801.40" font-size="8.3" text-anchor="middle" fill="#1f1f1f" color="#1f1f1f">Real flow</text>
<g fill="#1f1f1f" color="#1f1f1f"><text x="292.60" y="800.90" font-size="9.8" text-anchor="middle">×</text><text x="296.10" y="801.00" font-size="9.0" textLength="9.6" lengthAdjust="spacingAndGlyphs">10</text><text x="306.50" y="797.40" font-size="6.0">4</text></g>
<g fill="#1f1f1f" color="#1f1f1f"><text x="201.80" y="673.40" font-size="9.8" text-anchor="middle">×</text><text x="205.30" y="673.50" font-size="9.0" textLength="9.6" lengthAdjust="spacingAndGlyphs">10</text><text x="215.70" y="669.90" font-size="6.0">4</text></g>
<text x="204.20" y="686.60" font-size="8.3" text-anchor="start" fill="#1f1f1f" color="#1f1f1f">Pearson Corr: 0.92</text>
<circle cx="349.50" cy="776.58" r="2.0" fill="#acb2c4"/><circle cx="349.93" cy="773.20" r="2.0" fill="#acb2c4"/><circle cx="349.93" cy="770.66" r="2.0" fill="#acb2c4"/><circle cx="350.56" cy="769.60" r="2.0" fill="#acb2c4"/><circle cx="350.99" cy="768.54" r="2.0" fill="#acb2c4"/><circle cx="351.41" cy="761.55" r="2.0" fill="#acb2c4"/><circle cx="354.58" cy="754.15" r="2.0" fill="#acb2c4"/><circle cx="357.34" cy="762.61" r="2.0" fill="#acb2c4"/><circle cx="359.03" cy="743.77" r="2.0" fill="#acb2c4"/><circle cx="370.46" cy="736.79" r="2.0" fill="#acb2c4"/><circle cx="370.46" cy="748.85" r="2.0" fill="#acb2c4"/><circle cx="377.45" cy="725.57" r="2.0" fill="#acb2c4"/><circle cx="395.23" cy="734.04" r="2.0" fill="#acb2c4"/><circle cx="400.09" cy="721.12" r="2.0" fill="#acb2c4"/><circle cx="406.66" cy="719.01" r="2.0" fill="#acb2c4"/><circle cx="411.74" cy="709.91" r="2.0" fill="#acb2c4"/><circle cx="415.34" cy="699.74" r="2.0" fill="#acb2c4"/><circle cx="419.57" cy="701.01" r="2.0" fill="#acb2c4"/><circle cx="430.15" cy="707.36" r="2.0" fill="#acb2c4"/><circle cx="436.08" cy="697.20" r="2.0" fill="#acb2c4"/><circle cx="448.36" cy="698.26" r="2.0" fill="#acb2c4"/>
<line x1="344.21" y1="770.23" x2="454.07" y2="680.27" stroke="#d97d71" stroke-width="0.9"/>
<polyline points="338.50,675.40 338.50,781.30 459.00,781.30" fill="none" stroke="#666" stroke-width="1.0"/>
<line x1="335.70" y1="679.60" x2="338.00" y2="679.60" stroke="#333" stroke-width="0.75"/>
<text class="t" x="334.55" y="682.80" font-size="9.0" letter-spacing="0.05" text-anchor="end" fill="#1f1f1f" color="#1f1f1f">4</text>
<line x1="335.70" y1="705.00" x2="338.00" y2="705.00" stroke="#333" stroke-width="0.75"/>
<text class="t" x="334.55" y="708.20" font-size="9.0" letter-spacing="0.05" text-anchor="end" fill="#1f1f1f" color="#1f1f1f">3</text>
<line x1="335.70" y1="730.40" x2="338.00" y2="730.40" stroke="#333" stroke-width="0.75"/>
<text class="t" x="334.55" y="733.60" font-size="9.0" letter-spacing="0.05" text-anchor="end" fill="#1f1f1f" color="#1f1f1f">2</text>
<line x1="335.70" y1="755.80" x2="338.00" y2="755.80" stroke="#333" stroke-width="0.75"/>
<text class="t" x="334.55" y="759.00" font-size="9.0" letter-spacing="0.05" text-anchor="end" fill="#1f1f1f" color="#1f1f1f">1</text>
<line x1="335.70" y1="781.20" x2="338.00" y2="781.20" stroke="#333" stroke-width="0.75"/>
<text class="t" x="334.55" y="784.40" font-size="9.0" letter-spacing="0.05" text-anchor="end" fill="#1f1f1f" color="#1f1f1f">0</text>
<line x1="348.50" y1="781.80" x2="348.50" y2="784.10" stroke="#333" stroke-width="0.75"/>
<text class="t" x="348.52" y="791.60" font-size="9.0" letter-spacing="0.05" text-anchor="middle" fill="#1f1f1f" color="#1f1f1f">0.0</text>
<line x1="386.70" y1="781.80" x2="386.70" y2="784.10" stroke="#333" stroke-width="0.75"/>
<text class="t" x="386.72" y="791.60" font-size="9.0" letter-spacing="0.05" text-anchor="middle" fill="#1f1f1f" color="#1f1f1f">0.5</text>
<line x1="424.90" y1="781.80" x2="424.90" y2="784.10" stroke="#333" stroke-width="0.75"/>
<text class="t" x="424.92" y="791.60" font-size="9.0" letter-spacing="0.05" text-anchor="middle" fill="#1f1f1f" color="#1f1f1f">1.0</text>
<text x="398.75" y="801.30" font-size="8.3" text-anchor="middle" fill="#1f1f1f" color="#1f1f1f">Real flow</text>
<g fill="#1f1f1f" color="#1f1f1f"><text x="441.80" y="800.80" font-size="9.8" text-anchor="middle">×</text><text x="445.30" y="800.90" font-size="9.0" textLength="9.6" lengthAdjust="spacingAndGlyphs">10</text><text x="455.70" y="797.30" font-size="6.0">4</text></g>
<g fill="#1f1f1f" color="#1f1f1f"><text x="342.10" y="673.40" font-size="9.8" text-anchor="middle">×</text><text x="345.60" y="673.50" font-size="9.0" textLength="9.6" lengthAdjust="spacingAndGlyphs">10</text><text x="356.00" y="669.90" font-size="6.0">3</text></g>
<text x="344.50" y="686.60" font-size="8.3" text-anchor="start" fill="#1f1f1f" color="#1f1f1f">Pearson Corr: 0.96</text>
<circle cx="508.99" cy="761.55" r="2.0" fill="#acb2c4"/><circle cx="510.69" cy="761.77" r="2.0" fill="#acb2c4"/><circle cx="511.74" cy="762.19" r="2.0" fill="#acb2c4"/><circle cx="512.17" cy="762.82" r="2.0" fill="#acb2c4"/><circle cx="516.40" cy="766.00" r="2.0" fill="#acb2c4"/><circle cx="519.15" cy="772.35" r="2.0" fill="#acb2c4"/><circle cx="522.33" cy="759.65" r="2.0" fill="#acb2c4"/><circle cx="526.99" cy="766.00" r="2.0" fill="#acb2c4"/><circle cx="536.09" cy="754.78" r="2.0" fill="#acb2c4"/><circle cx="536.09" cy="756.47" r="2.0" fill="#acb2c4"/><circle cx="545.40" cy="747.16" r="2.0" fill="#acb2c4"/><circle cx="550.48" cy="740.81" r="2.0" fill="#acb2c4"/><circle cx="555.14" cy="743.99" r="2.0" fill="#acb2c4"/><circle cx="558.53" cy="735.73" r="2.0" fill="#acb2c4"/><circle cx="572.92" cy="724.30" r="2.0" fill="#acb2c4"/><circle cx="572.92" cy="728.32" r="2.0" fill="#acb2c4"/><circle cx="575.25" cy="698.69" r="2.0" fill="#acb2c4"/><circle cx="578.85" cy="696.57" r="2.0" fill="#acb2c4"/><circle cx="580.12" cy="708.64" r="2.0" fill="#acb2c4"/><circle cx="582.66" cy="706.09" r="2.0" fill="#acb2c4"/><circle cx="591.55" cy="688.31" r="2.0" fill="#acb2c4"/><circle cx="593.24" cy="687.04" r="2.0" fill="#acb2c4"/><circle cx="597.90" cy="680.06" r="2.0" fill="#acb2c4"/>
<line x1="504.34" y1="776.58" x2="602.77" y2="686.62" stroke="#d97d71" stroke-width="0.9"/>
<polyline points="499.40,675.40 499.40,781.30 607.60,781.30" fill="none" stroke="#666" stroke-width="1.0"/>
<line x1="496.60" y1="681.80" x2="498.90" y2="681.80" stroke="#333" stroke-width="0.75"/>
<text class="t" x="495.45" y="685.00" font-size="9.0" letter-spacing="0.05" text-anchor="end" fill="#1f1f1f" color="#1f1f1f">1.25</text>
<line x1="496.60" y1="700.40" x2="498.90" y2="700.40" stroke="#333" stroke-width="0.75"/>
<text class="t" x="495.45" y="703.60" font-size="9.0" letter-spacing="0.05" text-anchor="end" fill="#1f1f1f" color="#1f1f1f">1.00</text>
<line x1="496.60" y1="719.20" x2="498.90" y2="719.20" stroke="#333" stroke-width="0.75"/>
<text class="t" x="495.45" y="722.40" font-size="9.0" letter-spacing="0.05" text-anchor="end" fill="#1f1f1f" color="#1f1f1f">0.75</text>
<line x1="496.60" y1="737.80" x2="498.90" y2="737.80" stroke="#333" stroke-width="0.75"/>
<text class="t" x="495.45" y="741.00" font-size="9.0" letter-spacing="0.05" text-anchor="end" fill="#1f1f1f" color="#1f1f1f">0.50</text>
<line x1="496.60" y1="756.90" x2="498.90" y2="756.90" stroke="#333" stroke-width="0.75"/>
<text class="t" x="495.45" y="760.10" font-size="9.0" letter-spacing="0.05" text-anchor="end" fill="#1f1f1f" color="#1f1f1f">0.25</text>
<line x1="496.60" y1="775.50" x2="498.90" y2="775.50" stroke="#333" stroke-width="0.75"/>
<text class="t" x="495.45" y="778.70" font-size="9.0" letter-spacing="0.05" text-anchor="end" fill="#1f1f1f" color="#1f1f1f">0.00</text>
<line x1="505.00" y1="781.80" x2="505.00" y2="784.10" stroke="#333" stroke-width="0.75"/>
<text class="t" x="505.02" y="791.60" font-size="9.0" letter-spacing="0.05" text-anchor="middle" fill="#1f1f1f" color="#1f1f1f">0.0</text>
<line x1="537.10" y1="781.80" x2="537.10" y2="784.10" stroke="#333" stroke-width="0.75"/>
<text class="t" x="537.12" y="791.60" font-size="9.0" letter-spacing="0.05" text-anchor="middle" fill="#1f1f1f" color="#1f1f1f">0.5</text>
<line x1="568.90" y1="781.80" x2="568.90" y2="784.10" stroke="#333" stroke-width="0.75"/>
<text class="t" x="568.92" y="791.60" font-size="9.0" letter-spacing="0.05" text-anchor="middle" fill="#1f1f1f" color="#1f1f1f">1.0</text>
<line x1="600.70" y1="781.80" x2="600.70" y2="784.10" stroke="#333" stroke-width="0.75"/>
<text class="t" x="600.73" y="791.60" font-size="9.0" letter-spacing="0.05" text-anchor="middle" fill="#1f1f1f" color="#1f1f1f">1.5</text>
<text x="553.50" y="801.30" font-size="8.3" text-anchor="middle" fill="#1f1f1f" color="#1f1f1f">Real flow</text>
<g fill="#1f1f1f" color="#1f1f1f"><text x="590.40" y="800.80" font-size="9.8" text-anchor="middle">×</text><text x="593.90" y="800.90" font-size="9.0" textLength="9.6" lengthAdjust="spacingAndGlyphs">10</text><text x="604.30" y="797.30" font-size="6.0">5</text></g>
<g fill="#1f1f1f" color="#1f1f1f"><text x="503.00" y="673.40" font-size="9.8" text-anchor="middle">×</text><text x="506.50" y="673.50" font-size="9.0" textLength="9.6" lengthAdjust="spacingAndGlyphs">10</text><text x="516.90" y="669.90" font-size="6.0">4</text></g>
<text x="505.40" y="686.60" font-size="8.3" text-anchor="start" fill="#1f1f1f" color="#1f1f1f">Pearson Corr: 0.95</text>
<circle cx="54.20" cy="1030.92" r="2.0" fill="#acb2c4"/><circle cx="56.12" cy="1030.92" r="2.0" fill="#acb2c4"/><circle cx="57.33" cy="1030.92" r="2.0" fill="#acb2c4"/><circle cx="59.01" cy="1032.85" r="2.0" fill="#acb2c4"/><circle cx="61.91" cy="1035.98" r="2.0" fill="#acb2c4"/><circle cx="66.24" cy="1028.03" r="2.0" fill="#acb2c4"/><circle cx="69.37" cy="1029.23" r="2.0" fill="#acb2c4"/><circle cx="73.71" cy="1017.43" r="2.0" fill="#acb2c4"/><circle cx="82.38" cy="1006.11" r="2.0" fill="#acb2c4"/><circle cx="92.01" cy="993.34" r="2.0" fill="#acb2c4"/><circle cx="95.15" cy="1022.49" r="2.0" fill="#acb2c4"/><circle cx="101.65" cy="987.08" r="2.0" fill="#acb2c4"/><circle cx="108.15" cy="977.69" r="2.0" fill="#acb2c4"/><circle cx="113.69" cy="966.61" r="2.0" fill="#acb2c4"/><circle cx="113.93" cy="970.46" r="2.0" fill="#acb2c4"/><circle cx="117.55" cy="959.86" r="2.0" fill="#acb2c4"/><circle cx="120.44" cy="957.21" r="2.0" fill="#acb2c4"/><circle cx="120.68" cy="963.96" r="2.0" fill="#acb2c4"/><circle cx="123.57" cy="958.18" r="2.0" fill="#acb2c4"/><circle cx="125.74" cy="1003.94" r="2.0" fill="#acb2c4"/><circle cx="132.24" cy="945.41" r="2.0" fill="#acb2c4"/><circle cx="146.21" cy="950.71" r="2.0" fill="#acb2c4"/><circle cx="147.42" cy="972.63" r="2.0" fill="#acb2c4"/>
<line x1="49.38" y1="1039.59" x2="152.47" y2="942.04" stroke="#d97d71" stroke-width="0.9"/>
<polyline points="44.40,938.90 44.40,1044.20 157.00,1044.20" fill="none" stroke="#666" stroke-width="1.0"/>
<line x1="41.60" y1="944.90" x2="43.90" y2="944.90" stroke="#333" stroke-width="0.75"/>
<text class="t" x="40.45" y="948.10" font-size="9.0" letter-spacing="0.05" text-anchor="end" fill="#1f1f1f" color="#1f1f1f">1.25</text>
<line x1="41.60" y1="963.50" x2="43.90" y2="963.50" stroke="#333" stroke-width="0.75"/>
<text class="t" x="40.45" y="966.70" font-size="9.0" letter-spacing="0.05" text-anchor="end" fill="#1f1f1f" color="#1f1f1f">1.00</text>
<line x1="41.60" y1="983.00" x2="43.90" y2="983.00" stroke="#333" stroke-width="0.75"/>
<text class="t" x="40.45" y="986.20" font-size="9.0" letter-spacing="0.05" text-anchor="end" fill="#1f1f1f" color="#1f1f1f">0.75</text>
<line x1="41.60" y1="1002.20" x2="43.90" y2="1002.20" stroke="#333" stroke-width="0.75"/>
<text class="t" x="40.45" y="1005.40" font-size="9.0" letter-spacing="0.05" text-anchor="end" fill="#1f1f1f" color="#1f1f1f">0.50</text>
<line x1="41.60" y1="1021.50" x2="43.90" y2="1021.50" stroke="#333" stroke-width="0.75"/>
<text class="t" x="40.45" y="1024.70" font-size="9.0" letter-spacing="0.05" text-anchor="end" fill="#1f1f1f" color="#1f1f1f">0.25</text>
<line x1="41.60" y1="1040.80" x2="43.90" y2="1040.80" stroke="#333" stroke-width="0.75"/>
<text class="t" x="40.45" y="1044.00" font-size="9.0" letter-spacing="0.05" text-anchor="end" fill="#1f1f1f" color="#1f1f1f">0.00</text>
<line x1="49.40" y1="1044.70" x2="49.40" y2="1047.00" stroke="#333" stroke-width="0.75"/>
<text class="t" x="49.42" y="1054.50" font-size="9.0" letter-spacing="0.05" text-anchor="middle" fill="#1f1f1f" color="#1f1f1f">0</text>
<line x1="104.80" y1="1044.70" x2="104.80" y2="1047.00" stroke="#333" stroke-width="0.75"/>
<text class="t" x="104.83" y="1054.50" font-size="9.0" letter-spacing="0.05" text-anchor="middle" fill="#1f1f1f" color="#1f1f1f">2</text>
<text x="100.70" y="1064.20" font-size="8.3" text-anchor="middle" fill="#1f1f1f" color="#1f1f1f">Real flow</text>
<g fill="#1f1f1f" color="#1f1f1f"><text x="139.80" y="1063.70" font-size="9.8" text-anchor="middle">×</text><text x="143.30" y="1063.80" font-size="9.0" textLength="9.6" lengthAdjust="spacingAndGlyphs">10</text><text x="153.70" y="1060.20" font-size="6.0">4</text></g>
<g fill="#1f1f1f" color="#1f1f1f"><text x="48.00" y="935.90" font-size="9.8" text-anchor="middle">×</text><text x="51.50" y="936.00" font-size="9.0" textLength="9.6" lengthAdjust="spacingAndGlyphs">10</text><text x="61.90" y="932.40" font-size="6.0">4</text></g>
<text x="50.40" y="949.20" font-size="8.3" text-anchor="start" fill="#1f1f1f" color="#1f1f1f">Pearson Corr: 0.91</text>
<text x="0" y="0" font-size="7.9" text-anchor="middle" fill="#1f1f1f" color="#1f1f1f" transform="translate(18.70,991.55) rotate(-90)">Flow</text>
<circle cx="204.38" cy="1022.25" r="2.0" fill="#acb2c4"/><circle cx="207.99" cy="1023.93" r="2.0" fill="#acb2c4"/><circle cx="215.70" cy="1017.43" r="2.0" fill="#acb2c4"/><circle cx="216.91" cy="1023.21" r="2.0" fill="#acb2c4"/><circle cx="218.83" cy="1023.69" r="2.0" fill="#acb2c4"/><circle cx="222.45" cy="1023.69" r="2.0" fill="#acb2c4"/><circle cx="225.34" cy="1022.73" r="2.0" fill="#acb2c4"/><circle cx="229.91" cy="1019.60" r="2.0" fill="#acb2c4"/><circle cx="230.15" cy="1011.89" r="2.0" fill="#acb2c4"/><circle cx="236.90" cy="1008.28" r="2.0" fill="#acb2c4"/><circle cx="238.10" cy="1000.57" r="2.0" fill="#acb2c4"/><circle cx="242.20" cy="998.64" r="2.0" fill="#acb2c4"/><circle cx="248.94" cy="990.93" r="2.0" fill="#acb2c4"/><circle cx="258.34" cy="983.47" r="2.0" fill="#acb2c4"/><circle cx="260.50" cy="976.48" r="2.0" fill="#acb2c4"/><circle cx="265.80" cy="964.92" r="2.0" fill="#acb2c4"/><circle cx="269.18" cy="970.94" r="2.0" fill="#acb2c4"/><circle cx="273.03" cy="960.10" r="2.0" fill="#acb2c4"/><circle cx="277.12" cy="955.04" r="2.0" fill="#acb2c4"/><circle cx="281.70" cy="952.64" r="2.0" fill="#acb2c4"/><circle cx="289.89" cy="951.43" r="2.0" fill="#acb2c4"/><circle cx="292.78" cy="958.18" r="2.0" fill="#acb2c4"/>
<line x1="200.04" y1="1039.35" x2="297.60" y2="942.04" stroke="#d97d71" stroke-width="0.9"/>
<polyline points="195.40,938.40 195.40,1044.20 301.40,1044.20" fill="none" stroke="#666" stroke-width="1.0"/>
<line x1="192.60" y1="945.60" x2="194.90" y2="945.60" stroke="#333" stroke-width="0.75"/>
<text class="t" x="191.45" y="948.80" font-size="9.0" letter-spacing="0.05" text-anchor="end" fill="#1f1f1f" color="#1f1f1f">1.00</text>
<line x1="192.60" y1="965.40" x2="194.90" y2="965.40" stroke="#333" stroke-width="0.75"/>
<text class="t" x="191.45" y="968.60" font-size="9.0" letter-spacing="0.05" text-anchor="end" fill="#1f1f1f" color="#1f1f1f">0.75</text>
<line x1="192.60" y1="985.10" x2="194.90" y2="985.10" stroke="#333" stroke-width="0.75"/>
<text class="t" x="191.45" y="988.30" font-size="9.0" letter-spacing="0.05" text-anchor="end" fill="#1f1f1f" color="#1f1f1f">0.50</text>
<line x1="192.60" y1="1005.10" x2="194.90" y2="1005.10" stroke="#333" stroke-width="0.75"/>
<text class="t" x="191.45" y="1008.30" font-size="9.0" letter-spacing="0.05" text-anchor="end" fill="#1f1f1f" color="#1f1f1f">0.25</text>
<line x1="192.60" y1="1024.90" x2="194.90" y2="1024.90" stroke="#333" stroke-width="0.75"/>
<text class="t" x="191.45" y="1028.10" font-size="9.0" letter-spacing="0.05" text-anchor="end" fill="#1f1f1f" color="#1f1f1f">0.00</text>
<line x1="215.90" y1="1044.70" x2="215.90" y2="1047.00" stroke="#333" stroke-width="0.75"/>
<text class="t" x="215.93" y="1054.50" font-size="9.0" letter-spacing="0.05" text-anchor="middle" fill="#1f1f1f" color="#1f1f1f">7</text>
<line x1="246.50" y1="1044.70" x2="246.50" y2="1047.00" stroke="#333" stroke-width="0.75"/>
<text class="t" x="246.53" y="1054.50" font-size="9.0" letter-spacing="0.05" text-anchor="middle" fill="#1f1f1f" color="#1f1f1f">8</text>
<line x1="277.40" y1="1044.70" x2="277.40" y2="1047.00" stroke="#333" stroke-width="0.75"/>
<text class="t" x="277.42" y="1054.50" font-size="9.0" letter-spacing="0.05" text-anchor="middle" fill="#1f1f1f" color="#1f1f1f">9</text>
<text x="248.40" y="1064.20" font-size="8.3" text-anchor="middle" fill="#1f1f1f" color="#1f1f1f">Real flow</text>
<g fill="#1f1f1f" color="#1f1f1f"><text x="284.20" y="1063.70" font-size="9.8" text-anchor="middle">×</text><text x="287.70" y="1063.80" font-size="9.0" textLength="9.6" lengthAdjust="spacingAndGlyphs">10</text><text x="298.10" y="1060.20" font-size="6.0">3</text></g>
<g fill="#1f1f1f" color="#1f1f1f"><text x="199.00" y="935.90" font-size="9.8" text-anchor="middle">×</text><text x="202.50" y="936.00" font-size="9.0" textLength="9.6" lengthAdjust="spacingAndGlyphs">10</text><text x="212.90" y="932.40" font-size="6.0">4</text></g>
<text x="201.40" y="949.20" font-size="8.3" text-anchor="start" fill="#1f1f1f" color="#1f1f1f">Pearson Corr: 0.98</text>
<text x="0" y="0" font-size="7.9" text-anchor="middle" fill="#1f1f1f" color="#1f1f1f" transform="translate(168.80,991.30) rotate(-90)">Flow</text>
<circle cx="342.82" cy="1027.07" r="2.0" fill="#acb2c4"/><circle cx="344.74" cy="1026.34" r="2.0" fill="#acb2c4"/><circle cx="345.47" cy="1025.62" r="2.0" fill="#acb2c4"/><circle cx="345.47" cy="1028.51" r="2.0" fill="#acb2c4"/><circle cx="351.49" cy="1031.88" r="2.0" fill="#acb2c4"/><circle cx="353.18" cy="1023.93" r="2.0" fill="#acb2c4"/><circle cx="359.44" cy="1037.91" r="2.0" fill="#acb2c4"/><circle cx="370.76" cy="1029.96" r="2.0" fill="#acb2c4"/><circle cx="381.60" cy="1018.39" r="2.0" fill="#acb2c4"/><circle cx="386.18" cy="1015.99" r="2.0" fill="#acb2c4"/><circle cx="396.77" cy="1000.81" r="2.0" fill="#acb2c4"/><circle cx="404.00" cy="950.23" r="2.0" fill="#acb2c4"/><circle cx="409.30" cy="943.72" r="2.0" fill="#acb2c4"/><circle cx="410.02" cy="982.02" r="2.0" fill="#acb2c4"/><circle cx="416.53" cy="952.39" r="2.0" fill="#acb2c4"/><circle cx="422.07" cy="979.13" r="2.0" fill="#acb2c4"/><circle cx="423.03" cy="943.96" r="2.0" fill="#acb2c4"/><circle cx="431.22" cy="953.36" r="2.0" fill="#acb2c4"/><circle cx="431.94" cy="971.18" r="2.0" fill="#acb2c4"/><circle cx="434.59" cy="991.90" r="2.0" fill="#acb2c4"/><circle cx="436.28" cy="946.61" r="2.0" fill="#acb2c4"/><circle cx="436.76" cy="953.36" r="2.0" fill="#acb2c4"/><circle cx="437.24" cy="942.76" r="2.0" fill="#acb2c4"/><circle cx="442.54" cy="965.16" r="2.0" fill="#acb2c4"/>
<line x1="338.00" y1="1039.35" x2="448.32" y2="945.41" stroke="#d97d71" stroke-width="0.9"/>
<polyline points="332.40,938.40 332.40,1044.20 452.40,1044.20" fill="none" stroke="#666" stroke-width="1.0"/>
<line x1="329.60" y1="943.20" x2="331.90" y2="943.20" stroke="#333" stroke-width="0.75"/>
<text class="t" x="328.45" y="946.40" font-size="9.0" letter-spacing="0.05" text-anchor="end" fill="#1f1f1f" color="#1f1f1f">5</text>
<line x1="329.60" y1="963.00" x2="331.90" y2="963.00" stroke="#333" stroke-width="0.75"/>
<text class="t" x="328.45" y="966.20" font-size="9.0" letter-spacing="0.05" text-anchor="end" fill="#1f1f1f" color="#1f1f1f">4</text>
<line x1="329.60" y1="982.70" x2="331.90" y2="982.70" stroke="#333" stroke-width="0.75"/>
<text class="t" x="328.45" y="985.90" font-size="9.0" letter-spacing="0.05" text-anchor="end" fill="#1f1f1f" color="#1f1f1f">3</text>
<line x1="329.60" y1="1002.20" x2="331.90" y2="1002.20" stroke="#333" stroke-width="0.75"/>
<text class="t" x="328.45" y="1005.40" font-size="9.0" letter-spacing="0.05" text-anchor="end" fill="#1f1f1f" color="#1f1f1f">2</text>
<line x1="329.60" y1="1022.00" x2="331.90" y2="1022.00" stroke="#333" stroke-width="0.75"/>
<text class="t" x="328.45" y="1025.20" font-size="9.0" letter-spacing="0.05" text-anchor="end" fill="#1f1f1f" color="#1f1f1f">1</text>
<line x1="329.60" y1="1041.70" x2="331.90" y2="1041.70" stroke="#333" stroke-width="0.75"/>
<text class="t" x="328.45" y="1044.90" font-size="9.0" letter-spacing="0.05" text-anchor="end" fill="#1f1f1f" color="#1f1f1f">0</text>
<line x1="336.80" y1="1044.70" x2="336.80" y2="1047.00" stroke="#333" stroke-width="0.75"/>
<text class="t" x="336.82" y="1054.50" font-size="9.0" letter-spacing="0.05" text-anchor="middle" fill="#1f1f1f" color="#1f1f1f">0.0</text>
<line x1="384.50" y1="1044.70" x2="384.50" y2="1047.00" stroke="#333" stroke-width="0.75"/>
<text class="t" x="384.52" y="1054.50" font-size="9.0" letter-spacing="0.05" text-anchor="middle" fill="#1f1f1f" color="#1f1f1f">0.5</text>
<line x1="431.40" y1="1044.70" x2="431.40" y2="1047.00" stroke="#333" stroke-width="0.75"/>
<text class="t" x="431.42" y="1054.50" font-size="9.0" letter-spacing="0.05" text-anchor="middle" fill="#1f1f1f" color="#1f1f1f">1.0</text>
<text x="392.40" y="1064.20" font-size="8.3" text-anchor="middle" fill="#1f1f1f" color="#1f1f1f">Real flow</text>
<g fill="#1f1f1f" color="#1f1f1f"><text x="435.20" y="1063.70" font-size="9.8" text-anchor="middle">×</text><text x="438.70" y="1063.80" font-size="9.0" textLength="9.6" lengthAdjust="spacingAndGlyphs">10</text><text x="449.10" y="1060.20" font-size="6.0">4</text></g>
<g fill="#1f1f1f" color="#1f1f1f"><text x="336.00" y="935.90" font-size="9.8" text-anchor="middle">×</text><text x="339.50" y="936.00" font-size="9.0" textLength="9.6" lengthAdjust="spacingAndGlyphs">10</text><text x="349.90" y="932.40" font-size="6.0">3</text></g>
<text x="338.40" y="949.20" font-size="8.3" text-anchor="start" fill="#1f1f1f" color="#1f1f1f">Pearson Corr: 0.88</text>
<text x="0" y="0" font-size="7.9" text-anchor="middle" fill="#1f1f1f" color="#1f1f1f" transform="translate(318.80,991.30) rotate(-90)">Flow</text>
<circle cx="494.26" cy="1024.66" r="2.0" fill="#acb2c4"/><circle cx="499.08" cy="1029.72" r="2.0" fill="#acb2c4"/><circle cx="500.77" cy="1028.51" r="2.0" fill="#acb2c4"/><circle cx="502.69" cy="1028.03" r="2.0" fill="#acb2c4"/><circle cx="502.69" cy="1015.02" r="2.0" fill="#acb2c4"/><circle cx="504.38" cy="1029.72" r="2.0" fill="#acb2c4"/><circle cx="510.40" cy="1024.90" r="2.0" fill="#acb2c4"/><circle cx="510.40" cy="1030.44" r="2.0" fill="#acb2c4"/><circle cx="511.61" cy="1028.99" r="2.0" fill="#acb2c4"/><circle cx="512.81" cy="1032.85" r="2.0" fill="#acb2c4"/><circle cx="530.88" cy="1003.94" r="2.0" fill="#acb2c4"/><circle cx="538.82" cy="1003.70" r="2.0" fill="#acb2c4"/><circle cx="547.01" cy="978.41" r="2.0" fill="#acb2c4"/><circle cx="577.36" cy="947.82" r="2.0" fill="#acb2c4"/><circle cx="579.05" cy="947.34" r="2.0" fill="#acb2c4"/><circle cx="578.81" cy="958.42" r="2.0" fill="#acb2c4"/><circle cx="584.35" cy="942.52" r="2.0" fill="#acb2c4"/><circle cx="584.59" cy="945.65" r="2.0" fill="#acb2c4"/><circle cx="585.07" cy="946.61" r="2.0" fill="#acb2c4"/><circle cx="586.04" cy="949.74" r="2.0" fill="#acb2c4"/><circle cx="588.69" cy="981.30" r="2.0" fill="#acb2c4"/><circle cx="585.55" cy="990.45" r="2.0" fill="#acb2c4"/><circle cx="593.50" cy="956.97" r="2.0" fill="#acb2c4"/><circle cx="593.99" cy="966.12" r="2.0" fill="#acb2c4"/>
<line x1="489.45" y1="1039.59" x2="599.04" y2="946.85" stroke="#d97d71" stroke-width="0.9"/>
<polyline points="484.00,938.40 484.00,1044.20 604.30,1044.20" fill="none" stroke="#666" stroke-width="1.0"/>
<line x1="481.20" y1="949.00" x2="483.50" y2="949.00" stroke="#333" stroke-width="0.75"/>
<text class="t" x="480.05" y="952.20" font-size="9.0" letter-spacing="0.05" text-anchor="end" fill="#1f1f1f" color="#1f1f1f">8</text>
<line x1="481.20" y1="970.70" x2="483.50" y2="970.70" stroke="#333" stroke-width="0.75"/>
<text class="t" x="480.05" y="973.90" font-size="9.0" letter-spacing="0.05" text-anchor="end" fill="#1f1f1f" color="#1f1f1f">6</text>
<line x1="481.20" y1="992.40" x2="483.50" y2="992.40" stroke="#333" stroke-width="0.75"/>
<text class="t" x="480.05" y="995.60" font-size="9.0" letter-spacing="0.05" text-anchor="end" fill="#1f1f1f" color="#1f1f1f">4</text>
<line x1="481.20" y1="1014.30" x2="483.50" y2="1014.30" stroke="#333" stroke-width="0.75"/>
<text class="t" x="480.05" y="1017.50" font-size="9.0" letter-spacing="0.05" text-anchor="end" fill="#1f1f1f" color="#1f1f1f">2</text>
<line x1="481.20" y1="1036.50" x2="483.50" y2="1036.50" stroke="#333" stroke-width="0.75"/>
<text class="t" x="480.05" y="1039.70" font-size="9.0" letter-spacing="0.05" text-anchor="end" fill="#1f1f1f" color="#1f1f1f">0</text>
<line x1="522.00" y1="1044.70" x2="522.00" y2="1047.00" stroke="#333" stroke-width="0.75"/>
<text class="t" x="522.02" y="1054.50" font-size="9.0" letter-spacing="0.05" text-anchor="middle" fill="#1f1f1f" color="#1f1f1f">2</text>
<line x1="571.10" y1="1044.70" x2="571.10" y2="1047.00" stroke="#333" stroke-width="0.75"/>
<text class="t" x="571.12" y="1054.50" font-size="9.0" letter-spacing="0.05" text-anchor="middle" fill="#1f1f1f" color="#1f1f1f">4</text>
<text x="544.15" y="1064.20" font-size="8.3" text-anchor="middle" fill="#1f1f1f" color="#1f1f1f">Real flow</text>
<g fill="#1f1f1f" color="#1f1f1f"><text x="587.10" y="1063.70" font-size="9.8" text-anchor="middle">×</text><text x="590.60" y="1063.80" font-size="9.0" textLength="9.6" lengthAdjust="spacingAndGlyphs">10</text><text x="601.00" y="1060.20" font-size="6.0">3</text></g>
<g fill="#1f1f1f" color="#1f1f1f"><text x="487.60" y="935.90" font-size="9.8" text-anchor="middle">×</text><text x="491.10" y="936.00" font-size="9.0" textLength="9.6" lengthAdjust="spacingAndGlyphs">10</text><text x="501.50" y="932.40" font-size="6.0">3</text></g>
<text x="490.00" y="949.20" font-size="8.3" text-anchor="start" fill="#1f1f1f" color="#1f1f1f">Pearson Corr: 0.93</text>
<text x="0" y="0" font-size="7.9" text-anchor="middle" fill="#1f1f1f" color="#1f1f1f" transform="translate(471.20,991.30) rotate(-90)">Flow</text>
<text x="0.6" y="20.6" font-size="34" font-weight="bold" fill="#000" color="#000">a</text>
<text x="3.6" y="564.6" font-size="35" font-weight="bold" fill="#000" color="#000">b</text>
<rect x="619.3" y="36.4" width="63.2" height="48.9" rx="1.5" fill="#fff" stroke="#d4d4d4" stroke-width="0.8"/>
<line x1="624" y1="46.8" x2="642" y2="46.8" stroke="#6b63b5" stroke-width="1.2"/>
<text x="643.90" y="49.30" font-size="8.1" text-anchor="start" fill="#222" color="#222">Real flow</text>
<line x1="624" y1="61.5" x2="642" y2="61.5" stroke="#d58b68" stroke-width="1.2"/>
<text x="643.90" y="64.00" font-size="8.1" text-anchor="start" fill="#222" color="#222">Weekday</text>
<line x1="624" y1="76.2" x2="642" y2="76.2" stroke="#a87a70" stroke-width="1.2"/>
<text x="645.30" y="78.70" font-size="8.1" text-anchor="start" fill="#222" color="#222">Holiday</text>
</svg></body></html>
